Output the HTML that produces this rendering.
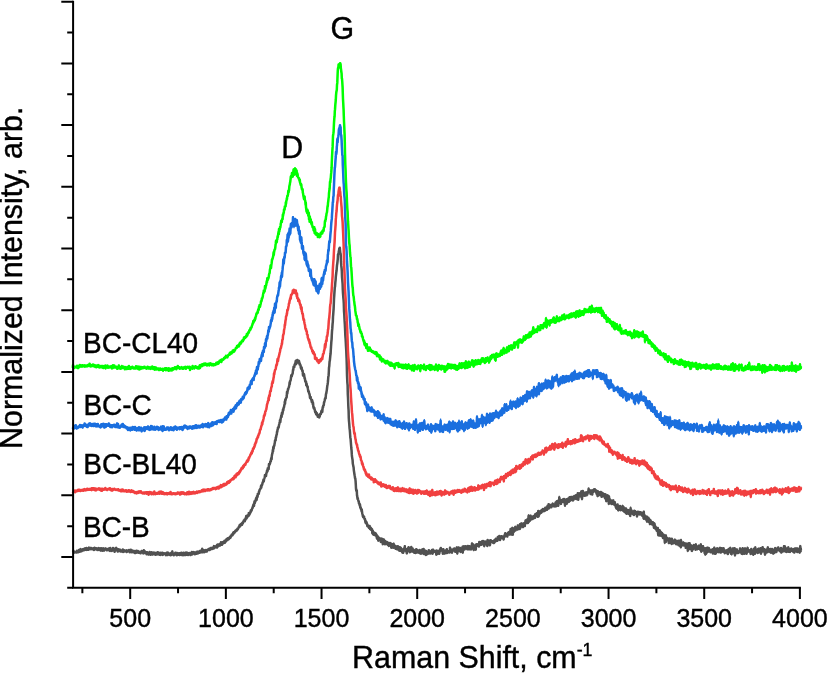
<!DOCTYPE html>
<html lang="en"><head><meta charset="utf-8"><title>Raman spectra</title>
<style>
html,body{margin:0;padding:0;background:#fff;}
body{width:827px;height:673px;overflow:hidden;position:relative;font-family:"Liberation Sans",Arial,sans-serif;}
svg{position:absolute;left:0;top:0;display:block;}
text{font-family:"Liberation Sans",Arial,sans-serif;fill:#000;stroke:#000;stroke-width:0.4px;}
.tk{font-size:25px;text-anchor:middle;}
.lb{font-size:28px;}
.pk{font-size:30.4px;}
.ti{font-size:30.4px;}
.cv{fill:none;stroke-width:2.5;stroke-linejoin:round;stroke-linecap:butt;}
.fz{fill:none;stroke-width:1.1;stroke-linejoin:bevel;stroke-linecap:butt;}
</style></head><body>
<svg width="827" height="673" viewBox="0 0 827 673">
<rect width="827" height="673" fill="#fff"/>
<g stroke="#515151"><path class="cv" d="M72.8,550.3l.2 .3l.3 .1l.3 .8l.2-.2l.2 .4l.3 .7l.3 .2l.2-.1l.2-.5l.3-.1l.3 0l.2 .3l.2 .2l.3-.7l.3-.3l.2 1l.2-1.6l.3 1.1l.3 .3l.2-1l.2-.2l.3 .2l.3 .9l.2-.6l.2-1.4l.3 .8l.3 .9l.2-.2l.2-.5l.3-.7l.3-1.3l.2 1.3l.2-.3l.3 .1l.3 1l.2-1l.2 0l.3 .2l.3-.6l.2-.6l.2 .2l.3 1l.3-.3l.2-.8l.2 1l.3-.7l.3-1.2l.2 1.3l.2-.5l.3-.8l.3 1.3l.2-.6l.2 0l.3 .8l.3-1.9l.2 .6l.2 .6l.3 .5l.3-.7l.2-.3l.2 0l.3 .6l.3 .5l.2-1.6l.2-.6l.3 1.1l.3-.2l.2-.5l.2 1l.3 .1l.3-1l.2 .2l.2 .8l.3-.5l.3-.6l.2 1l.2-.5l.3 .8l.3-.7l.2 .2l.2 .4l.3-.5l.3-.4l.2-.2l.2 1.9l.3-.4l.3-1.8l.2 .3l.2 1.1l.3-.9l.3 .4l.2 .5l.2-.6l.3-.2l.3-.2l.2 .3l.2 .4l.3 1.1l.3-.4l.2-.8l.2 .9l.3-.5l.3-1.1l.2 1l.2 .8l.3-1.1l.3 1l.2-.9l.2 .2l.3-.8l.3 2.3l.2-1l.2 .3l.3-1l.3-.6l.2 1.9l.2-1.3l.3 1.7l.3-1.2l.2 1.3l.2-1.6l.3-.7l.3 1.8l.2-.5l.2 .1l.3 .7l.3-1.3l.2-.3l.2 .1l.3-.4l.3-.1l.2 .4l.2 .2l.3 .4l.3-.5l.2 .7l.2 .6l.3-.7l.3 .4l.2-1l.2 .8l.3 .1l.3-.8l.2-.6l.2 .9l.3 .2l.3 1l.2-1.2l.2 1.5l.3-2.8l.3 1.5l.2-.1l.2 .1l.3-.1l.3 .3l.2 1.1l.2-1.3l.3 .9l.3-.9l.2 .1l.2-1.6l.3 1.8l.3 .4l.2-1l.2 .5l.3-.1l.3 2.1l.2-2.1l.2 .2l.3-1.5l.3 .7l.2 1.1l.2-1.2l.3-1.1l.3 1.5l.2 .2l.2 .1l.3 .1l.3-.6l.2 2.4l.2-2.1l.3 .9l.3-1l.2 .7l.2-.4l.3 1.3l.3-.3l.2-.3l.2-.8l.3 1.8l.3 0l.2 0l.2-.8l.3 .5l.3 0l.2-.3l.2 .6l.3-1.1l.3 .3l.2-1.1l.2 2.5l.3-1.9l.3 .8l.2 .3l.2-.9l.3 .6l.3 .6l.2-.5l.2-.2l.3 .1l.3-.3l.2 .4l.2 .4l.3 .1l.3 .4l.2-.8l.2-.7l.3 1.1l.3-.5l.2 .4l.2-.6l.3 .2l.3-.1l.2 .2l.2-1.1l.3 .7l.3 .3l.2 1.2l.2-1.2l.3 .4l.3-.4l.2-1.3l.2 2.4l.3-.4l.3 .5l.2-1.8l.2 1.3l.3 0l.3-1.1l.2 1.5l.2-.6l.3 .8l.3-1.4l.2 .5l.2 .1l.3-.5l.3 1l.2 .9l.2-1l.3 .5l.3 .6l.2-.6l.2-.7l.3-1l.3 1.6l.2-.5l.2-.1l.3 .8l.3-.2l.2-1.4l.2 1.2l.3-.3l.3 .8l.2-.5l.2 .7l.3-1l.3 .3l.2-.1l.2 .3l.3 0l.3 1l.2-1.5l.2 .7l.3-1l.3-.3l.2 .5l.2-.6l.3 1.1l.3-.6l.2 .2l.2 .8l.3 .8l.3-1.4l.2-1.7l.2 1.8l.3 .2l.3 .7l.2-.9l.2-.6l.3 1.3l.3 .2l.2-.8l.2 .4l.3 .1l.3 1.6l.2-2.1l.2 .1l.3 .3l.3 .6l.2-.6l.2 .7l.3 .3l.3 .9l.2-1.4l.2 0l.3 0l.3-1.1l.2 .4l.2 .8l.3 0l.3 1.5l.2-1l.2-.4l.3 .5l.3-1.5l.2 .1l.2 0l.3 .4l.3 1.7l.2-1.6l.2-.2l.3 .5l.3 .6l.2-.2l.2 .3l.3-1.3l.3 .3l.2 .5l.2 .3l.3 1l.3-1.8l.2 1.3l.2-.6l.3 .6l.3-1l.2-.5l.2 1.8l.3-.7l.3-1.5l.2 1.8l.2-1.2l.3 .7l.3 0l.2-.9l.2 1.8l.3-1.2l.3 1.5l.2-.8l.2 0l.3-.2l.3 1.1l.2-2.1l.2 .1l.3 .1l.3 1.3l.2 0l.2-.6l.3 .2l.3-1.2l.2 2.2l.2-1.2l.3 .2l.3-.4l.2 .6l.2-.6l.3 .2l.3 .1l.2-.4l.2 .1l.3 .8l.3 .1l.2 .3l.2 .5l.3-1.8l.3-.5l.2 1l.2 1.1l.3-1l.3-1.4l.2 2.3l.2-.7l.3-1.4l.3 .4l.2 .7l.2-.5l.3 .4l.3 .5l.2-.3l.2 1.1l.3-1.1l.3 1.2l.2-1.4l.2-.4l.3-.7l.3 .8l.2 .6l.2 .5l.3-3.1l.3 2.3l.2-.6l.2 1.2l.3-.8l.3 .7l.2 1l.2-1.1l.3-.3l.3 .8l.2-.5l.2-.4l.3-1l.3 .8l.2-.9l.2 1.3l.3 .3l.3-.3l.2 1.3l.2-2.1l.3 1.1l.3-.3l.2-.9l.2 1.2l.3 .1l.3 .2l.2-1l.2 .6l.3-1l.3 1.5l.2 .3l.2-1.2l.3 .1l.3-.9l.2 .7l.2-.2l.3 .4l.3-1.1l.2 2.3l.2-1l.3 .7l.3-.4l.2-.6l.2 1.5l.3-.7l.3-1.9l.2 .9l.2-.2l.3-.4l.3 2.1l.2-2.2l.2 2l.3-2.2l.3 2.3l.2-1.3l.2-1.1l.3 1.7l.3 .2l.2-1.1l.2 1.4l.3-2l.3 1.9l.2-.5l.2 .8l.3-1.6l.3 .9l.2-1l.2 1l.3-.4l.3 .5l.2-1.4l.2 1.2l.3 0l.3 .8l.2-1.3l.2 .1l.3 .6l.3-.1l.2-2.2l.2 1.5l.3 .8l.3-1l.2-1.2l.2 .9l.3 .1l.3-.8l.2 .6l.2-.9l.3 .6l.3 .2l.2 1.3l.2-.9l.3 .7l.3-.7l.2-.9l.2 0l.3 1.3l.3-1.8l.2-.1l.2 1.6l.3-1.3l.3-.4l.2 1.8l.2-1.8l.3 1l.3-.6l.2 .1l.2-.2l.3 .6l.3 .2l.2-1.9l.2 1.6l.3-1.3l.3-.1l.2 .6l.2-.9l.3-.3l.3 1.7l.2-1.5l.2-1.1l.3-.8l.3 2.5l.2-.4l.2 1.3l.3-2l.3 0l.2 .9l.2 .9l.3 .1l.3-1.1l.2-.6l.2 .5l.3 .8l.3-1.2l.2-.4l.2 .5l.3-.2l.3-.2l.2 1.4l.2-1.1l.3-.4l.3-.4l.2-.1l.2 .5l.3 0l.3-1l.2 0l.2 .1l.3-.5l.3 1.3l.2-1.5l.2 .6l.3 .4l.3-1.5l.2 0l.2 .4l.3 .3l.3-.3l.2-.1l.2 .8l.3-1.3l.3-.1l.2 .8l.2-.4l.3 .5l.3-.1l.2-1.6l.2-.8l.3 1.8l.3-.6l.2 .1l.2-1l.3 1l.3-.9l.2 .4l.2 .1l.3-.8l.3-.3l.2-.5l.2 2.2l.3-2.9l.3 1.3l.2-1.6l.2 .4l.3 1.5l.3-1.6l.2 1.2l.2-1.1l.3 .8l.3-1.7l.2 0l.2 1.7l.3-.9l.3-1l.2 .3l.2-1.7l.3 1.6l.3-.8l.2 .1l.2 1.6l.3-1.6l.3-.3l.2-.5l.2 1.1l.3-.2l.3-1.1l.2-.7l.2 .9l.3 .1l.3-1.7l.2 2l.2-1.7l.3 .5l.3-.9l.2-.3l.2 1l.3-.9l.3-1.4l.2 1.1l.2 .1l.3-1l.3 .7l.2-1.7l.2 1.1l.3-.7l.3-.2l.2 .7l.2-.6l.3-.9l.3 .4l.2-1.1l.2 .5l.3 .3l.3-.4l.2-1.7l.2 0l.3 .3l.3-.4l.2-1.2l.2 .3l.3-.1l.3 .5l.2-1.2l.2-.4l.3-.9l.3-.4l.2 1.4l.2-.9l.3-.7l.3 .7l.2-.7l.2-.8l.3 .3l.3-1l.2 .6l.2-.4l.3-.6l.3-.1l.2-.5l.2 1l.3-1l.3-1l.2 .9l.2-.6l.3-.7l.3-.3l.2-.8l.2-.5l.3 .7l.3-1.7l.2-.6l.2-.1l.3 1.3l.3-1.6l.2 .3l.2-.6l.3-.5l.3 .3l.2-.3l.2 1l.3-2l.3 0l.2 .8l.2-.8l.3-1l.3-.1l.2-1l.2 .5l.3-.6l.3-1l.2 1.7l.2-1.4l.3 .2l.3-1l.2-.9l.2-.7l.3-1.5l.3 2.5l.2-2.1l.2 .6l.3 .1l.3-1.4l.2 .4l.2 .3l.3-.8l.3 .3l.2-2.8l.2 2l.3-.2l.3-2l.2 1.1l.2-1.3l.3-.4l.3 .1l.2-1.9l.2 1.2l.3-1.6l.3 .6l.2-1.1l.2-.2l.3-1.3l.3 0l.2-1.4l.2-.3l.3-1.2l.3 .3l.2-1.3l.2 1.8l.3-3l.3-1.6l.2 1.8l.2-1.7l.3 .1l.3-.9l.2-1.3l.2-.4l.3-.9l.3 1.9l.2-1.6l.2-2.1l.3 1.2l.3-1l.2-2.4l.2-.2l.3 .2l.3-.9l.2 .6l.2-2.3l.3 .2l.3-1.7l.2-.2l.2-.4l.3-.5l.3-.2l.2-.6l.2-2l.3 1.5l.3-2.5l.2 .8l.2-.9l.3-.7l.3-1.8l.2 .1l.2-.3l.3-1.5l.3-1.3l.2 2.1l.2-2.1l.3-.8l.3-1l.2-.8l.2-1.8l.3 .7l.3-.7l.2-.5l.2 1.5l.3-2.4l.3-1l.2-.4l.2-1.6l.3 .9l.3-.8l.2-2.5l.2 .8l.3-.9l.3 .9l.2-1.9l.2-3l.3 .2l.3 .3l.2-.9l.2-.1l.3-2l.3-.5l.2 .2l.2-1.7l.3-1.5l.3 1.1l.2-3.2l.2-.9l.3-2l.3-.1l.2-3l.2 1.7l.3-4.5l.3 1.5l.2-2.7l.2-.1l.3 0l.3-2.4l.2-.7l.2-2l.3-.8l.3 .3l.2-2.9l.2 .4l.3-1.8l.3-1.6l.2 .2l.2-2.8l.3 .1l.3-2.5l.2 0l.2-1.9l.3 .4l.3-.3l.2-.9l.2-1.5l.3-1.1l.3-1.6l.2-.8l.2-1.5l.3 1.8l.3-2.9l.2-1l.2-.7l.3-1.9l.3 1.4l.2-2.9l.2-1.4l.3 1.7l.3-1.5l.2-1.4l.2-2l.3 .9l.3-2.3l.2-.7l.2 0l.3-1.9l.3-1.5l.2-2.4l.2 2.3l.3-4.1l.3 .5l.2-1.6l.2-.1l.3-.9l.3-.3l.2-1.8l.2-3.6l.3 1.6l.3-2.3l.2-.4l.2-1.9l.3 .1l.3-1.2l.2 0l.2-1.4l.3-.6l.3-3.4l.2 1.7l.2-3l.3-.1l.3-.8l.2-.9l.2-1.9l.3-2.1l.3 1.2l.2-.4l.2-1l.3-.9l.3-.5l.2-1.6l.2-2.3l.3 .2l.3-3.3l.2 .7l.2-.6l.3 .3l.3-2.1l.2-.5l.2-.8l.3 .6l.3-2.6l.2-.9l.2 3.5l.3-.8l.3-.8l.2-.6l.2-1.1l.3-1l.3 1.9l.2-1.5l.2 2.2l.3-.5l.3-1.3l.2 1.9l.2-1.7l.3 1.4l.3 2.1l.2-1.1l.2 1l.3 .4l.3 .8l.2 2.2l.2 .1l.3 .8l.3-1.3l.2 1.9l.2 .2l.3 1.6l.3-.5l.2 2.6l.2 2.3l.3-1.8l.3 0l.2 2.1l.2-1.5l.3 1.9l.3 2.3l.2-.4l.2 1.2l.3 2.2l.3-.4l.2 1.1l.2-.7l.3 3.8l.3-1.6l.2 1.7l.2 .5l.3 .8l.3-.3l.2 1.8l.2 1.2l.3 2.1l.3-.4l.2 .3l.2 1.5l.3 .9l.3 .7l.2 1.2l.2 2.2l.3-.6l.3-.4l.2 1.4l.2 .9l.3 .2l.3 1.4l.2 1.3l.2-2.2l.3 .9l.3 1.7l.2 1.8l.2-1.5l.3 3.5l.3 1.4l.2 .7l.2 .1l.3-.6l.3 1.5l.2 .5l.2 1.3l.3 1.2l.3 .1l.2-.9l.2 2.1l.3 .7l.3-1.5l.2 .4l.2 .9l.3 1.1l.3-.8l.2 2.3l.2-.7l.3 .7l.3-1.2l.2-.3l.2 .9l.3 1.2l.3-1.4l.2 .2l.2-1.9l.3-.5l.3 .2l.2 .2l.2-.9l.3-1.6l.3-1l.2 .8l.2-1.2l.3 1.6l.3-3.8l.2-1.2l.2 .6l.3-1.8l.3-.5l.2-.1l.2-2.6l.3-.5l.3-1.2l.2-1l.2-1l.3-.7l.3 .3l.2-2.5l.2-2l.3-.7l.3-2l.2-.9l.2-1.9l.3-2.5l.3-1.6l.2-1.4l.2-1.9l.3-4l.3-1.6l.2-3l.2-4.6l.3-1.8l.3-4.6l.2-.6l.2-1.8l.3-3.2l.3-2.3l.2-3.6l.2-3l.3-4.5l.3-3.3l.2-4.2l.2-3.5l.3-3l.3-4.9l.2-1.4l.2-5.2l.3-3.6l.3-4.5l.2-4.4l.2-5.4l.3-4.1l.3-4.8l.2-2.9l.2-.4l.3-3.8l.3-3l.2-3.2l.2-1.8l.3-2.5l.3-2l.2-3l.2-2.2l.3-1.7l.3-3l.2-1.8l.2-4.2l.3-.6l.3-.5l.2-2.4l.2-.3l.3-2.3l.3 1l.2-1.8l.2 2.4l.3 2.7l.3 1.1l.2 1.7l.2 5.6l.3 4.5l.3 2.7l.2 2.8l.2 5.8l.3 3.1l.3 3.9l.2 5.7l.2 3.8l.3 3.7l.3 3.1l.2 3.3l.2 7.2l.3 4.2l.3 5.9l.2 2.7l.2 4l.3 7l.3 4.3l.2 3.5l.2 4.1l.3 5l.3 7.5l.2 6.6l.2 9.5l.3 6.5l.3 3.8l.2 8.9l.2 3.1l.3 8.2l.3 5.4l.2 7.2l.2 2.9l.3 3.3l.3 4.5l.2 1.2l.2 2.6l.3 4.5l.3 1.8l.2 2.7l.2 2.6l.3 3.7l.3 2.9l.2 3.5l.2 2.2l.3 1.8l.3 1.9l.2 3.2l.2 1.1l.3 1.5l.3 1.4l.2 2.3l.2 1.5l.3 2l.3 2l.2 .9l.2 1.8l.3 .4l.3 3.1l.2 3.1l.2 3.9l.3 2.3l.3 0l.2-.4l.2 4.8l.3 1.6l.3 2.2l.2-.9l.2 1.4l.3 1l.3 1.1l.2-.3l.2 2.3l.3-.2l.3 1.6l.2 .7l.2-1.1l.3 3.2l.3-.5l.2 1l.2 .9l.3 .3l.3 1.7l.2-1.6l.2 2.5l.3 1.5l.3 .9l.2 1.4l.2 .7l.3 .7l.3-.5l.2 0l.2-.3l.3 1.5l.3 1.1l.2 0l.2 0l.3 2.2l.3 1.4l.2-1.5l.2 2.1l.3-.1l.3-.9l.2 1.6l.2-.2l.3 2.2l.3 .4l.2-.3l.2-.5l.3 1l.3 .1l.2 1l.2 .2l.3-.2l.3-1.7l.2 2.2l.2 .7l.3-1l.3-.2l.2 2.1l.2-1.5l.3 1.1l.3 .7l.2-.2l.2-.6l.3 4l.3-1.7l.2-.8l.2 3.5l.3-1.4l.3 1.5l.2 .4l.2-2.3l.3 1.9l.3 .2l.2-1.4l.2 0l.3 2.3l.3-.8l.2-1l.2 .5l.3 1.1l.3-.4l.2 3l.2 .7l.3-.9l.3-1l.2-.2l.2 .9l.3 3.3l.3-.8l.2-2.2l.2 .5l.3 1.5l.3-1.4l.2 0l.2 1.1l.3 .6l.3-.4l.2 2.5l.2-1.9l.3-.1l.3-1.4l.2 1l.2 1.1l.3 0l.3-1.8l.2 5.2l.2-2.3l.3-.1l.3-.4l.2 .2l.2-1.8l.3 2.4l.3-1l.2-.2l.2 3.4l.3-1.6l.3 .5l.2-.4l.2-.3l.3-.7l.3 2.2l.2-1.8l.2-.1l.3 .2l.3 1.9l.2 .3l.2 .4l.3-.8l.3 .1l.2 1.7l.2-2.9l.3 2.4l.3-.5l.2-.7l.2-.4l.3-.7l.3 .2l.2 .5l.2 1.1l.3 2.8l.3-2.9l.2 .6l.2-.2l.3-1l.3 .6l.2 2.8l.2-1.7l.3-1.6l.3-.6l.2 4l.2-1.8l.3-1l.3 2.6l.2-1l.2-.3l.3 .8l.3 1.8l.2-2.6l.2 2.1l.3-.7l.3-.8l.2 2.4l.2-2.1l.3 .6l.3-.6l.2-.9l.2 2l.3-1.5l.3 3.5l.2-.1l.2-2.4l.3 .1l.3-.2l.2 3.1l.2-3.3l.3 .1l.3 .3l.2 .2l.2 2.9l.3-2l.3 .8l.2-.2l.2 .2l.3 2.7l.3-.2l.2-1.5l.2-1.5l.3 3.5l.3-2.8l.2-1.3l.2 .1l.3 1l.3 .8l.2-4.2l.2 3.9l.3-.4l.3 .8l.2-1.6l.2 2.3l.3-1.7l.3 2.1l.2 1.6l.2-2.5l.3 .2l.3 0l.2-2.5l.2 2.6l.3-2.5l.3-1.4l.2 3.1l.2 .8l.3-1.8l.3-1l.2 3.9l.2-3.6l.3 3.4l.3-1.8l.2-1.1l.2 1.6l.3-3.6l.3 2l.2 .8l.2-.1l.3 1.7l.3-3l.2 2.1l.2-.8l.3 1.4l.3-.3l.2 1.2l.2-1.4l.3 2.1l.3-1.6l.2-1l.2 1l.3 .1l.3 1.7l.2-3.6l.2 1.5l.3-1.6l.3 3l.2 .1l.2-.1l.3-2.4l.3 .5l.2 1.4l.2 .5l.3 .3l.3-1.7l.2 .7l.2-.8l.3-.2l.3 .3l.2-.9l.2 2.7l.3 .7l.3-.9l.2-1.4l.2 2.6l.3-3.3l.3 2.8l.2-.3l.2 .4l.3-3.8l.3 2.9l.2-1l.2 1.7l.3-.8l.3-3.2l.2 3.5l.2 1.4l.3-1.9l.3 .3l.2-.8l.2 .5l.3-1.3l.3 3l.2 1.1l.2-3.9l.3 1.7l.3-1.1l.2 2.8l.2-1.8l.3 .8l.3-1.5l.2 1.8l.2-.4l.3-.6l.3 .3l.2-2.8l.2 3.2l.3-2.6l.3 .6l.2 .8l.2 1l.3 .2l.3-.8l.2 0l.2 .7l.3-2.1l.3 1.2l.2-.9l.2-1.5l.3 .7l.3 3l.2-2.4l.2-1.6l.3 2.2l.3-1l.2 .1l.2-.2l.3 1l.3-.3l.2-.5l.2 .5l.3-.4l.3 .8l.2 .6l.2-.9l.3 3l.3-4.1l.2 .8l.2 .5l.3 2.2l.3-.4l.2-.9l.2-1.7l.3 1.7l.3-.8l.2-.5l.2 2l.3 .2l.3-1.9l.2-1.6l.2 1.1l.3-1.9l.3-.8l.2-.5l.2 2.3l.3 0l.3-.6l.2 .1l.2 .8l.3-1l.3 2.2l.2 1.9l.2-2.5l.3-2l.3 2.4l.2 .5l.2 .6l.3 .7l.3-.3l.2 .4l.2-1.6l.3 .6l.3-2l.2 .8l.2 1.8l.3-1.5l.3-1.7l.2-.6l.2 3.8l.3-1.5l.3-.2l.2-.4l.2 1.6l.3-.8l.3-.5l.2-.2l.2-.1l.3 1.3l.3-1.3l.2 1.5l.2-4.7l.3 1.6l.3 2.2l.2-2.3l.2 .7l.3-.3l.3 .5l.2 .2l.2 2.2l.3-1.4l.3-1.3l.2 .5l.2 0l.3-.8l.3-.9l.2 1.4l.2 .3l.3-2l.3 .7l.2 .7l.2 0l.3 2l.3-2.6l.2-.5l.2 1.8l.3-2l.3 1.2l.2-2.3l.2 3.3l.3 2.7l.3-3.9l.2 0l.2 1.3l.3 .5l.3-3.7l.2 1.9l.2 .4l.3-.2l.3 .3l.2-.7l.2-.2l.3-1.2l.3 4l.2-2.3l.2 1.6l.3-1.7l.3 .2l.2-.5l.2 .9l.3-1l.3-2.4l.2 5.8l.2-3.6l.3-1.3l.3-1.2l.2 1l.2 .8l.3-1l.3 2.2l.2-3l.2 2.2l.3 0l.3-2l.2-.3l.2 .2l.3 1.2l.3-.7l.2-.1l.2 1l.3 1.3l.3-2.4l.2-.8l.2 1.4l.3 0l.3 1.8l.2-.6l.2-1l.3-1.3l.3 2.9l.2-2.6l.2 1.5l.3 .1l.3 .4l.2-2.3l.2 3l.3-1l.3-2l.2-.1l.2-2.6l.3 2.9l.3 .3l.2-2l.2 1.3l.3-1.5l.3 5.2l.2-4.2l.2 1.1l.3 .8l.3-1.1l.2 1.1l.2 .6l.3 1.4l.3-1.4l.2 1.4l.2-5l.3 .3l.3-.6l.2 1.4l.2-.8l.3 .1l.3 .7l.2 .2l.2-1.6l.3 1.3l.3-.4l.2-.4l.2 1.8l.3-4.4l.3 1.6l.2-.2l.2 0l.3-.1l.3-.5l.2 .3l.2 1.6l.3 0l.3-2.4l.2-.8l.2 1.7l.3-1.6l.3 2.5l.2-.1l.2-3.2l.3 3.2l.3-1.1l.2-1.5l.2 2.9l.3 1.6l.3-3.3l.2 .6l.2-1.7l.3 2.1l.3-1l.2 1.6l.2-1.1l.3 .8l.3-1.2l.2-1.3l.2 2.5l.3 1.9l.3-5.9l.2 3.8l.2-1.7l.3-.5l.3 2.3l.2-.4l.2 .4l.3 .2l.3-3.4l.2 4.5l.2-.4l.3-3.1l.3 .5l.2-1.9l.2 1.8l.3-.4l.3 .1l.2-.7l.2 1l.3-.5l.3-.4l.2 .7l.2 .4l.3 .6l.3-.9l.2 1.1l.2-2.6l.3 2.1l.3-2.6l.2-.1l.2-.1l.3 1.7l.3-1.9l.2-.8l.2 2l.3-1.8l.3 .7l.2 0l.2 0l.3 1.1l.3-1.9l.2-1.8l.2 2.7l.3-2.3l.3-.7l.2 .9l.2 1.5l.3-3.1l.3 .7l.2 2.4l.2 .9l.3-2.5l.3 1.1l.2-.8l.2-.4l.3-1.3l.3 1.6l.2-.9l.2 .5l.3 .5l.3 .3l.2-1.8l.2 .4l.3 1.5l.3 1.1l.2-2.5l.2 .6l.3-.3l.3-2.1l.2 1.4l.2-2.2l.3-1.1l.3 1l.2 1.3l.2-1.6l.3 2.2l.3-2.1l.2 1.7l.2-1.1l.3 2l.3-2.5l.2 .2l.2-.2l.3-1.5l.3 1.8l.2-2.1l.2-.2l.3 .5l.3-.3l.2 2.3l.2-2.8l.3 2.3l.3-5.1l.2 3.9l.2-1.2l.3 2.7l.3-4.1l.2 1.3l.2 0l.3-3.6l.3 2.9l.2 3.7l.2-4.1l.3 .8l.3-1.6l.2 2.1l.2-3.2l.3-.4l.3 2.5l.2-2.8l.2 1.8l.3-2.8l.3 3.5l.2-1.6l.2 .6l.3-.2l.3 0l.2-1.2l.2-.4l.3 1.7l.3 .2l.2-4l.2 .9l.3 .3l.3-.4l.2 2.1l.2-1.4l.3-.4l.3 1l.2 1.4l.2-4.7l.3 3.5l.3-1.1l.2-.4l.2 .2l.3-2.9l.3 2.5l.2 .3l.2-1.3l.3-1.4l.3 .5l.2 2.4l.2 .5l.3-2.4l.3 .8l.2 .6l.2-1.4l.3-1.8l.3 1.5l.2 1.7l.2-3.4l.3-.1l.3-2.2l.2 2.4l.2-1.9l.3 2.1l.3-.3l.2-2.4l.2 .1l.3 .3l.3-1.6l.2 .6l.2 3.2l.3-2.5l.3-4.6l.2 6l.2-2l.3-.4l.3 1.7l.2-.5l.2-.5l.3 0l.3-4.4l.2 3.5l.2-2.2l.3 .7l.3 1.5l.2-.1l.2-1l.3-1.3l.3 2.3l.2-2l.2 .7l.3 .1l.3 .1l.2-2.1l.2 2.2l.3-.5l.3-1.7l.2 1.1l.2 .9l.3-3.7l.3 1.1l.2-1.2l.2 .2l.3 1.6l.3-1.8l.2-.7l.2 2.3l.3-1l.3 .2l.2 1.9l.2-3.7l.3-2.1l.3 5.3l.2-2.9l.2 .2l.3 .8l.3-.4l.2-2.6l.2 .2l.3-.3l.3 .2l.2 .8l.2 .5l.3-.2l.3-2.5l.2 1l.2-1.2l.3 .2l.3 1.5l.2-1l.2-1.5l.3 1.9l.3-.1l.2-.1l.2-.7l.3-.1l.3 1l.2-2.1l.2 .6l.3-1.8l.3 1.7l.2 .7l.2-2.3l.3 .3l.3-.1l.2-.6l.2 2.3l.3-2l.3-2l.2 3l.2-2.2l.3 2l.3-4.3l.2 4.3l.2-3l.3 .8l.3 .7l.2 .3l.2-2.4l.3 2.2l.3 0l.2-1.2l.2 0l.3 1.4l.3-2.5l.2 1.4l.2-.6l.3-.4l.3-.9l.2-.7l.2 2.3l.3 .2l.3 .2l.2-1.4l.2 .5l.3-.2l.3 .3l.2-.9l.2 1.8l.3-2.5l.3-1.4l.2 1.4l.2-.7l.3 2.9l.3-3.9l.2-.9l.2 2.8l.3 .6l.3 .2l.2-3.9l.2-.3l.3 5l.3-4l.2-1.4l.2 2.7l.3-5.6l.3 2l.2 2.2l.2 1.1l.3-.9l.3 .4l.2 1l.2 .7l.3-3.6l.3 0l.2 1.4l.2-1.2l.3-.5l.3 .7l.2-1.3l.2 1.6l.3 .9l.3-1.3l.2-.5l.2-1l.3 .7l.3 0l.2 3.5l.2 2.1l.3-4.8l.3 .8l.2 2.5l.2-4.3l.3 4.1l.3-3.8l.2-.6l.2 4.1l.3-3.9l.3 1.1l.2 .7l.2-1.3l.3-1.5l.3 .7l.2 1.6l.2 .9l.3-1.3l.3-3.2l.2 2.7l.2-1.7l.3 2.4l.3-.8l.2-2.1l.2-.8l.3 .5l.3 1.1l.2 .6l.2-2l.3 1.1l.3 2.1l.2-.2l.2-3l.3 3.1l.3-.9l.2-1.3l.2 .5l.3-2.5l.3 1.4l.2 .2l.2 .3l.3-2.2l.3 2.8l.2-1.6l.2-1.6l.3 3.8l.3-.4l.2-2l.2-.9l.3 1.2l.3-2.3l.2-1.4l.2 5.3l.3 1l.3-3.2l.2-.6l.2-1.7l.3-.8l.3 .2l.2 2.5l.2-1l.3 0l.3 1.3l.2-1.5l.2 1.9l.3-5.1l.3 3.6l.2 1.5l.2 2.3l.3-3.1l.3 .3l.2-5.1l.2 4l.3-.8l.3-1.7l.2 1.4l.2-.1l.3-.6l.3 1.3l.2 1.2l.2-.9l.3-.1l.3-2.2l.2 1.8l.2-.4l.3 .3l.3 1l.2-1.4l.2-1.6l.3 2.2l.3-2.1l.2 .4l.2-.4l.3 .2l.3-3.8l.2 1.9l.2 .9l.3-.1l.3-.3l.2 .5l.2 .4l.3-1.7l.3 3.7l.2-2.1l.2 .6l.3-.4l.3-1.5l.2-.1l.2 1.5l.3 2.4l.3-3.8l.2 1.7l.2-2.1l.3 1.6l.3-1.7l.2-.5l.2-.2l.3 .3l.3 .8l.2-.6l.2-.6l.3 1.9l.3 .1l.2-.5l.2 1.6l.3-.7l.3-1.2l.2 3.6l.2-1.7l.3 0l.3 3.6l.2-4.8l.2 1l.3 .2l.3 2.8l.2-.4l.2 0l.3-2l.3 .2l.2-.7l.2 2.7l.3-2.4l.3 .5l.2-1.2l.2 3l.3-.9l.3 2.7l.2-1.2l.2-1.8l.3-.9l.3 .6l.2 2.2l.2-.5l.3 .1l.3 1l.2-2.3l.2 .1l.3 1.3l.3 .2l.2-1.3l.2 4l.3-2.3l.3-1.6l.2 2.9l.2 1.2l.3 2.6l.3-3.9l.2 1.2l.2-1.4l.3 .3l.3-1.9l.2 2.8l.2 1l.3-2.6l.3 3.7l.2 3.3l.2-7.1l.3 3.3l.3-.8l.2 .9l.2 .1l.3 3.1l.3-1.7l.2 .2l.2 1.8l.3-2.3l.3 2.9l.2-3.5l.2 .3l.3 1.7l.3-.4l.2 .4l.2-.1l.3-1.9l.3 3.8l.2-1l.2 1.1l.3-.6l.3 1.1l.2-2.6l.2 1.6l.3 .5l.3 .8l.2 1.9l.2-.5l.3 1.6l.3 .2l.2-2.1l.2 2.2l.3-.6l.3-3.3l.2 2.5l.2 2.5l.3 .7l.3-2.9l.2-.5l.2 1.8l.3-.6l.3-.3l.2 1l.2-2.7l.3 3.4l.3 .7l.2-1.7l.2-.9l.3 1.6l.3 .4l.2-1.3l.2 1l.3-2l.3-1.3l.2 4.4l.2-.5l.3 .6l.3-3.3l.2 2.4l.2 2l.3-2.9l.3 1.4l.2-1.2l.2 3.1l.3-.6l.3 1.4l.2-4.4l.2 2.4l.3-.8l.3 3.8l.2-2.4l.2-.3l.3-.4l.3-.8l.2 0l.2 .8l.3 1.3l.3-1.7l.2 3.6l.2-1.4l.3-.1l.3 1.3l.2-1l.2-1.6l.3 4.8l.3-7.7l.2 4.2l.2 .8l.3-.6l.3-2.1l.2 1l.2 0l.3 .8l.3 0l.2 1.9l.2-1.4l.3-.9l.3 2.1l.2 0l.2 1l.3-4.3l.3 1.1l.2-.9l.2 1.4l.3-1l.3 2.4l.2-1l.2-.6l.3 1.7l.3-.7l.2 .9l.2 2.3l.3-4.2l.3 .2l.2-.6l.2 2.7l.3-.4l.3-.5l.2 .5l.2-2l.3 2.4l.3-1.7l.2 1.4l.2-1.8l.3 1.2l.3-1.2l.2 2.3l.2-.3l.3-.6l.3 .6l.2-1l.2-.5l.3 3l.3-.5l.2 0l.2-.8l.3 1.1l.3 2.8l.2-6.6l.2 4.4l.3 .9l.3-1.9l.2 1l.2 .5l.3 2.4l.3-2.6l.2 .7l.2 2.4l.3-1.3l.3-1.5l.2-.3l.2 4.9l.3-2.2l.3 .9l.2-.9l.2 .6l.3-2.1l.3 4.3l.2-3.4l.2 .4l.3 .8l.3 2.6l.2-1.3l.2 3l.3-4l.3 3.7l.2-1.9l.2-.7l.3 1.3l.3 1.1l.2-1.4l.2 2.3l.3-.8l.3 .3l.2-1.8l.2 1.3l.3-.7l.3 1.8l.2 2l.2 1.2l.3-4.4l.3 .8l.2 3.5l.2-.5l.3-.9l.3 2.9l.2-2l.2 .1l.3 .7l.3 .2l.2 2.6l.2-1.7l.3 1l.3-1.5l.2-.6l.2 4.8l.3 2.2l.3-4.2l.2-.7l.2 .1l.3 1.5l.3-1.4l.2 5.2l.2-4.6l.3 3.6l.3-.9l.2-1.5l.2 1.8l.3 2l.3-2.3l.2 1.8l.2-2.5l.3 1.5l.3 .1l.2 .2l.2 3.2l.3-3.3l.3 .2l.2 .8l.2-.4l.3 2l.3 2l.2 3.2l.2-3.3l.3-2.2l.3 3.6l.2-5.1l.2 6.3l.3-4.5l.3 .8l.2-.1l.2 2.2l.3-2l.3 1.7l.2 .2l.2-1l.3 .9l.3-.9l.2 4l.2-1.6l.3-.7l.3-2.2l.2 2.8l.2-2.1l.3 .5l.3 3.2l.2-2.1l.2-1.8l.3 3.2l.3 1.7l.2-5.2l.2 1.5l.3 .7l.3 1.4l.2-1.3l.2-.1l.3-.1l.3 2.5l.2-2.2l.2 1.8l.3-2.4l.3 1.4l.2-2.2l.2 .8l.3 1.4l.3 0l.2-.7l.2 2.7l.3 .2l.3-2.1l.2-1.3l.2 .5l.3 .4l.3 1.2l.2 .6l.2 1.1l.3-.6l.3 1.3l.2-2.3l.2-2.1l.3 1.8l.3 1.8l.2 1.4l.2-2l.3 1.5l.3-.8l.2 2.7l.2-6.9l.3 2.8l.3 1l.2 1.5l.2-1.1l.3-.8l.3 .9l.2 .7l.2-1l.3-1.8l.3 1.3l.2-.6l.2 2.4l.3-2.4l.3 1.3l.2 0l.2-1.1l.3 1.2l.3 .3l.2 2.9l.2-4.4l.3 1.5l.3 1.4l.2-1.6l.2 .1l.3 .7l.3 2.1l.2 3l.2-5.5l.3-1.7l.3 3.7l.2-2.3l.2-.7l.3 .5l.3-1.4l.2 5.8l.2-.1l.3-.4l.3-.3l.2-.9l.2-1.1l.3-.7l.3 2.5l.2 2.8l.2-.2l.3-3.1l.3 1.9l.2-1.9l.2 1.8l.3-2.1l.3-1.4l.2-.7l.2 2.6l.3 .3l.3-1l.2-1.7l.2 .1l.3 .6l.3 3.8l.2-5.4l.2 2.8l.3-.1l.3 .6l.2-1.4l.2 3l.3-1l.3-.8l.2 .5l.2 .1l.3 .5l.3-1.3l.2-1.5l.2 1.3l.3 1.8l.3-1.8l.2-.9l.2 3.2l.3-3.6l.3 3.4l.2-4.7l.2 4.2l.3 2.8l.3-1.4l.2-2.3l.2 1.2l.3 1l.3 .5l.2-.8l.2-3.5l.3 4.1l.3-.6l.2-1.1l.2 .8l.3-.9l.3 4.5l.2-4.6l.2 3.8l.3 2.1l.3-4.3l.2 1.8l.2-3.5l.3 5.2l.3-3.5l.2 .8l.2 .1l.3-3.2l.3 1.8l.2 2.4l.2-1.5l.3 .7l.3-3.2l.2 .2l.2 2.7l.3-.4l.3-.4l.2 .4l.2-.6l.3 2.4l.3-1.9l.2 1l.2-.1l.3-.5l.3 1.2l.2-2.2l.2 1l.3 1.7l.3-1.9l.2 2.9l.2-4.1l.3 1l.3-.2l.2-.2l.2 2.1l.3-4.2l.3 1.9l.2 3.9l.2-2.4l.3 2.6l.3-4.1l.2 3.8l.2-2.8l.3 .1l.3 1.5l.2-2l.2-1.8l.3 2.8l.3-2.8l.2 2.2l.2 1l.3 .1l.3-1.4l.2 1.8l.2-.9l.3 .2l.3-1.9l.2 .2l.2-1.9l.3 2l.3-.3l.2 2.9l.2-1.1l.3-1.3l.3-1.8l.2 3.7l.2-3.4l.3 2l.3 .9l.2-.5l.2-2.4l.3 .3l.3-.5l.2 2.2l.2 1.5l.3-1l.3 .7l.2 1.4l.2-2l.3-.4l.3 0l.2-.3l.2 .2l.3-.2l.3 1.9l.2-2l.2 1.3l.3 1.7l.3-.8l.2 1.5l.2-4.2l.3 1.3l.3-2.1l.2 .8l.2 2.1l.3-2.6l.3 .7l.2 1.6l.2-.3l.3-3.5l.3 2.1l.2 2.9l.2 .7l.3-1.9l.3 2.5l.2-2l.2-.8l.3-1.1l.3 .5l.2 0l.2-2.4l.3 1.9l.3 .4l.2 0l.2-.9l.3 3.7l.3-5.3l.2 .9l.2 6.1l.3-4.9l.3 1.5l.2-1.1l.2-.6l.3 .6l.3 .2l.2-1.5l.2 3.5l.3-.3l.3-1.4l.2 .9l.2 1l.3-1l.3-.3l.2 .3l.2 0l.3-1.3l.3 1.5l.2-.2l.2-3.5l.3 1.3l.3 2.3l.2-.7l.2-.4l.3-1.3l.3 3.9l.2-2.8l.2 .2l.3 .9l.3-3.7l.2 5.7l.2-2.4l.3 .2l.3-.8l.2 1.7l.2-3.3l.3 1.1l.3 3.2l.2-2.5l.2-2.7l.3 2.8l.3-1.5l.2-.5l.2 3l.3-1.8l.3 3.2l.2-3.8l.2 2l.3-2.9l.3-1.1l.2 3.9l.2-2.2l.3 1.6l.3-.4l.2 .8l.2-1.2l.3-.2l.3 .6l.2 .7l.2 .1l.3-1l.3 3.4l.2-3.3l.2 .6l.3-2.2l.3 2.2l.2 .9l.2 1.1l.3-1l.3 1.3l.2-.8l.2-2.2l.3 4l.3-1.6l.2 0l.2-4.3l.3 3.3l.3-3.1l.2 2.5l.2 2.3l.3-6.2l.3 3.8l.2 1.2l.2-2.5l.3 0l.3-.4l.2 1.8l.2 .2l.3 .8l.3-2.3l.2 2.9l.2-3.8l.3-.3l.3 .7l.2-.8l.2 .9l.3 1l.3 1.3l.2 .3l.2-.9l.3 .3l.3-3.4l.2 2.6l.2 2.7l.3-3.7l.3 .9l.2-.2l.2 .9l.3-.5l.3-3.8l.2 2.4l.2-.4l.3 1.5l.3-1.8l.2 .1l.2 1.6l.3 .4l.3 1.7l.2-3.1l.2 4.8l.3-3.4l.3 2.3l.2-2.2l.2-.8l.3 1.5l.3-1.3l.2 1.4l.2-2.3l.3-.6l.3 3.2l.2-4.8l.2 3.6l.3-2.1l.3 2l.2-1.3l.2-.3l.3 .3l.3-.4l.2 2.6l.2-.9l.3-1.9l.3 .1l.2 3.5l.2-2.5l.3 1.5l.3-1.4l.2 .1l.2-1.3l.3 3.5l.3 .4l.2-3.4l.2 2.6l.3 1.4l.3-1.9l.2-.9l.2-.9l.3 2.9l.3-1.8l.2 .5l.2-1.9l.3-1.4l.3 .8l.2 .9l.2 1.1l.3 1.2l.3-1.3l.2-.9l.2 .6l.3-1.7l.3 .9l.2-1.9l.2 2.1l.3-2.3l.3 1.1l.2 .9l.2 .7l.3-.2l.3 .2l.2 .6l.2-.3l.3 .8l.3-.3l.2-.1l.2-2.9l.3 4.4l.3-2.3l.2-1l.2 2.6l.3-1.4l.3-1.7l.2 .6l.2 1.1l.3-.9l.3 1.8l.2-1.6l.2-3.5l.3 5l.3-3.6l.2-1.1l.2 2.1l.3 2l.3-2.8l.2 1.2l.2 2.4l.3 .6l.3-.8l.2-2l.2 1l.3 1.4l.3-1.5l.2 1.3l.2-.8l.3-3.2l.3 2l.2 2.4l.2-1.8l.3-.8l.3 2.3l.2-2l.2 2.5l.3-3.1l.3 1.6l.2-1.7l.2 2.1l.3-2.4l.3 1.1l.2-.7l.2 1.4l.3-.5l.3 1.1l.2-.9l.2-.3l.3 2.2l.3-1l.2 1.3l.2-3.2l.3 3.5l.3-2.1l.2-.4l.2-1.2l.3-.3l.3 2l.2 .7l.2-1l.3 .8l.3-2.5l.2 1.7l.2-.4l.3 2.3l.3-3.4l.2 .1l.2 1.8l.3 .1l.3-.6l.2 .6l.2 .4l.3-1.6l.3 3.1l.2-4.3l.2 2.8l.3-4.9l.3 5.1l.2-2.7l.1 1.8"/><path class="fz" d="M72.8,550.0l.2 .5l.3 0l.3 1.1l.2-.4l.2 .5l.3 .9l.3 .2l.2-.2l.2-.8l.3-.1l.3 0l.2 .4l.2 .3l.3-1l.3-.2l.2 1.2l.2-2.1l.3 1.5l.3 .5l.2-1.4l.2-.1l.3 .2l.3 1.3l.2-.9l.2-1.8l.3 1.2l.3 1.2l.2-.2l.2-.5l.3-1l.3-1.6l.2 1.8l.2-.4l.3 .1l.3 1.4l.2-1.4l.2 .1l.3 .3l.3-.9l.2-.7l.2 .2l.3 1.4l.3-.4l.2-1l.2 1.4l.3-1l.3-1.5l.2 1.8l.2-.8l.3-1.1l.3 1.8l.2-.8l.2 .1l.3 .9l.3-2.6l.2 .9l.2 .8l.3 .6l.3-.9l.2-.3l.2-.1l.3 .9l.3 .7l.2-2.1l.2-.8l.3 1.5l.3-.2l.2-.6l.2 1.3l.3 .2l.3-1.3l.2 .1l.2 1.2l.3-.8l.3-.8l.2 1.3l.2-.7l.3 1.1l.3-.9l.2 .2l.2 .6l.3-.6l.3-.5l.2-.4l.2 2.6l.3-.5l.3-2.5l.2 .4l.2 1.6l.3-1.2l.3 .5l.2 .7l.2-.7l.3-.3l.3-.3l.2 .4l.2 .5l.3 1.4l.3-.5l.2-1.1l.2 1.1l.3-.7l.3-1.4l.2 1.3l.2 1.1l.3-1.5l.3 1.4l.2-1.3l.2 .3l.3-1.1l.3 3.1l.2-1.3l.2 .4l.3-1.4l.3-.9l.2 2.6l.2-1.8l.3 2.3l.3-1.7l.2 1.8l.2-2.2l.3-.9l.3 2.4l.2-.7l.2 .1l.3 1l.3-1.8l.2-.4l.2 .1l.3-.5l.3-.1l.2 .5l.2 .3l.3 .5l.3-.7l.2 1l.2 .8l.3-1l.3 .5l.2-1.3l.2 1.1l.3 .2l.3-1.1l.2-.8l.2 1.3l.3 .2l.3 1.3l.2-1.6l.2 1.9l.3-3.7l.3 2l.2-.1l.2 .1l.3-.2l.3 .4l.2 1.6l.2-1.8l.3 1.2l.3-1.2l.2 .2l.2-2.3l.3 2.4l.3 .6l.2-1.5l.2 .7l.3-.1l.3 2.8l.2-2.9l.2 .2l.3-1.9l.3 1l.2 1.5l.2-1.5l.3-1.6l.3 2.2l.2 .3l.2 .1l.3 .1l.3-.8l.2 3.3l.2-3l.3 1.1l.3-1.3l.2 .8l.2-.6l.3 1.7l.3-.4l.2-.5l.2-1l.3 2.3l.3 .2l.2-.1l.2-1l.3 .7l.3 .1l.2-.4l.2 .8l.3-1.4l.3 .3l.2-1.6l.2 3.5l.3-2.6l.3 1.1l.2 .3l.2-1.2l.3 .8l.3 .7l.2-.7l.2-.2l.3 .1l.3-.4l.2 .5l.2 .5l.3 .1l.3 .6l.2-1l.2-.9l.3 1.5l.3-.6l.2 .5l.2-.8l.3 .3l.3-.2l.2 .4l.2-1.5l.3 .9l.3 .4l.2 1.5l.2-1.6l.3 .5l.3-.6l.2-1.7l.2 3.1l.3-.4l.3 .5l.2-2.3l.2 1.6l.3 0l.3-1.5l.2 2l.2-.9l.3 1.1l.3-2l.2 .8l.2 .1l.3-.7l.3 1.4l.2 1.2l.2-1.3l.3 .6l.3 .8l.2-.8l.2-.9l.3-1.4l.3 2.2l.2-.7l.2-.1l.3 1l.3-.2l.2-1.9l.2 1.7l.3-.5l.3 1.1l.2-.7l.2 1l.3-1.5l.3 .4l.2-.1l.2 .3l.3 0l.3 1.4l.2-2.1l.2 1l.3-1.3l.3-.3l.2 .7l.2-.9l.3 1.6l.3-.9l.2 .3l.2 .9l.3 1.2l.3-2l.2-2.2l.2 2.3l.3 .3l.3 1l.2-1.1l.2-.8l.3 1.8l.3 .2l.2-1.1l.2 .5l.3 .1l.3 2.1l.2-2.9l.2 .2l.3 .4l.3 .8l.2-.9l.2 .9l.3 .5l.3 1.1l.2-1.9l.2-.1l.3 0l.3-1.5l.2 .6l.2 1.2l.3-.1l.3 2.2l.2-1.4l.2-.5l.3 .6l.3-2l.2 .2l.2-.1l.3 .6l.3 2.3l.2-2.3l.2-.3l.3 .7l.3 .8l.2-.3l.2 .4l.3-1.8l.3 .4l.2 .7l.2 .4l.3 1.2l.3-2.4l.2 1.8l.2-.8l.3 .7l.3-1.2l.2-.7l.2 2.3l.3-.8l.3-2.1l.2 2.5l.2-1.6l.3 .8l.3 .1l.2-1.2l.2 2.3l.3-1.5l.3 2l.2-1.1l.2 0l.3-.3l.3 1.6l.2-2.9l.2 .2l.3 .2l.3 1.7l.2 0l.2-.8l.3 .2l.3-1.7l.2 2.9l.2-1.6l.3 .3l.3-.4l.2 .8l.2-.9l.3 .3l.3 .1l.2-.5l.2 0l.3 1.1l.3 .1l.2 .4l.2 .7l.3-2.5l.3-.6l.2 1.3l.2 1.5l.3-1.3l.3-1.8l.2 3.1l.2-1l.3-1.9l.3 .6l.2 .9l.2-.6l.3 .4l.3 .7l.2-.4l.2 1.4l.3-1.4l.3 1.6l.2-1.9l.2-.6l.3-.9l.3 1.1l.2 .8l.2 .7l.3-4.2l.3 3.2l.2-.9l.2 1.7l.3-1.1l.3 .8l.2 1.5l.2-1.6l.3-.3l.3 1l.2-.7l.2-.5l.3-1.3l.3 1.1l.2-1.2l.2 1.8l.3 .4l.3-.5l.2 1.7l.2-2.8l.3 1.5l.3-.4l.2-1.2l.2 1.6l.3 .2l.3 .3l.2-1.3l.2 .7l.3-1.2l.3 2l.2 .3l.2-1.5l.3 0l.3-1.2l.2 1l.2-.3l.3 .6l.3-1.5l.2 3.1l.2-1.5l.3 .9l.3-.5l.2-.8l.2 2l.3-.8l.3-2.6l.2 1.3l.2-.3l.3-.5l.3 2.8l.2-3l.2 2.7l.3-3l.3 3l.2-1.7l.2-1.6l.3 2.4l.3 .2l.2-1.4l.2 1.8l.3-2.6l.3 2.5l.2-.5l.2 1l.3-2.1l.3 1.2l.2-1.4l.2 1.4l.3-.5l.3 .6l.2-2l.2 1.7l.3 0l.3 1l.2-1.7l.2 .1l.3 .8l.3-.1l.2-2.9l.2 2.1l.3 1l.3-1.3l.2-1.5l.2 1.2l.3 .2l.3-1.1l.2 .9l.2-1.1l.3 .8l.3 .3l.2 1.6l.2-1.3l.3 1l.3-1l.2-1.2l.2 0l.3 1.8l.3-2.3l.2-.2l.2 2.3l.3-1.8l.3-.5l.2 2.5l.2-2.4l.3 1.3l.3-.7l.2 .1l.2-.1l.3 .7l.3 .3l.2-2.4l.2 2.2l.3-1.8l.3 0l.2 .7l.2-1.1l.3-.4l.3 2.3l.2-2l.2-1.5l.3-1.1l.3 3.3l.2-.4l.2 1.7l.3-2.7l.3 0l.2 1.2l.2 1.3l.3 0l.3-1.4l.2-.7l.2 .6l.3 1.2l.3-1.7l.2-.4l.2 .7l.3-.3l.3-.1l.2 1.8l.2-1.4l.3-.6l.3-.5l.2 0l.2 .6l.3 .1l.3-1.3l.2 0l.2 .2l.3-.7l.3 1.8l.2-2l.2 .8l.3 .7l.3-2l.2 0l.2 .5l.3 .5l.3-.3l.2-.2l.2 1.1l.3-1.8l.3-.1l.2 1.2l.2-.6l.3 .7l.3 0l.2-2.1l.2-1.1l.3 2.4l.3-.7l.2 .2l.2-1.3l.3 1.4l.3-1.1l.2 .5l.2 .2l.3-.9l.3-.4l.2-.7l.2 3l.3-3.9l.3 1.9l.2-2.2l.2 .6l.3 2.1l.3-2.1l.2 1.6l.2-1.5l.3 1.1l.3-2.3l.2 .2l.2 2.3l.3-1.2l.3-1.4l.2 .5l.2-2.3l.3 2.3l.3-1.1l.2 .2l.2 2.1l.3-2.1l.3-.2l.2-.7l.2 1.6l.3-.3l.3-1.4l.2-.9l.2 1.3l.3 .1l.3-2.2l.2 2.8l.2-2.2l.3 .7l.3-1.1l.2-.3l.2 1.4l.3-1.1l.3-1.7l.2 1.5l.2 .2l.3-1.2l.3 .9l.2-2.1l.2 1.5l.3-.8l.3-.2l.2 1l.2-.8l.3-1.2l.3 .6l.2-1.4l.2 .9l.3 .4l.3-.4l.2-2.2l.2 .1l.3 .6l.3-.4l.2-1.6l.2 .6l.3-.1l.3 .8l.2-1.5l.2-.5l.3-1.2l.3-.5l.2 2l.2-1.1l.3-.8l.3 1l.2-.8l.2-.9l.3 .5l.3-1.3l.2 .9l.2-.5l.3-.9l.3-.1l.2-.5l.2 1.4l.3-1.3l.3-1.1l.2 1.3l.2-.7l.3-.8l.3-.2l.2-1l.2-.5l.3 1l.3-2.2l.2-.7l.2-.1l.3 1.9l.3-2.1l.2 .5l.2-.7l.3-.5l.3 .4l.2-.3l.2 1.6l.3-2.6l.3 .1l.2 1.3l.2-1l.3-1.1l.3-.1l.2-1.2l.2 .7l.3-.8l.3-1.2l.2 2.4l.2-1.9l.3 .3l.3-1.3l.2-1l.2-.8l.3-1.9l.3 3.5l.2-2.7l.2 .9l.3 .2l.3-1.8l.2 .6l.2 .6l.3-1l.3 .5l.2-3.6l.2 2.9l.3-.2l.3-2.6l.2 1.7l.2-1.6l.3-.4l.3 .4l.2-2.5l.2 1.8l.3-2l.3 1l.2-1.3l.2-.1l.3-1.6l.3 .2l.2-1.8l.2-.1l.3-1.4l.3 .7l.2-1.6l.2 2.7l.3-3.9l.3-1.9l.2 2.7l.2-2.1l.3 .3l.3-1l.2-1.5l.2-.3l.3-1.1l.3 2.8l.2-2.1l.2-2.6l.3 1.8l.3-1.1l.2-3l.2 .1l.3 .5l.3-.9l.2 1.1l.2-2.9l.3 .4l.3-2l.2-.1l.2-.4l.3-.5l.3-.2l.2-.6l.2-2.4l.3 2.1l.3-3l.2 1.3l.2-.9l.3-.8l.3-2l.2 .3l.2-.2l.3-1.9l.3-1.5l.2 3l.2-2.7l.3-.8l.3-1.2l.2-.8l.2-2.3l.3 1.1l.3-.6l.2-.5l.2 2.4l.3-3l.3-1.1l.2-.3l.2-1.8l.3 1.5l.3-.9l.2-3l.2 1.2l.3-.9l.3 1.4l.2-2.3l.2-3.7l.3 .5l.3 .7l.2-1l.2 0l.3-2.3l.3-.4l.2 .5l.2-1.9l.3-1.7l.3 1.8l.2-3.9l.2-.8l.3-2.3l.3 .1l.2-3.5l.2 2.7l.3-5.7l.3 2.5l.2-3.2l.2 .3l.3 .2l.3-2.8l.2-.5l.2-2.4l.3-.7l.3 .8l.2-3.5l.2 .8l.3-1.9l.3-1.8l.2 .6l.2-3.4l.3 .5l.3-3l.2 .3l.2-2.2l.3 .8l.3 0l.2-.9l.2-1.6l.3-1.2l.3-1.8l.2-.9l.2-1.6l.3 2.8l.3-3.7l.2-1l.2-.6l.3-2.1l.3 2.1l.2-3.5l.2-1.6l.3 2.6l.3-1.7l.2-1.6l.2-2.4l.3 1.6l.3-2.8l.2-.6l.2 .2l.3-2.1l.3-1.7l.2-3.1l.2 3.4l.3-5.2l.3 1l.2-1.8l.2 .2l.3-.9l.3 .1l.2-2.2l.2-4.4l.3 2.5l.3-2.7l.2-.1l.2-2.2l.3 .5l.3-1.3l.2 .4l.2-1.5l.3-.4l.3-4.3l.2 2.7l.2-3.6l.3 .2l.3-.8l.2-.8l.2-2.2l.3-2.6l.3 2.1l.2-.3l.2-1l.3-1l.3-.3l.2-1.8l.2-2.8l.3 .6l.3-4.1l.2 1.3l.2-.6l.3 .6l.3-2.5l.2-.5l.2-.9l.3 1l.3-3.4l.2-1.1l.2 4.9l.3-1l.3-1l.2-.7l.2-1.4l.3-1.4l.3 2.6l.2-2l.2 2.9l.3-.7l.3-2l.2 2.6l.2-2.4l.3 1.8l.3 2.6l.2-1.7l.2 1.2l.3 .3l.3 .8l.2 2.7l.2 0l.3 .7l.3-2l.2 2.4l.2 .1l.3 1.8l.3-.8l.2 3.2l.2 3l.3-2.7l.3-.3l.2 2.6l.2-2.4l.3 2.3l.3 2.8l.2-.8l.2 1.3l.3 2.7l.3-.8l.2 1.3l.2-1.3l.3 4.8l.3-2.4l.2 2l.2 .4l.3 .7l.3-.7l.2 2.2l.2 1.3l.3 2.5l.3-.8l.2 .1l.2 1.7l.3 .9l.3 .6l.2 1.3l.2 2.7l.3-1.2l.3-.8l.2 1.7l.2 1l.3 0l.3 1.7l.2 1.6l.2-3.2l.3 1l.3 2.1l.2 2.1l.2-2.3l.3 4.4l.3 1.7l.2 .5l.2-.2l.3-1.1l.3 1.7l.2 .5l.2 1.6l.3 1.4l.3 0l.2-1.3l.2 2.7l.3 .7l.3-2.2l.2 .4l.2 1.1l.3 1.4l.3-1.3l.2 3l.2-1l.3 .9l.3-1.6l.2-.5l.2 1.4l.3 1.7l.3-1.8l.2 .4l.2-2.5l.3-.5l.3 .4l.2 .4l.2-1.1l.3-2.1l.3-1.1l.2 1.4l.2-1.3l.3 2.5l.3-4.8l.2-1.3l.2 1l.3-2l.3-.5l.2 .2l.2-3.2l.3-.4l.3-1.1l.2-1.1l.2-1l.3-.6l.3 .8l.2-3l.2-2.2l.3-.5l.3-2.1l.2-.7l.2-1.9l.3-2.7l.3-1.5l.2-1.2l.2-1.7l.3-4.3l.3-1.2l.2-3.1l.2-5.3l.3-1.5l.3-5.4l.2 0l.2-1.5l.3-3.5l.3-2l.2-3.7l.2-2.8l.3-4.8l.3-3l.2-4.2l.2-3.6l.3-2.7l.3-5.4l.2-.7l.2-5.7l.3-3.5l.3-4.6l.2-4.5l.2-5.7l.3-3.8l.3-5.1l.2-2.9l.2 .5l.3-4.3l.3-3l.2-3.5l.2-1.5l.3-2.5l.3-1.8l.2-3.3l.2-2.1l.3-1.3l.3-3.2l.2-1.7l.2-4.9l.3-.2l.3-.1l.2-2.7l.2 0l.3-2.8l.3 1.4l.2-2.6l.2 2.7l.3 3l.3 .6l.2 1.5l.2 6.4l.3 4.8l.3 2.3l.2 2.3l.2 6.2l.3 2.5l.3 3.9l.2 6.5l.2 3.7l.3 3.6l.3 2.7l.2 3l.2 8.1l.3 4l.3 6.2l.2 1.9l.2 3.8l.3 7.9l.3 4.6l.2 3.3l.2 3.9l.3 4.9l.3 7.7l.2 6.2l.2 10.3l.3 6.3l.3 2.8l.2 9.9l.2 1.9l.3 9l.3 5.3l.2 7.7l.2 2.5l.3 3.2l.3 5l.2 .5l.2 2.6l.3 5.2l.3 1.6l.2 2.5l.2 2.3l.3 3.9l.3 2.9l.2 3.6l.2 2.2l.3 1.7l.3 2l.2 3.6l.2 .8l.3 1.5l.3 1.3l.2 2.3l.2 1.5l.3 2.1l.3 2l.2 .6l.2 1.8l.3-.2l.3 3.5l.2 3.5l.2 4.5l.3 2.3l.3-.7l.2-1.3l.2 5.8l.3 1.7l.3 2.6l.2-1.7l.2 1.6l.3 .9l.3 1.3l.2-.7l.2 2.8l.3-.5l.3 1.8l.2 .6l.2-1.8l.3 4l.3-.9l.2 1l.2 .9l.3 .2l.3 2.1l.2-2.4l.2 3.1l.3 1.7l.3 1.1l.2 1.6l.2 .8l.3 .6l.3-.9l.2-.2l.2-.6l.3 1.9l.3 1.3l.2-.1l.2-.3l.3 2.9l.3 1.7l.2-2.2l.2 2.7l.3-.4l.3-1.5l.2 2l.2-.5l.3 2.9l.3 .4l.2-.6l.2-.7l.3 1.3l.3 0l.2 1.4l.2 .1l.3-.3l.3-2.4l.2 2.8l.2 .9l.3-1.6l.3-.3l.2 2.6l.2-2.1l.3 1.3l.3 .8l.2-.5l.2-.9l.3 5.3l.3-2.5l.2-1.1l.2 4.6l.3-1.9l.3 1.9l.2 .4l.2-3.1l.3 2.4l.3 .3l.2-2.1l.2 .1l.3 3l.3-1.1l.2-1.5l.2 .6l.3 1.4l.3-.7l.2 4l.2 .8l.3-1.4l.3-1.4l.2-.5l.2 1.1l.3 4.4l.3-1.2l.2-3l.2 .7l.3 2l.3-1.9l.2 0l.2 1.5l.3 .7l.3-.7l.2 3.3l.2-2.7l.3-.3l.3-1.9l.2 1.2l.2 1.5l.3 0l.3-2.5l.2 7l.2-3.1l.3-.2l.3-.6l.2 .2l.2-2.6l.3 3.2l.3-1.4l.2-.3l.2 4.6l.3-2.2l.3 .6l.2-.6l.2-.4l.3-1l.3 2.9l.2-2.5l.2-.1l.3 .2l.3 2.5l.2 .3l.2 .5l.3-1.1l.3 .1l.2 2.3l.2-4.1l.3 3.2l.3-.7l.2-.9l.2-.5l.3-1l.3 .3l.2 .6l.2 1.4l.3 3.7l.3-4l.2 .9l.2-.4l.3-1.4l.3 .8l.2 3.8l.2-2.2l.3-2.3l.3-.8l.2 5.3l.2-2.4l.3-1.4l.3 3.4l.2-1.4l.2-.4l.3 1l.3 2.4l.2-3.5l.2 2.7l.3-1l.3-1l.2 3.3l.2-3l.3 .9l.3-.9l.2-1.2l.2 2.7l.3-2.1l.3 4.6l.2-.2l.2-3.2l.3 .1l.3-.3l.2 4.1l.2-4.5l.3 .2l.3 .3l.2 .2l.2 4l.3-2.8l.3 1l.2-.4l.2 .2l.3 3.6l.3-.2l.2-2.1l.2-1.9l.3 4.7l.3-3.7l.2-1.8l.2 .1l.3 1.4l.3 1.1l.2-5.7l.2 5.3l.3-.7l.3 1.1l.2-2.2l.2 3.2l.3-2.4l.3 2.8l.2 2.1l.2-3.4l.3 .3l.3-.1l.2-3.4l.2 3.6l.3-3.4l.3-1.8l.2 4.1l.2 1.2l.3-2.5l.3-1.3l.2 5.2l.2-4.9l.3 4.5l.3-2.3l.2-1.5l.2 2.3l.3-4.9l.3 2.8l.2 1.1l.2-.2l.3 2.4l.3-4.1l.2 2.8l.2-1.1l.3 1.8l.3-.4l.2 1.5l.2-2l.3 2.8l.3-2.3l.2-1.2l.2 1.3l.3 .1l.3 2.3l.2-4.7l.2 2l.3-2.2l.3 4l.2 .1l.2-.2l.3-3.4l.3 .7l.2 1.8l.2 .8l.3 .5l.3-2.3l.2 .9l.2-1l.3-.2l.3 .3l.2-1.2l.2 3.7l.3 .9l.3-1.4l.2-1.8l.2 3.4l.3-4.3l.3 3.7l.2-.3l.2 .5l.3-5.2l.3 3.9l.2-1.4l.2 2.3l.3-1.1l.3-4.3l.2 4.8l.2 2l.3-2.6l.3 .5l.2-1.1l.2 .6l.3-1.8l.3 4.2l.2 1.3l.2-5.4l.3 2.4l.3-1.5l.2 3.7l.2-2.5l.3 1.1l.3-1.9l.2 2.4l.2-.6l.3-.7l.3 .4l.2-3.8l.2 4.3l.3-3.5l.3 .8l.2 1.1l.2 1.3l.3 .3l.3-1.1l.2 0l.2 .9l.3-2.8l.3 1.6l.2-1.3l.2-2l.3 1l.3 4.1l.2-3.3l.2-2.1l.3 3l.3-1.3l.2 .1l.2-.1l.3 1.3l.3-.2l.2-.8l.2 .7l.3-.5l.3 1l.2 .8l.2-1.3l.3 4l.3-5.6l.2 1.1l.2 .6l.3 3l.3-.6l.2-1.2l.2-2.2l.3 2.3l.3-1l.2-.7l.2 2.8l.3 .4l.3-2.5l.2-2.1l.2 1.5l.3-2.5l.3-1.1l.2-.7l.2 3.1l.3-.1l.3-.8l.2 .1l.2 1l.3-1.3l.3 2.9l.2 2.5l.2-3.4l.3-2.8l.3 3.2l.2 .6l.2 .9l.3 .9l.3-.4l.2 .5l.2-2.1l.3 .8l.3-2.7l.2 1.1l.2 2.4l.3-2l.3-2.3l.2-.9l.2 5.2l.3-2.1l.3-.3l.2-.5l.2 2.2l.3-1.1l.3-.5l.2-.3l.2 0l.3 1.8l.3-1.6l.2 2l.2-6.3l.3 2.2l.3 3l.2-3.1l.2 1l.3-.4l.3 .8l.2 .2l.2 3.1l.3-2l.3-1.6l.2 .7l.2-.1l.3-1l.3-1.2l.2 1.9l.2 .4l.3-2.7l.3 1l.2 1l.2 0l.3 2.6l.3-3.6l.2-.7l.2 2.4l.3-2.7l.3 1.6l.2-3.1l.2 4.5l.3 3.5l.3-5.2l.2 .1l.2 1.7l.3 .7l.3-5l.2 2.6l.2 .5l.3-.2l.3 .4l.2-.9l.2-.2l.3-1.7l.3 5.4l.2-3.1l.2 2.1l.3-2.3l.3 .3l.2-.6l.2 1.3l.3-1.3l.3-3.2l.2 7.9l.2-4.8l.3-1.8l.3-1.5l.2 1.3l.2 1.1l.3-1.3l.3 2.9l.2-4.1l.2 3l.3 .1l.3-2.6l.2-.3l.2 .3l.3 1.7l.3-1l.2-.1l.2 1.3l.3 1.7l.3-3.3l.2-1l.2 2l.3-.1l.3 2.5l.2-.7l.2-1.4l.3-1.7l.3 3.9l.2-3.5l.2 2l.3 .1l.3 .7l.2-3.1l.2 4.1l.3-1.3l.3-2.6l.2-.1l.2-3.4l.3 4l.3 .4l.2-2.7l.2 1.7l.3-2l.3 7l.2-5.8l.2 1.4l.3 1l.3-1.6l.2 1.5l.2 .9l.3 2l.3-1.9l.2 1.9l.2-6.6l.3 .5l.3-.8l.2 1.9l.2-.9l.3 0l.3 .9l.2 .4l.2-2.2l.3 1.8l.3-.5l.2-.4l.2 2.5l.3-5.9l.3 2.2l.2-.3l.2 .1l.3-.1l.3-.6l.2 .3l.2 2.2l.3 0l.3-3.3l.2-1.1l.2 2.3l.3-2.2l.3 3.5l.2 0l.2-4.3l.3 4.3l.3-1.4l.2-2l.2 4l.3 2.2l.3-4.4l.2 .7l.2-2.3l.3 2.9l.3-1.5l.2 2.1l.2-1.4l.3 1l.3-1.6l.2-1.7l.2 3.4l.3 2.5l.3-7.9l.2 5.1l.2-2.4l.3-.7l.3 3.2l.2-.6l.2 .5l.3 .3l.3-4.5l.2 6.2l.2-.5l.3-4.1l.3 .8l.2-2.5l.2 2.6l.3-.5l.3 .1l.2-.9l.2 1.4l.3-.7l.3-.6l.2 .9l.2 .7l.3 .8l.3-1.3l.2 1.6l.2-3.4l.3 2.9l.3-3.5l.2-.1l.2-.1l.3 2.4l.3-2.6l.2-1.1l.2 2.8l.3-2.4l.3 .9l.2 .1l.2 0l.3 1.6l.3-2.5l.2-2.4l.2 3.8l.3-3.1l.3-.8l.2 1.2l.2 2l.3-4.1l.3 1l.2 3.2l.2 1.4l.3-3.3l.3 1.5l.2-1.2l.2-.5l.3-1.8l.3 2.2l.2-1.2l.2 .6l.3 .6l.3 .4l.2-2.3l.2 .5l.3 2.1l.3 1.6l.2-3.3l.2 1l.3-.4l.3-2.6l.2 2l.2-3l.3-1.3l.3 1.4l.2 1.8l.2-2.3l.3 3.1l.3-3l.2 2.4l.2-1.5l.3 2.8l.3-3.3l.2 .2l.2-.2l.3-1.9l.3 2.5l.2-2.7l.2-.2l.3 .7l.3-.2l.2 3.1l.2-3.7l.3 3.2l.3-6.9l.2 5.4l.2-1.7l.3 3.7l.3-5.6l.2 1.9l.2 .1l.3-4.9l.3 4l.2 5.1l.2-5.4l.3 1.1l.3-2l.2 2.8l.2-4.2l.3-.5l.3 3.4l.2-3.8l.2 2.4l.3-3.8l.3 4.8l.2-2.2l.2 .9l.3-.2l.3 .1l.2-1.5l.2-.5l.3 2.3l.3 .4l.2-5.3l.2 1.3l.3 .4l.3-.5l.2 3l.2-2l.3-.5l.3 1.3l.2 1.9l.2-6.3l.3 4.7l.3-1.4l.2-.5l.2 .3l.3-3.8l.3 3.4l.2 .5l.2-1.6l.3-1.9l.3 .8l.2 3.3l.2 .8l.3-3.2l.3 1.1l.2 .9l.2-1.8l.3-2.5l.3 2.1l.2 2.5l.2-4.7l.3 .1l.3-2.9l.2 3.3l.2-2.4l.3 3l.3-.3l.2-3l.2 .1l.3 .5l.3-2.2l.2 .9l.2 4.4l.3-3.5l.3-6.1l.2 8.3l.2-2.8l.3-.3l.3 2.4l.2-.5l.2-.7l.3 .1l.3-5.9l.2 4.8l.2-3l.3 1l.3 2.1l.2-.2l.2-1.2l.3-1.8l.3 3.2l.2-2.8l.2 1l.3 0l.3 .3l.2-2.8l.2 3l.3-.6l.3-2.1l.2 1.5l.2 1.3l.3-5l.3 1.7l.2-1.5l.2 .4l.3 2.2l.3-2.4l.2-.9l.2 3.2l.3-1.3l.3 .4l.2 2.6l.2-4.9l.3-2.9l.3 7.2l.2-3.9l.2 .3l.3 1.1l.3-.5l.2-3.5l.2 .3l.3-.3l.3 .3l.2 1.2l.2 .7l.3-.1l.3-3.3l.2 1.4l.2-1.4l.3 .3l.3 2l.2-1.2l.2-2.1l.3 2.6l.3-.1l.2-.1l.2-1l.3 0l.3 1.5l.2-2.7l.2 .9l.3-2.3l.3 2.4l.2 1l.2-3.1l.3 .5l.3-.1l.2-.8l.2 3.2l.3-2.7l.3-2.7l.2 4.1l.2-3l.3 2.7l.3-5.7l.2 5.9l.2-4l.3 1l.3 1l.2 .4l.2-3.2l.3 3l.3 .2l.2-1.6l.2 0l.3 2l.3-3.4l.2 2l.2-.8l.3-.6l.3-1.2l.2-.8l.2 3l.3 .3l.3 .3l.2-1.8l.2 .6l.3-.3l.3 .5l.2-1.2l.2 2.6l.3-3.4l.3-1.8l.2 2l.2-.8l.3 4l.3-5.2l.2-1.1l.2 3.8l.3 1l.3 .4l.2-5.4l.2-.3l.3 6.7l.3-5.4l.2-1.8l.2 3.5l.3-7.5l.3 2.6l.2 3l.2 1.6l.3-1.3l.3 .7l.2 1.3l.2 1l.3-4.8l.3 .1l.2 1.8l.2-1.5l.3-.7l.3 1l.2-1.7l.2 2.2l.3 1.1l.3-1.7l.2-.7l.2-1.3l.3 .9l.3 0l.2 4.7l.2 2.8l.3-6.5l.3 1.2l.2 3.4l.2-5.9l.3 5.7l.3-5.1l.2-.8l.2 5.6l.3-5.2l.3 1.5l.2 .9l.2-1.7l.3-2l.3 1l.2 2.3l.2 1.2l.3-1.7l.3-4.4l.2 3.8l.2-2.3l.3 3.4l.3-1l.2-2.9l.2-1l.3 .7l.3 1.5l.2 .9l.2-2.8l.3 1.5l.3 2.8l.2-.1l.2-4.1l.3 4.3l.3-1.2l.2-1.7l.2 .8l.3-3.4l.3 1.9l.2 .4l.2 .3l.3-2.9l.3 3.8l.2-2.2l.2-2.1l.3 5.1l.3-.5l.2-2.6l.2-1.3l.3 1.7l.3-3l.2-1.8l.2 7.1l.3 1.5l.3-4.2l.2-.9l.2-2.1l.3-1l.3 .3l.2 3.3l.2-1.4l.3 0l.3 1.7l.2-2l.2 2.5l.3-6.8l.3 4.7l.2 2.1l.2 3.1l.3-4l.3 .4l.2-6.8l.2 5.5l.3-1l.3-2.4l.2 2l.2-.1l.3-.8l.3 1.8l.2 1.6l.2-1.3l.3-.1l.3-3l.2 2.5l.2-.5l.3 .3l.3 1.4l.2-1.8l.2-2.2l.3 3l.3-2.7l.2 .6l.2-.4l.3 .3l.3-5l.2 2.7l.2 1.3l.3-.1l.3-.4l.2 .6l.2 .5l.3-2.3l.3 4.9l.2-3l.2 .8l.3-.5l.3-2.1l.2 0l.2 2l.3 3.2l.3-5.1l.2 2.4l.2-2.7l.3 2.1l.3-2.3l.2-.6l.2-.1l.3 .5l.3 1.1l.2-.8l.2-.8l.3 2.6l.3 .1l.2-.8l.2 2l.3-1.1l.3-1.7l.2 4.8l.2-2.5l.3 0l.3 4.8l.2-6.5l.2 1.2l.3 .3l.3 3.7l.2-.5l.2-.1l.3-2.6l.3 .1l.2-.8l.2 3.6l.3-3.3l.3 .7l.2-1.6l.2 3.9l.3-1.3l.3 3.7l.2-1.8l.2-2.5l.3-1.2l.3 .7l.2 3l.2-.8l.3 .1l.3 1.2l.2-3l.2 .1l.3 1.6l.3 .3l.2-1.7l.2 5.3l.3-3.1l.3-2.3l.2 3.9l.2 1.5l.3 3.3l.3-5.2l.2 1.4l.2-2l.3 .5l.3-2.7l.2 3.8l.2 1.2l.3-3.5l.3 5.1l.2 4.3l.2-9.6l.3 4.3l.3-1.1l.2 1.1l.2 0l.3 4.2l.3-2.5l.2 .2l.2 2.4l.3-3.1l.3 3.9l.2-4.9l.2 .4l.3 2.2l.3-.6l.2 .4l.2-.2l.3-2.7l.3 5.1l.2-1.5l.2 1.5l.3-1.1l.3 1.5l.2-3.6l.2 2.2l.3 .5l.3 1l.2 2.6l.2-.8l.3 2.1l.3 .2l.2-3l.2 2.9l.3-.9l.3-4.5l.2 3.3l.2 3.3l.3 .9l.3-3.9l.2-.8l.2 2.5l.3-.9l.3-.4l.2 1.2l.2-3.7l.3 4.6l.3 .9l.2-2.3l.2-1.3l.3 2.1l.3 .7l.2-1.9l.2 1.4l.3-2.7l.3-1.8l.2 5.8l.2-.7l.3 .6l.3-4.5l.2 3.1l.2 2.7l.3-4.1l.3 1.9l.2-1.6l.2 4.1l.3-.8l.3 1.9l.2-5.9l.2 3.2l.3-1.1l.3 5.1l.2-3.2l.2-.5l.3-.4l.3-1.2l.2 0l.2 1.1l.3 1.7l.3-2.3l.2 4.7l.2-1.9l.3-.2l.3 1.6l.2-1.4l.2-2.1l.3 6.4l.3-10.3l.2 5.7l.2 1.2l.3-.8l.3-2.8l.2 1.3l.2 0l.3 .9l.3 0l.2 2.4l.2-2l.3-1.2l.3 2.9l.2 0l.2 1.5l.3-5.7l.3 1.5l.2-1.2l.2 1.9l.3-1.3l.3 3.2l.2-1.5l.2-.8l.3 2.3l.3-1l.2 1.1l.2 3.2l.3-5.7l.3 .3l.2-.9l.2 3.6l.3-.5l.3-.7l.2 .8l.2-2.8l.3 3.3l.3-2.2l.2 1.8l.2-2.4l.3 1.6l.3-1.7l.2 3l.2-.4l.3-.8l.3 .8l.2-1.4l.2-.7l.3 4.1l.3-.8l.2 0l.2-1.1l.3 1.4l.3 3.7l.2-9l.2 5.8l.3 1.1l.3-2.7l.2 1.3l.2 .6l.3 3.1l.3-3.6l.2 .8l.2 3.2l.3-1.9l.3-2l.2-.5l.2 6.5l.3-3l.3 1.1l.2-1.3l.2 .7l.3-2.9l.3 5.7l.2-4.7l.2 .3l.3 1l.3 3.4l.2-1.8l.2 4.1l.3-5.5l.3 4.8l.2-2.5l.2-1l.3 1.7l.3 1.4l.2-1.9l.2 3l.3-1.2l.3 .3l.2-2.5l.2 1.6l.3-1l.3 2.2l.2 2.6l.2 1.4l.3-6l.3 .9l.2 4.6l.2-.8l.3-1.4l.3 3.9l.2-2.8l.2 .1l.3 .9l.3 .2l.2 3.5l.2-2.4l.3 1.3l.3-2.1l.2-1l.2 6.3l.3 2.8l.3-5.8l.2-1.3l.2 .1l.3 1.9l.3-2l.2 6.9l.2-6.2l.3 4.7l.3-1.2l.2-2.1l.2 2.3l.3 2.7l.3-3.3l.2 2.5l.2-3.5l.3 2l.3 .1l.2 .3l.2 4.3l.3-4.5l.3 .1l.2 1l.2-.6l.3 2.5l.3 2.6l.2 4.2l.2-4.4l.3-3l.3 4.7l.2-6.9l.2 8.4l.3-6.2l.3 1.1l.2-.2l.2 2.8l.3-2.6l.3 2.1l.2 .4l.2-1.4l.3 1.2l.3-1.3l.2 5.3l.2-2.2l.3-1l.3-3.1l.2 3.8l.2-2.9l.3 .6l.3 4.4l.2-2.8l.2-2.5l.3 4.4l.3 2.2l.2-7l.2 1.9l.3 .9l.3 1.8l.2-1.9l.2-.2l.3-.1l.3 3.3l.2-2.9l.2 2.4l.3-3.2l.3 1.8l.2-3l.2 1.2l.3 1.9l.3-.1l.2-.9l.2 3.6l.3 .2l.3-2.8l.2-1.8l.2 .7l.3 .4l.3 1.6l.2 .8l.2 1.5l.3-.9l.3 1.8l.2-3.3l.2-2.8l.3 2.5l.3 2.3l.2 1.9l.2-2.9l.3 2.1l.3-1.2l.2 3.6l.2-9.4l.3 3.9l.3 1.3l.2 1.9l.2-1.5l.3-1l.3 1.1l.2 .9l.2-1.3l.3-2.4l.3 1.7l.2-.7l.2 3.3l.3-3.1l.3 1.7l.2 0l.2-1.5l.3 1.7l.3 .3l.2 3.9l.2-6l.3 1.9l.3 1.8l.2-2.2l.2 0l.3 .8l.3 2.8l.2 4l.2-7.4l.3-2.3l.3 4.9l.2-3l.2-1l.3 .7l.3-2l.2 7.9l.2-.2l.3-.6l.3-.4l.2-1.2l.2-1.6l.3-1l.3 3.3l.2 3.8l.2-.4l.3-4.2l.3 2.6l.2-2.5l.2 2.4l.3-2.8l.3-1.8l.2-.9l.2 3.5l.3 .4l.3-1.3l.2-2.3l.2 0l.3 .7l.3 5.1l.2-7.3l.2 3.7l.3-.1l.3 .8l.2-1.8l.2 3.9l.3-1.4l.3-1.1l.2 .7l.2 .1l.3 .6l.3-1.8l.2-1.9l.2 1.8l.3 2.4l.3-2.4l.2-1l.2 4.3l.3-4.9l.3 4.6l.2-6.5l.2 5.8l.3 3.7l.3-2.1l.2-3.2l.2 1.6l.3 1.2l.3 .6l.2-1l.2-4.8l.3 5.5l.3-.8l.2-1.5l.2 1.1l.3-1.3l.3 6.1l.2-6.1l.2 5.1l.3 2.7l.3-5.8l.2 2.4l.2-4.7l.3 6.9l.3-4.7l.2 1.1l.2 .1l.3-4.3l.3 2.4l.2 3.4l.2-2.1l.3 1l.3-4.3l.2 .2l.2 3.6l.3-.6l.3-.5l.2 .4l.2-.8l.3 3.1l.3-2.6l.2 1.4l.2-.2l.3-.7l.3 1.7l.2-2.9l.2 1.3l.3 2.4l.3-2.6l.2 3.9l.2-5.5l.3 1.4l.3-.3l.2-.3l.2 2.8l.3-5.7l.3 2.5l.2 5.3l.2-3.3l.3 3.5l.3-5.5l.2 5.1l.2-3.7l.3 .2l.3 2.1l.2-2.7l.2-2.4l.3 3.8l.3-3.9l.2 3l.2 1.2l.3 .2l.3-2l.2 2.4l.2-1.2l.3 .4l.3-2.6l.2 .2l.2-2.5l.3 2.8l.3-.3l.2 3.9l.2-1.5l.3-1.8l.3-2.5l.2 5l.2-4.6l.3 2.8l.3 1.1l.2-.7l.2-3.2l.3 .4l.3-.7l.2 2.9l.2 2.1l.3-1.4l.3 .9l.2 1.9l.2-2.8l.3-.4l.3-.1l.2-.4l.2 .2l.3-.4l.3 2.6l.2-2.8l.2 1.8l.3 2.2l.3-1l.2 2.1l.2-5.5l.3 1.7l.3-2.7l.2 1.2l.2 2.9l.3-3.5l.3 .9l.2 2.1l.2-.5l.3-4.7l.3 2.8l.2 4l.2 .8l.3-2.5l.3 3.3l.2-2.6l.2-1.2l.3-1.4l.3 .7l.2 0l.2-3.2l.3 2.6l.3 .6l.2 .1l.2-1.3l.3 5.1l.3-7.2l.2 1.1l.2 8.1l.3-6.5l.3 1.9l.2-1.5l.2-.9l.3 .7l.3 .3l.2-2.1l.2 4.7l.3-.4l.3-1.9l.2 1.2l.2 1.5l.3-1.3l.3-.3l.2 .3l.2 .2l.3-1.7l.3 1.9l.2-.1l.2-4.9l.3 1.8l.3 3l.2-1l.2-.5l.3-1.7l.3 5.2l.2-3.8l.2 .3l.3 1.2l.3-5.1l.2 7.6l.2-3.2l.3 .3l.3-1.1l.2 2.4l.2-4.5l.3 1.5l.3 4.3l.2-3.3l.2-3.6l.3 3.8l.3-2.1l.2-.6l.2 4l.3-2.4l.3 4.3l.2-5l.2 2.7l.3-3.9l.3-1.4l.2 5.2l.2-2.9l.3 2.2l.3-.6l.2 1.1l.2-1.6l.3-.2l.3 .8l.2 .7l.2 .2l.3-1.4l.3 4.5l.2-4.6l.2 .7l.3-2.9l.3 2.9l.2 1.3l.2 1.5l.3-1.4l.3 1.9l.2-1l.2-2.9l.3 5.5l.3-2.2l.2 .1l.2-5.8l.3 4.4l.3-4.2l.2 3.3l.2 3.1l.3-8.4l.3 5.3l.2 1.5l.2-3.4l.3 .1l.3-.5l.2 2.5l.2 .2l.3 1.1l.3-3l.2 3.9l.2-5.2l.3-.4l.3 .9l.2-1.1l.2 1.1l.3 1.4l.3 1.7l.2 .5l.2-1.1l.3 .4l.3-4.6l.2 3.6l.2 3.6l.3-5.1l.3 1.3l.2-.3l.2 1.3l.3-.7l.3-5.1l.2 3.2l.2-.4l.3 2l.3-2.4l.2 .1l.2 2l.3 .6l.3 2.3l.2-4.3l.2 6.5l.3-4.6l.3 3l.2-2.8l.2-1.1l.3 1.9l.3-1.7l.2 1.9l.2-3.1l.3-.8l.3 4.4l.2-6.6l.2 4.9l.3-2.7l.3 2.8l.2-1.7l.2-.4l.3 .4l.3-.6l.2 3.5l.2-1.2l.3-2.6l.3 .2l.2 4.7l.2-3.4l.3 2l.3-1.9l.2 .1l.2-1.8l.3 4.6l.3 .5l.2-4.6l.2 3.5l.3 1.8l.3-2.7l.2-1.1l.2-1.2l.3 4l.3-2.4l.2 .7l.2-2.6l.3-1.9l.3 1.1l.2 1.3l.2 1.5l.3 1.6l.3-1.7l.2-1.1l.2 .8l.3-2.1l.3 1.3l.2-2.6l.2 2.8l.3-3.1l.3 1.4l.2 1.2l.2 1l.3-.4l.3 .3l.2 .8l.2-.5l.3 1l.3-.4l.2-.2l.2-3.9l.3 6l.3-3l.2-1.4l.2 3.5l.3-1.8l.3-2.3l.2 .9l.2 1.5l.3-1.2l.3 2.5l.2-2.2l.2-4.7l.3 6.7l.3-4.8l.2-1.5l.2 2.7l.3 2.7l.3-3.8l.2 1.6l.2 3.2l.3 .9l.3-1.2l.2-2.7l.2 1.4l.3 1.9l.3-2.2l.2 1.9l.2-1.2l.3-4.3l.3 2.7l.2 3.1l.2-2.4l.3-1l.3 3l.2-2.6l.2 3.4l.3-4.1l.3 2.3l.2-2.3l.2 2.9l.3-3.2l.3 1.4l.2-1l.2 2l.3-.8l.3 1.4l.2-1.2l.2-.5l.3 3l.3-1.3l.2 1.7l.2-4.3l.3 4.7l.3-2.8l.2-.5l.2-1.7l.3-.4l.3 2.8l.2 .9l.2-1.2l.3 1l.3-3.4l.2 2.4l.2-.7l.3 3.1l.3-4.7l.2 .1l.2 2.5l.3 .1l.3-.8l.2 .9l.2 .5l.3-2.1l.3 4.2l.2-5.7l.2 3.7l.3-6.5l.3 6.9l.2-3.7l.1 2.3"/></g>
<g stroke="#f14040"><path class="cv" d="M72.8,491.8l.2 .5l.3-.2l.3-.9l.2 .1l.2-.1l.3 .6l.3-.3l.2 .4l.2-1.4l.3 1.7l.3-1l.2 .3l.2-.5l.3-.3l.3 .3l.2 .1l.2-.6l.3 0l.3 .4l.2-.7l.2-.3l.3 1l.3-.5l.2-.6l.2 .6l.3 .2l.3-.4l.2-.2l.2 .7l.3 .3l.3-.7l.2-.3l.2 .5l.3 .1l.3-.5l.2 .4l.2 .2l.3-.6l.3-.3l.2 .6l.2-.1l.3 .4l.3-1.3l.2 .3l.2-.1l.3-.5l.3 .8l.2 .2l.2-.7l.3 1l.3-.3l.2-.1l.2-.1l.3 .3l.3-1.2l.2 1l.2-.1l.3-1.2l.3 1l.2-.3l.2 .5l.3-.7l.3 .3l.2 .1l.2-.6l.3 .7l.3-.4l.2 .3l.2-.6l.3 .8l.3-.3l.2-.4l.2 .4l.3 .3l.3 .3l.2-1.8l.2 1.2l.3-.2l.3-.4l.2-.5l.2 1.2l.3-1.3l.3 .9l.2 .5l.2-1.4l.3 .8l.3-.5l.2 .9l.2 .6l.3 .3l.3-1.9l.2 .6l.2 .7l.3 .4l.3-.5l.2-.6l.2 .5l.3-.2l.3-.2l.2-.3l.2 .5l.3-.1l.3-.3l.2-.1l.2-.5l.3 .4l.3 1l.2-.6l.2-.6l.3 1.5l.3-.4l.2 .9l.2-1l.3-.2l.3-.5l.2 1.3l.2 .6l.3-1.7l.3 0l.2 .6l.2-.8l.3 .2l.3-.1l.2 .2l.2 .4l.3-.6l.3 .5l.2-.7l.2 .4l.3-1.2l.3 .3l.2 1.2l.2-.6l.3 .6l.3 .1l.2 .4l.2-.2l.3 .2l.3-.6l.2-.3l.2 0l.3 .1l.3-.4l.2 .3l.2 .2l.3 .1l.3-.3l.2-.8l.2 1l.3 .2l.3 .4l.2-.2l.2-.6l.3 0l.3 1.4l.2-.6l.2 .5l.3 .1l.3-1.5l.2 .6l.2 .1l.3 0l.3 0l.2-.1l.2 0l.3-.9l.3 .7l.2-.3l.2 .5l.3-.3l.3 .6l.2 .1l.2-.2l.3 0l.3-.1l.2-.2l.2 .1l.3-.1l.3 .5l.2-.2l.2 .4l.3-.9l.3 1.2l.2-.7l.2 .2l.3 .3l.3-.1l.2 .5l.2-.5l.3-.2l.3 .1l.2 1.1l.2-.6l.3-.7l.3 .6l.2-.8l.2 1.6l.3-1.7l.3 1l.2 0l.2-.9l.3 1l.3 .4l.2-.2l.2 0l.3 .4l.3-.4l.2 .1l.2-.2l.3 .4l.3-.8l.2 .8l.2-.7l.3-.2l.3 .7l.2 .7l.2-.3l.3-.7l.3 .7l.2-.4l.2 .2l.3 .2l.3-1.2l.2 1.3l.2-.6l.3 .1l.3-.4l.2 0l.2 .2l.3 .8l.3 .4l.2-.8l.2 .5l.3-.6l.3-.8l.2 1.1l.2 .2l.3-.3l.3 .4l.2 .2l.2-.6l.3-.3l.3 .7l.2 .1l.2-.1l.3 .7l.3 .5l.2-1l.2 .6l.3 .2l.3-.1l.2 .3l.2-.7l.3 .5l.3 .7l.2-.7l.2-.7l.3 .6l.3 .3l.2-.5l.2-.5l.3 1l.3-1.4l.2 .8l.2-.3l.3-.6l.3 1.2l.2-.4l.2-.7l.3 .9l.3-.4l.2-.7l.2 .7l.3 .5l.3 .3l.2-.2l.2 0l.3 .3l.3-.3l.2 .8l.2-.5l.3 .2l.3 .1l.2-.8l.2 .1l.3 1.1l.3-.7l.2-.3l.2 .3l.3-.4l.3 .4l.2-.4l.2 .6l.3-.9l.3 1.5l.2-.8l.2-.6l.3 .7l.3-.1l.2 .2l.2-.7l.3 .7l.3 1.6l.2-2.4l.2 .8l.3-.3l.3 .2l.2-1l.2 .3l.3 .8l.3-.3l.2 .8l.2-1.2l.3 .5l.3 1.4l.2-1.8l.2 0l.3 .6l.3 0l.2 .4l.2-.3l.3-.5l.3 .4l.2 1.1l.2-.7l.3-2l.3 1.3l.2-.3l.2 .8l.3-.3l.3 1.1l.2-.5l.2 0l.3-.3l.3-.2l.2 .2l.2 .4l.3-.4l.3-.4l.2 .8l.2-.5l.3-.1l.3-.4l.2 .2l.2 0l.3-1.1l.3 1.9l.2-.3l.2-.5l.3 .6l.3-.4l.2-.1l.2-1.5l.3 1.1l.3 .4l.2 .6l.2 .2l.3-.1l.3-1.2l.2-.4l.2 1.5l.3-.2l.3 .6l.2-.4l.2 .3l.3-.8l.3 1l.2-.4l.2 .3l.3 0l.3-.5l.2 .1l.2-.2l.3 .3l.3-.1l.2-.5l.2 .1l.3 1.2l.3-.9l.2 .6l.2-.3l.3-.5l.3-.1l.2 .3l.2 0l.3 .2l.3-1l.2 .3l.2 .2l.3 .8l.3-1.9l.2 1.4l.2-.4l.3 .5l.3-.4l.2 .4l.2 .7l.3-.6l.3 .1l.2 0l.2-.6l.3 .7l.3-.3l.2-.3l.2 .4l.3-.1l.3 .4l.2-.5l.2-.3l.3 1l.3-.3l.2 .2l.2-.3l.3-.3l.3-.2l.2 .1l.2 .5l.3-.4l.3-.9l.2 .7l.2-.7l.3 .8l.3-.7l.2 .1l.2 .7l.3 0l.3-.8l.2 1.2l.2 .6l.3-1.9l.3 1.6l.2-1.4l.2 .1l.3 .1l.3-.7l.2 1.4l.2-.4l.3-.6l.3 .3l.2-.6l.2 .6l.3 .7l.3-1.3l.2 .7l.2 .3l.3 .5l.3 .2l.2-.8l.2-.1l.3 .6l.3-.3l.2 0l.2 .6l.3 .3l.3-.8l.2-.4l.2 .4l.3-1.3l.3 .8l.2-.6l.2 1.7l.3-.8l.3-.4l.2-.1l.2-1.2l.3 1.7l.3 .5l.2-1.2l.2 .8l.3 0l.3-1.1l.2 1.3l.2 .2l.3-.6l.3-.2l.2 .4l.2-1.2l.3 .7l.3 .5l.2-1.2l.2 1.1l.3-.7l.3-.8l.2 1l.2-.4l.3 .6l.3-.8l.2 1.1l.2-1l.3 .4l.3-.6l.2 0l.2 .7l.3-.5l.3-.4l.2-.4l.2 1.3l.3-.2l.3-.6l.2 .3l.2-.7l.3-.1l.3 0l.2 .5l.2-.1l.3-.6l.3 .7l.2-.1l.2-.4l.3 .4l.3-.8l.2 0l.2 .2l.3-.4l.3 .3l.2-1.1l.2 1.3l.3-1.1l.3 .2l.2-.7l.2 .9l.3 .3l.3-.2l.2-.1l.2-1.2l.3 .4l.3 .2l.2-.1l.2 1l.3-.5l.3-.1l.2 .1l.2-.8l.3-.1l.3 0l.2 .5l.2-.1l.3 .1l.3 .2l.2-1.2l.2 .4l.3 .4l.3-.8l.2 .4l.2 .8l.3 0l.3-.1l.2-.5l.2-.3l.3 .6l.3-.9l.2 .3l.2 .4l.3-.9l.3-.2l.2 .2l.2 .2l.3-.1l.3-.2l.2 .2l.2-1.1l.3 .3l.3 .5l.2-.6l.2-.2l.3 .1l.3 .1l.2 .3l.2-.5l.3 .6l.3 .6l.2-1l.2 .7l.3-.6l.3-.8l.2 .3l.2-.4l.3 .8l.3-1l.2 1.2l.2-.4l.3-1.3l.3 1.4l.2 .3l.2-1.2l.3 .8l.3-1.5l.2 .9l.2-1.2l.3 .9l.3-1.4l.2-.6l.2 1.3l.3 .8l.3-1.6l.2 .6l.2-.5l.3-.3l.3 .4l.2 .4l.2-1.6l.3 .8l.3-.3l.2-1l.2 1.4l.3 0l.3-1.6l.2 1.3l.2-.9l.3-.2l.3 .7l.2-.7l.2-.1l.3 .5l.3-.3l.2-.4l.2-1.4l.3-.4l.3 1.2l.2-1.3l.2 .4l.3-.8l.3 .4l.2-.6l.2 1.4l.3-1.4l.3 .3l.2-.2l.2 .5l.3-1.7l.3 .4l.2-.4l.2 .1l.3-.3l.3-.7l.2 .1l.2-.4l.3 .3l.3-.5l.2-.5l.2 .1l.3 0l.3 .7l.2-1.7l.2 .1l.3 .3l.3-2l.2-.1l.2 .1l.3 .3l.3 1.1l.2-1.2l.2 .2l.3-1l.3-1.4l.2-.1l.2 1.5l.3-.7l.3-1l.2 1l.2-1.6l.3 1.2l.3-.1l.2-1.4l.2-.5l.3 .8l.3-1.4l.2 .7l.2-1.5l.3 .7l.3-.8l.2-.6l.2-.7l.3 .3l.3-1.5l.2 .5l.2-.4l.3 .3l.3-1.4l.2 1.2l.2-1.5l.3-.9l.3 1l.2-.2l.2-1.3l.3-.7l.3 .2l.2-.6l.2-.1l.3 .7l.3-1l.2-.6l.2-.4l.3-.7l.3 .1l.2-.4l.2-1.1l.3-.2l.3 1l.2-1.5l.2-.6l.3 .9l.3-1.5l.2-1.1l.2 .6l.3-1.3l.3-.3l.2 0l.2-.8l.3-1l.3-.4l.2-.6l.2 .4l.3-1.6l.3-.5l.2 1l.2-2.1l.3 .7l.3-.6l.2-1.4l.2-1.3l.3 .5l.3-.4l.2-.5l.2-1.1l.3 0l.3-.6l.2-2.1l.2 .8l.3-1.4l.3-1.2l.2-.5l.2 .6l.3-1.2l.3-2.4l.2 .6l.2-.8l.3-.6l.3-.9l.2-1l.2 .8l.3-1.7l.3-.3l.2-.9l.2-.8l.3 .1l.3-1l.2-1.5l.2-1.1l.3-.5l.3 0l.2-1.3l.2-.8l.3-1.1l.3-.8l.2-.5l.2-2.2l.3 1.5l.3-2.5l.2-.8l.2 .3l.3-1.7l.3-1.1l.2-1.4l.2-1.5l.3 .3l.3-.2l.2-2.2l.2 .7l.3-2.6l.3-.6l.2 0l.2-1.2l.3-.5l.3-1.9l.2-1.3l.2-1.6l.3-.6l.3-1l.2-1.4l.2 .2l.3-1.8l.3-2.1l.2 2.3l.2-3.5l.3-1.3l.3 .9l.2-1.1l.2-2.7l.3-1.3l.3-.6l.2 .6l.2-2.2l.3-1.5l.3-.6l.2-.1l.2-3.2l.3-.3l.3-1.9l.2 1.6l.2-1.4l.3-1.9l.3-2.1l.2-.5l.2-3.4l.3 .8l.3-2.4l.2-1.1l.2-.6l.3-.8l.3-.2l.2-.9l.2-1.4l.3-1.9l.3 .4l.2-1.5l.2 .1l.3-2.7l.3-2.5l.2 1l.2 1.2l.3-2.4l.3-1.6l.2-.1l.2-1.3l.3-1l.3-1.8l.2-.5l.2-.9l.3-1.8l.3-1.5l.2 0l.2-.5l.3-1.5l.3-1.5l.2-1.3l.2 .5l.3-3.6l.3-.7l.2-.6l.2-3.1l.3-1.3l.3-.7l.2-.9l.2-2.7l.3-1.4l.3-1.7l.2-2.6l.2 .7l.3-2.8l.3-2.7l.2 0l.2-3l.3-.8l.3-.4l.2-2.3l.2 .5l.3-3.7l.3 .4l.2-1l.2-.3l.3-1.6l.3-1.7l.2-1.4l.2-1.2l.3 0l.3-2.8l.2 .2l.2-1.6l.3-.6l.3-1.4l.2 1.5l.2-3.5l.3 .1l.3-.6l.2-.3l.2-.7l.3-.5l.3 .3l.2-2.8l.2 1.1l.3-1.5l.3 1.2l.2-1.6l.2 .1l.3 .9l.3 1.6l.2-.6l.2 .1l.3 1.3l.3-2l.2-.8l.2 2.1l.3 .5l.3 2l.2 1.5l.2-2.9l.3 4.5l.3-.2l.2 0l.2 .3l.3 2.9l.3-1.6l.2 .2l.2 1.4l.3-.8l.3 2.6l.2 .2l.2 1.2l.3 .8l.3-.5l.2 3.3l.2-1.3l.3 3l.3-2.1l.2 3.9l.2 0l.3 2.1l.3 .6l.2-.3l.2 2.2l.3 2.4l.3 1.7l.2-.9l.2 .5l.3 2.3l.3 1.8l.2 .6l.2 .8l.3 2.7l.3 1.1l.2 .7l.2-.7l.3 1.9l.3 .7l.2-.2l.2 3.1l.3 .2l.3 .3l.2 2.7l.2 .2l.3 .9l.3 1.2l.2 .7l.2-1.3l.3 1.7l.3 2.1l.2-.8l.2 1.5l.3 1.1l.3 1.8l.2 .6l.2 .3l.3-.3l.3 1.7l.2 .3l.2 .1l.3 2l.3-.2l.2-.6l.2 2.5l.3-.9l.3 1.4l.2-1.4l.2 2l.3-.2l.3 .5l.2-.2l.2 4.2l.3-1.5l.3 .8l.2 1.2l.2-.6l.3 1l.3-1.2l.2 1.8l.2-.1l.3 1.2l.3 .1l.2-1l.2-.1l.3 1l.3 1.7l.2-.2l.2 0l.3-2l.3-.7l.2 1.6l.2-.1l.3-.6l.3 .3l.2-.9l.2-1.3l.3-.2l.3 .3l.2-.5l.2-.6l.3 1.2l.3-2.7l.2-.5l.2-1.8l.3-.4l.3-.3l.2-1l.2-1.6l.3-.7l.3-1.3l.2-2.5l.2-2.1l.3 3.2l.3-2.2l.2-1.8l.2-2.4l.3-.8l.3 .6l.2-4.4l.2 .3l.3-.7l.3-2.2l.2-1.4l.2-2.9l.3-.6l.3-5.1l.2-3l.2-1.6l.3-2l.3-3.7l.2-2l.2-3.9l.3-3.2l.3-1l.2-2.6l.2-2.6l.3-4l.3-3l.2-3.3l.2-3.3l.3-4l.3-4.9l.2-5.9l.2-3.2l.3-4.2l.3-3.9l.2-4.1l.2-4.2l.3-3.8l.3-4.8l.2-4.5l.2-5l.3-3.3l.3-4.3l.2-5.2l.2-2l.3-4l.3-2.4l.2-3.6l.2-2.6l.3-2.3l.3-2.4l.2-2.4l.2-2.8l.3 .6l.3-4.3l.2-1.1l.2-1l.3-1.4l.3-.1l.2 1l.2 2.1l.3 1.6l.3 4.2l.2 .1l.2 4.2l.3 3.3l.3 3.6l.2 4.1l.2 4.3l.3 2.2l.3 3.8l.2 4.6l.2 3.8l.3 6.2l.3 7.3l.2 8.4l.2 7.8l.3 8l.3 7.2l.2 6.3l.2 7.1l.3 5.1l.3 4.5l.2 4l.2 5.6l.3 3.9l.3 4.6l.2 3.6l.2 4.8l.3 6.4l.3 8.2l.2 7.1l.2 5.2l.3 4.8l.3 3l.2 2.4l.2 3.6l.3 3.4l.3 4.5l.2 3.1l.2 4.8l.3 4.6l.3 3.6l.2 3.5l.2 4.3l.3 4.5l.3 4.1l.2 3.7l.2 2.7l.3 2.3l.3 4.6l.2 1.9l.2 2.6l.3 2.2l.3 1.2l.2 2.3l.2 2l.3 2l.3 .7l.2-.9l.2 3.2l.3 1.5l.3 1.7l.2 .7l.2 2.3l.3 .4l.3 1.1l.2 .8l.2-.5l.3 2.6l.3 .9l.2 .3l.2 1.7l.3 .9l.3 .3l.2 1.1l.2 .8l.3 1.2l.3 .4l.2 1.5l.2-.9l.3 1.9l.3-.3l.2 1.6l.2 1.5l.3 .4l.3 .7l.2 .9l.2 1.9l.3-1.1l.3 2.2l.2-.8l.2 1.5l.3 1.2l.3 0l.2 1.6l.2 1l.3-.7l.3 1.4l.2 .4l.2-.6l.3 1.8l.3 0l.2 1.9l.2-1.2l.3 2.3l.3-1.3l.2 2.1l.2-.7l.3 .2l.3 .5l.2 .2l.2 .6l.3 .5l.3-1.3l.2-.3l.2-.7l.3 2l.3 1.2l.2 .1l.2 .1l.3-.1l.3 0l.2 .5l.2 .7l.3-1.5l.3 2l.2-1.5l.2 1.2l.3-.2l.3 .3l.2-.3l.2 0l.3 .9l.3-.5l.2 2.8l.2-2l.3-.1l.3 .3l.2-.3l.2-1l.3 1.8l.3 .6l.2-1.4l.2 1.3l.3-.9l.3 1l.2 .5l.2 .3l.3 .2l.3-.7l.2 1.5l.2-.8l.3 .9l.3 .5l.2-.7l.2-.6l.3 1.5l.3-1.3l.2 .3l.2 0l.3 1.6l.3-.6l.2-1.6l.2 2.6l.3 1.2l.3-.1l.2-1.8l.2 .5l.3 .4l.3 .4l.2-.6l.2-.9l.3 1.7l.3 0l.2-1.4l.2 .9l.3 .7l.3-.1l.2 .5l.2 .2l.3-.2l.3-.6l.2-1l.2 1.7l.3 .7l.3 .6l.2-1.6l.2 .1l.3 1.3l.3 .1l.2-.9l.2 .3l.3-1.2l.3 1.1l.2-1.1l.2 .8l.3 .2l.3-.1l.2-1.1l.2 1.3l.3 1.2l.3-.2l.2-.2l.2 .8l.3 .3l.3 .1l.2-1.5l.2 .7l.3-.3l.3-.5l.2-.4l.2 1.3l.3-.6l.3 2.8l.2-1.8l.2 .1l.3 0l.3 2.1l.2-2.4l.2 .7l.3-.5l.3 .5l.2 .1l.2 .9l.3-2.2l.3 1.2l.2 1.5l.2-1.8l.3 .3l.3-.5l.2-1.5l.2 2.4l.3 1.2l.3-1.4l.2-1.2l.2 1.9l.3-.1l.3 .9l.2 0l.2-1l.3 .6l.3-2l.2 2.6l.2-.9l.3 .7l.3-.1l.2-1.3l.2 .1l.3-.7l.3-1l.2 1.9l.2 .4l.3-1.1l.3 1.8l.2-.5l.2 .3l.3-1.1l.3-.9l.2 2.4l.2-.1l.3-.5l.3-.2l.2 .3l.2 .2l.3-.2l.3-1.4l.2 2.7l.2-2.2l.3 1.1l.3 .1l.2 .6l.2-1.8l.3 2.8l.3-.5l.2 .2l.2 .5l.3-2l.3-2.3l.2 3.4l.2 .9l.3-.2l.3-1.7l.2 .4l.2 .3l.3-2.1l.3 1.1l.2 0l.2 2.2l.3-2.2l.3 2.2l.2-1.5l.2-1.6l.3 3.9l.3-3.2l.2 1.7l.2 1.1l.3-2.2l.3-.6l.2 2.3l.2-1l.3-1.8l.3 .7l.2 .7l.2 1.4l.3-1.3l.3 1l.2 1l.2-.4l.3 .1l.3-.2l.2-2.9l.2 2.9l.3-1l.3-.4l.2-1l.2-.5l.3 .6l.3 1.2l.2-1.1l.2 .4l.3 .2l.3 1.4l.2-.9l.2 .2l.3 1.6l.3-1.6l.2 1l.2-1.7l.3 1.4l.3-.2l.2 .1l.2-.7l.3-.5l.3 .7l.2-.1l.2 1.7l.3-.1l.3-2.2l.2 2l.2-1.2l.3 1l.3-1l.2-1.1l.2 2.6l.3-.6l.3-1.8l.2-.8l.2 1.5l.3-.6l.3 .9l.2 1.2l.2 1l.3-1.8l.3 2l.2-.1l.2-1.7l.3-1.3l.3 2.8l.2-.3l.2 1.8l.3-1l.3-.8l.2 .9l.2-3.6l.3 1.9l.3-.5l.2 2.3l.2-1.2l.3-3.9l.3 4.9l.2-2.4l.2 1.9l.3-1.4l.3 .8l.2 .4l.2-.6l.3-1.3l.3 2.6l.2-1.2l.2-.5l.3 .7l.3-1.8l.2 3l.2-2l.3 .1l.3 0l.2-1.5l.2-.2l.3 1.6l.3 .2l.2 1.2l.2-.9l.3-1.8l.3 1.8l.2 .2l.2 .1l.3-.9l.3-1.8l.2 2.6l.2-2.1l.3 1.5l.3-2.3l.2 2.9l.2-1.7l.3 2.3l.3 .9l.2-.7l.2-2.8l.3 .2l.3-.1l.2 1.6l.2-.4l.3-.4l.3 .2l.2 .3l.2 .1l.3 1.2l.3-2l.2 .3l.2-2.4l.3 .5l.3 .7l.2-.6l.2 1.6l.3 .9l.3-1.7l.2 0l.2 0l.3 .8l.3-.7l.2 1.1l.2-.1l.3 0l.3 .6l.2-.9l.2 .2l.3 1.9l.3-2.1l.2 1l.2-.9l.3-.6l.3 0l.2-.5l.2 .8l.3-.9l.3 0l.2 1.7l.2-1.7l.3 1.3l.3-1.1l.2 .7l.2-1.7l.3 1l.3 2.9l.2-2l.2 .2l.3-.8l.3 .7l.2-2.4l.2 .4l.3 1.5l.3 .5l.2-1.3l.2 .4l.3-.1l.3 .2l.2-1.1l.2-.3l.3 1.5l.3-2l.2 .7l.2 .2l.3-.7l.3 1.4l.2-.9l.2 .3l.3-1l.3 .3l.2 1.4l.2-.2l.3-1l.3 .9l.2-.3l.2-.1l.3 1.6l.3-2.3l.2 1l.2 0l.3-.6l.3-1l.2 2.2l.2-.5l.3-.2l.3-.1l.2 0l.2-1.2l.3 1.3l.3-2.5l.2 1.9l.2-1.8l.3 1.3l.3 1.2l.2-1.1l.2-.2l.3 1.2l.3-.8l.2-.1l.2 0l.3 2l.3-1.1l.2-.5l.2-2.3l.3 1.8l.3-2.4l.2 1.9l.2-1.8l.3 3.5l.3-4.1l.2 3.4l.2-.4l.3-3l.3 1.6l.2 1.8l.2-.6l.3-3.4l.3 1.2l.2-.8l.2 .1l.3 .5l.3 2.9l.2-1.9l.2-.4l.3-.1l.3 1.1l.2 0l.2-1.9l.3 2.7l.3-3l.2 .9l.2 .9l.3 1.4l.3-2.4l.2 .6l.2 1.1l.3-.8l.3 .5l.2-.2l.2-.9l.3 .4l.3 .3l.2-1.1l.2 1.8l.3-4.2l.3 1.1l.2 2.6l.2-1.3l.3-1.4l.3 1.1l.2 .7l.2-1.9l.3 1.5l.3-1.1l.2 0l.2 .1l.3 1.3l.3-2.6l.2 .8l.2 1.2l.3-2.2l.3-.5l.2 2.5l.2-.7l.3-.2l.3 .3l.2-1.3l.2 4.4l.3-4.6l.3 .5l.2-1.3l.2 1l.3 2.1l.3-1.9l.2 .6l.2-1.3l.3 2.6l.3-2l.2-1.6l.2 2.2l.3-1.3l.3 1l.2-.6l.2 .1l.3-.3l.3-1.3l.2-.7l.2 2.8l.3-1.3l.3 .4l.2-.8l.2-1.9l.3 .9l.3 3l.2-2.6l.2 .4l.3-1.4l.3 1l.2 0l.2 0l.3 0l.3-.8l.2 0l.2 .5l.3 .3l.3-.6l.2 2l.2-1.8l.3-.1l.3-1l.2 1.8l.2-3l.3-.1l.3 .7l.2 1.9l.2-2.1l.3 2.7l.3-1.7l.2-2l.2 1.2l.3 2.1l.3-3.3l.2-.7l.2 1.9l.3 .8l.3-.4l.2-1.7l.2 .5l.3-.1l.3 .7l.2 .7l.2-3l.3 1.3l.3-2.2l.2 .8l.2-1.9l.3 .1l.3 1.3l.2-1.5l.2 2l.3-1.6l.3 .7l.2-.2l.2-.3l.3 .5l.3 1l.2 2.2l.2-5.1l.3 1.5l.3-.8l.2-1l.2 1.3l.3-1.4l.3 .8l.2 1.4l.2-3.8l.3 2.4l.3 0l.2-1.8l.2 1.4l.3-.5l.3-1l.2 1.5l.2-3.1l.3 2.1l.3-1.1l.2-1.1l.2 1l.3-.3l.3 1.2l.2-2.8l.2 1.4l.3-.5l.3 2.1l.2-3.2l.2 2.3l.3-3.3l.3 2.2l.2-.6l.2 .4l.3-1.4l.3-1.6l.2 .3l.2 3l.3-1.5l.3-1.4l.2 1.8l.2-2.1l.3-.2l.3-.8l.2 2.6l.2 .7l.3-4.2l.3 1.8l.2 .6l.2 1.1l.3-5.4l.3 2.7l.2 .4l.2-2.6l.3 2l.3-.5l.2 .4l.2-1.7l.3 1l.3-1.4l.2 1.3l.2-.6l.3-.6l.3-1.2l.2 3.4l.2-.7l.3-.4l.3-2l.2 .1l.2 2.1l.3-1.3l.3-2l.2 .9l.2-.1l.3-.5l.3-1.1l.2 2.3l.2-1l.3-1.1l.3-1.8l.2 1l.2 .5l.3 .8l.3-1.5l.2 1.6l.2-1.3l.3-1.2l.3-2.5l.2 1.7l.2-.6l.3 1.3l.3 .2l.2 1l.2-1.9l.3-1.5l.3 3.8l.2-2.5l.2-.7l.3 0l.3-1.3l.2 2.3l.2-.3l.3 1.3l.3-.1l.2-1.1l.2 .2l.3-2l.3-.5l.2 .2l.2-1.7l.3 1l.3-.4l.2 1l.2-.9l.3-2.2l.3 2.1l.2 1.5l.2-3.9l.3 1.1l.3 .7l.2-1.8l.2 .7l.3 .5l.3-1.8l.2 1.7l.2 0l.3-2.1l.3 1.4l.2 1l.2-1.6l.3 .6l.3 0l.2-1.2l.2 1.3l.3-.9l.3-1.7l.2 1.5l.2 .2l.3-.4l.3-1.9l.2 1l.2 1l.3-1.4l.3 1l.2 .2l.2-1.5l.3 .9l.3-1.1l.2 1.6l.2-1.5l.3-.7l.3 .4l.2-.4l.2 .3l.3-.1l.3-2l.2 .5l.2 1l.3 .1l.3-.5l.2 2.9l.2-1.9l.3-1.5l.3 .7l.2 .5l.2-1.4l.3-2.6l.3 1.9l.2-.2l.2 2.3l.3-4.6l.3 3.8l.2-2.1l.2 1l.3-1.6l.3 .4l.2 .9l.2-1.4l.3 1l.3-1.4l.2-.4l.2 .1l.3-.4l.3 .3l.2 1.6l.2-3l.3-.7l.3 1.7l.2 1.9l.2-.9l.3 .3l.3-.1l.2-2.4l.2 1l.3-3.3l.3 2.4l.2 1.3l.2-2.5l.3-.6l.3 .7l.2 1.7l.2 .9l.3 1.6l.3-1.5l.2-3.4l.2-1l.3 2.8l.3 1l.2-3l.2 1.2l.3 .1l.3 .5l.2-.3l.2 .7l.3 .5l.3-1.2l.2 .7l.2 1.4l.3-3.6l.3-.2l.2 1.7l.2 1.4l.3-2l.3 .9l.2-1.6l.2 1.4l.3-1.7l.3 1.6l.2-.3l.2 0l.3 1.1l.3-.4l.2-2.1l.2 1.6l.3-3.1l.3 3l.2 2l.2-2.5l.3 0l.3-.5l.2 .9l.2-1.4l.3 1.2l.3-1.1l.2-.2l.2 .5l.3-.3l.3-2l.2 4.2l.2-2.4l.3-2.3l.3 2.9l.2-1.4l.2 0l.3 .4l.3-2.4l.2-2l.2 3.2l.3 .4l.3 .8l.2-2l.2 .5l.3 .8l.3-.9l.2 .1l.2 .5l.3-1.4l.3 2.9l.2-3l.2 1l.3-.5l.3-.5l.2 1.3l.2 .5l.3 .4l.3-1.1l.2-1.2l.2 1.5l.3-2.7l.3 1.7l.2 .5l.2 0l.3-2l.3-.4l.2 3.5l.2-2.5l.3-1.4l.3 .4l.2 1.3l.2 1.2l.3-1.4l.3 1.3l.2-1.2l.2 .3l.3 .6l.3-1.6l.2 .8l.2-.7l.3-.3l.3 1.5l.2-1.7l.2 .9l.3-1.2l.3 .6l.2-.9l.2 1.6l.3-1.5l.3-.2l.2 1.7l.2-5.3l.3 2.1l.3-1.8l.2 3.3l.2 .6l.3 .3l.3-.4l.2-1.3l.2 2.9l.3-1.8l.3-.8l.2-1.2l.2 1.6l.3-1.2l.3-.1l.2 .6l.2-.1l.3-1.3l.3 2.4l.2-2.6l.2-.1l.3 1.6l.3-.2l.2-.1l.2-.7l.3 .5l.3-.8l.2-1.3l.2 2.7l.3-2l.3 .9l.2 1.1l.2-.8l.3 3.1l.3-4.7l.2 .7l.2 1l.3 1.5l.3-1.9l.2-1.3l.2 2.9l.3-2.4l.3 .7l.2 1.2l.2-1.8l.3 .3l.3 1.1l.2-.7l.2 .6l.3-1.4l.3 .8l.2-1.2l.2-.7l.3 3.7l.3-1.7l.2 .5l.2-2.3l.3 1.2l.3-.2l.2-1.2l.2 2.3l.3-1.3l.3 .7l.2-1.4l.2 2.9l.3-.2l.3-.3l.2-1.4l.2 .6l.3 2.1l.3-1.6l.2 .8l.2 0l.3-1.3l.3 3.2l.2-3.9l.2 2.8l.3-.1l.3-1.6l.2 2.4l.2 .5l.3-.3l.3-.8l.2 1.7l.2 1.1l.3-.8l.3 2l.2-.8l.2 .2l.3 .9l.3-2.2l.2 .4l.2 1.4l.3 .3l.3 1.5l.2-.1l.2-.7l.3 .5l.3-.3l.2 .2l.2 .1l.3 1.7l.3-1.5l.2 .3l.2 .7l.3-.7l.3 .6l.2-2l.2 3.3l.3-.4l.3 1l.2 .6l.2-2.1l.3 5.3l.3-2.2l.2 .3l.2-2l.3 3l.3 0l.2-.6l.2 .9l.3 1.4l.3-1.6l.2-.4l.2 2.8l.3-1.1l.3-.3l.2 2.9l.2-2.4l.3-.3l.3 .6l.2-.7l.2 .7l.3 0l.3-.8l.2 .6l.2 .8l.3 .3l.3 .5l.2 .5l.2-.3l.3 .5l.3-.8l.2 .3l.2 1.6l.3-3.4l.3 2.7l.2 3.3l.2-5.6l.3 4l.3-3.5l.2 2.7l.2 1.8l.3 .1l.3-2.6l.2-.2l.2 0l.3 2.6l.3-1.1l.2 .6l.2 .4l.3 .4l.3 .3l.2-.3l.2-1.9l.3 3.7l.3-4.8l.2 4.6l.2-2.2l.3 .5l.3-.3l.2 .3l.2 .5l.3-.2l.3-.8l.2 2.4l.2-1.5l.3 2.4l.3-1.6l.2-.5l.2 1.5l.3 .7l.3-1.9l.2 .9l.2 2l.3-2.7l.3 .2l.2 1.1l.2-1.6l.3-1.5l.3 1l.2 2.4l.2 .4l.3 .1l.3 .2l.2-1.9l.2 2.4l.3 .8l.3-2l.2 2l.2-1.4l.3 .7l.3 .2l.2-2.1l.2 3.4l.3-2.7l.3 .9l.2-.5l.2 1l.3-.1l.3-.5l.2 1.6l.2-1.3l.3-.8l.3-2.8l.2 3l.2 0l.3-.6l.3 .1l.2 1.7l.2 .6l.3 1l.3-.9l.2-2.1l.2 1.1l.3-1.8l.3 2.4l.2-.4l.2-1.1l.3 .5l.3-.2l.2-.5l.2 2.2l.3 2.1l.3-2.7l.2 .2l.2-1l.3-.5l.3 2.9l.2-2.9l.2 .9l.3-.6l.3 .9l.2-.7l.2 .7l.3-2l.3 1.4l.2 1.9l.2-2.7l.3 .6l.3 2.5l.2-.9l.2 1l.3-3.6l.3 3l.2-1.4l.2 0l.3 2.3l.3 .9l.2-3l.2 .5l.3 .7l.3 .5l.2-1.3l.2 4.3l.3-1.8l.3-.8l.2 .1l.2 3.6l.3 .3l.3-2.7l.2 1.5l.2 1.5l.3-2.5l.3 1.1l.2 2.5l.2-2.2l.3 .5l.3-.9l.2 .8l.2 1.9l.3-1.4l.3-.3l.2 1.2l.2 3.2l.3-1.4l.3-.4l.2 1.3l.2 .8l.3 0l.3-1.8l.2 2.9l.2-.1l.3 1.6l.3-2l.2 3.2l.2-1.4l.3-1l.3 3.8l.2-1.9l.2 1.2l.3-.4l.3 1.6l.2 .2l.2 .1l.3-.2l.3-2.5l.2 .2l.2 2.4l.3-1l.3 2l.2 0l.2-1.5l.3 .9l.3 .4l.2 .7l.2 1.2l.3 1.3l.3 1l.2-2.5l.2 .6l.3 2.5l.3-.7l.2-.7l.2-2.9l.3 1.6l.3 1.5l.2-.8l.2 3l.3-2.1l.3 .2l.2-1.6l.2 .1l.3 .6l.3 .2l.2 .6l.2 .9l.3 .1l.3 1l.2-2.6l.2 2l.3 0l.3 1.7l.2-2l.2 .8l.3-1.2l.3 1.6l.2 .1l.2-1l.3 .3l.3 .6l.2 .8l.2-1.9l.3 2.5l.3-1.2l.2 2.8l.2-.4l.3-2l.3-.2l.2 3.7l.2-2.1l.3-.1l.3-1.1l.2 .3l.2 1.1l.3-.1l.3-1.6l.2 2.5l.2-1l.3-1.4l.3 2.4l.2-1.2l.2 1.2l.3-1.4l.3 1.2l.2-2.2l.2 2.4l.3-2.2l.3 2l.2-3.1l.2 2.9l.3 1l.3-.3l.2 1l.2-2.5l.3 4.1l.3-.8l.2-3.1l.2 .5l.3 .3l.3 .6l.2 .1l.2-3.2l.3 3.5l.3-1.1l.2-1.6l.2 2.9l.3-1.5l.3 1.7l.2-.6l.2-.8l.3 1.8l.3-.3l.2-1.5l.2-1.2l.3 1.4l.3 1.5l.2-.9l.2 2.4l.3-1.6l.3 0l.2 .4l.2-1.4l.3 1l.3-.6l.2-1.9l.2 .7l.3 2.9l.3-1.3l.2 .4l.2-1.5l.3 1l.3 1.6l.2-.8l.2-.8l.3 2.4l.3-1.8l.2-.3l.2 1.7l.3-3.3l.3 2.7l.2-1.9l.2 .5l.3 .1l.3 1l.2 .1l.2 .3l.3 0l.3 1.5l.2 .4l.2-.6l.3-.4l.3-1.3l.2-.8l.2 2l.3-.6l.3 1l.2-3.1l.2 5.3l.3-4.6l.3 1.5l.2 1.7l.2-3.3l.3 1l.3-1.7l.2 .8l.2-.5l.3 2.6l.3 .3l.2-.7l.2 1.9l.3 0l.3-1.7l.2-.5l.2-.2l.3-.4l.3 1.8l.2-1.3l.2-.6l.3 .2l.3 1l.2-.9l.2 1l.3-.2l.3 1.8l.2-.1l.2-2.9l.3 1.5l.3 1l.2-1.4l.2 1.4l.3-.7l.3 .1l.2-.9l.2 .3l.3 .1l.3-2.3l.2 .6l.2-.2l.3 3.1l.3-1.6l.2 .1l.2-.2l.3-.8l.3-.3l.2 1.9l.2-1.4l.3 2.4l.3-1.6l.2 0l.2-.3l.3 .2l.3 .2l.2 1.6l.2 .9l.3-4.1l.3 1.6l.2 .5l.2-1.9l.3 .3l.3 .3l.2-2.2l.2 3.6l.3-.7l.3 0l.2 .3l.2 .2l.3 2.4l.3-2.4l.2 .8l.2-1.6l.3 1l.3-.8l.2 .1l.2-.9l.3 .1l.3 1.4l.2 .3l.2-.4l.3-1.3l.3 1.1l.2-3.3l.2 4l.3-1.1l.3 .4l.2 1.1l.2-1.8l.3 1.6l.3-1.5l.2 1.1l.2-1.1l.3 .8l.3 1.3l.2-2.4l.2 .1l.3 .5l.3 .8l.2 3l.2-3.7l.3-1.6l.3 1.7l.2-1.1l.2 1.1l.3 .6l.3-1.2l.2 .3l.2-1.5l.3 2.3l.3-1.1l.2 2l.2 .5l.3-3l.3 .5l.2 .5l.2 .8l.3-2.7l.3 2l.2 2.4l.2-2.1l.3 .5l.3-.1l.2-1.4l.2 2.5l.3-.8l.3-.2l.2 .7l.2 0l.3-3.1l.3 2.7l.2-1.3l.2 .7l.3-1l.3-.3l.2 2.1l.2-1.2l.3-.3l.3-.1l.2 .4l.2-.1l.3-2.7l.3 1.7l.2 .7l.2 1.1l.3 .8l.3-2.6l.2 4.5l.2-3.1l.3 .6l.3-1l.2 .1l.2 2.4l.3-1.9l.3 .2l.2 1.3l.2 .6l.3-3.8l.3 1.4l.2 .1l.2 2l.3 .7l.3-2.9l.2 .8l.2 .3l.3 .3l.3-1.7l.2 1.3l.2-1.9l.3-2.4l.3 1.4l.2 1.8l.2 .5l.3-3.6l.3 .5l.2 2.1l.2-3.9l.3 4.6l.3 .6l.2-4.6l.2 4.3l.3-1.2l.3 1.8l.2-1.4l.2-.7l.3 .4l.3 1l.2-.8l.2-.1l.3-1.6l.3 2.4l.2-.4l.2 2.2l.3-2l.3 0l.2-.7l.2 1.6l.3-1.1l.3-.7l.2 2.6l.2 .1l.3-2.6l.3-.7l.2 2.5l.2-2.3l.3 4.2l.3-3.4l.2 1.3l.2-2.6l.3 1.4l.3 1.3l.2-.8l.2-1.1l.3 3.5l.3-1.9l.2-1l.2-.3l.3 .5l.3 1.9l.2-2.4l.2 1l.3-1.1l.3 2.4l.2-1.8l.2 1.2l.3-.5l.3-1.3l.2 1.5l.2 .3l.3-2.4l.3 2.2l.2 3.4l.2-4.4l.3 1.1l.3-2.3l.2 2l.2-1.3l.3 1.4l.3-1.1l.2-1.4l.2 2.4l.3-1.6l.3-1.1l.2 1.1l.2-1.3l.3 1.5l.3-.5l.2-.4l.2 1.3l.3-2.2l.3 2.7l.2-3.4l.2 4.3l.3-1.7l.3-.4l.2-.6l.2 1.5l.3-.8l.3 0l.2 1.4l.2-1.6l.3 .3l.3 .8l.2 .7l.2-1.5l.3 .2l.3-.2l.2 1.2l.2 .3l.3-2.9l.3 .9l.2 .1l.2 .7l.3 1l.3-1.7l.2 .2l.2 1.1l.3-2.7l.3 .7l.2 .5l.2 .7l.3 .4l.3-.7l.2 2.7l.2-2.9l.3 .6l.3 1.4l.2-.4l.2-1l.3 .4l.3 .4l.2-1l.2 .8l.3-1.8l.3 1.1l.2-1.9l.2 .8l.3-.3l.3 2.8l.2-2.1l.2 .9l.3-1.5l.3 .8l.2-.2l.2-.7l.3 2l.3-2.9l.2 2.7l.2 2.4l.3-4.1l.3 1l.2-1.9l.2 1.8l.3-2.9l.3 3.7l.2-1.3l.2-1.6l.3 .7l.3-.4l.2 1.5l.2 1.3l.3-1.5l.3-.9l.2 .3l.2 1l.3-3.1l.3 3.5l.2-.4l.2-3.4l.3 4.1l.3-3.3l.2 1.6l.2 1.7l.3-3.2l.3-.1l.2 1l.2 .3l.3 1.2l.3-.3l.2 .1l.2 0l.3 .3l.3-.8l.2 1.2l.2-.5l.3-1.3l.3 3.2l.2-3.7l.2 2.4l.3-1.8l.3 1.4l.2 .2l.2 .4l.3 .7l.3-2.6l.2 4.3l.2-2.7l.3-1.9l.3-.8l.2 4.2l.2-1l.3-2l.3 .9l.2 .6l.2-1.3l.3-.5l.3 .5l.2 1.1l.2-1l.3-1.5l.3 2.2l.2-2.9l.2 1.2l.3 2.4l.3-1.1l.2 .1l.2 0l.3 1.2l.3-1.1l.2-2.1l.2 2.6l.3-3.9l.3 1.2l.2 4.2l.2-.7l.3-1.9l.3 .3l.2 .1l.2 .9l.3-2.3l.3-.3l.2 .1l.2 .8l.3 .1l.3-.8l.2 1.3l.2-2.1l.3 1l.3-.8l.2-.4l.2 2.5l.3-1.9l.3-1l.2 1.1l.2-1.3l.3 1.8l.3 .4l.2 .3l.2-2.3l.3 1.2l.3 2.6l.2-2.3l.2 1.9l.3 .4l.3-3.4l.2 3.1l.2-.7l.3 0l.3 .8l.2-1.6l.2-.5l.3 .6l.3-1.1l.2 1l.2-2.9l.3 4.4l.3-2.6l.2 1.2l.2-.2l.3-.3l.3 0l.2-.1l.1-2"/><path class="fz" d="M72.8,491.8l.2 .7l.3-.2l.3-1.2l.2 .1l.2-.1l.3 .8l.3-.4l.2 .5l.2-1.8l.3 2.2l.3-1.2l.2 .4l.2-.7l.3-.2l.3 .4l.2 .2l.2-.8l.3 0l.3 .5l.2-1l.2-.4l.3 1.3l.3-.6l.2-.8l.2 .8l.3 .2l.3-.5l.2-.2l.2 .9l.3 .5l.3-.9l.2-.5l.2 .7l.3 .2l.3-.7l.2 .6l.2 .3l.3-.8l.3-.4l.2 .7l.2-.1l.3 .6l.3-1.7l.2 .4l.2-.2l.3-.6l.3 1.2l.2 .2l.2-.9l.3 1.4l.3-.4l.2-.2l.2-.1l.3 .3l.3-1.5l.2 1.3l.2-.1l.3-1.6l.3 1.4l.2-.5l.2 .7l.3-.8l.3 .3l.2 .2l.2-.8l.3 .9l.3-.5l.2 .4l.2-.8l.3 1l.3-.3l.2-.5l.2 .5l.3 .4l.3 .4l.2-2.3l.2 1.6l.3-.3l.3-.5l.2-.6l.2 1.5l.3-1.7l.3 1.2l.2 .6l.2-1.9l.3 1l.3-.6l.2 1.1l.2 .9l.3 .4l.3-2.6l.2 .8l.2 .9l.3 .6l.3-.8l.2-.8l.2 .7l.3-.2l.3-.2l.2-.4l.2 .6l.3-.1l.3-.3l.2-.1l.2-.7l.3 .6l.3 1.2l.2-.9l.2-.7l.3 1.9l.3-.5l.2 1.1l.2-1.3l.3-.3l.3-.7l.2 1.9l.2 .8l.3-2.3l.3 0l.2 .8l.2-1l.3 .2l.3-.1l.2 .3l.2 .6l.3-.8l.3 .6l.2-.9l.2 .5l.3-1.6l.3 .5l.2 1.5l.2-.8l.3 .8l.3 .1l.2 .5l.2-.2l.3 .1l.3-.7l.2-.4l.2-.1l.3 .2l.3-.5l.2 .4l.2 .3l.3 .2l.3-.4l.2-1.1l.2 1.3l.3 .2l.3 .6l.2-.3l.2-.8l.3 0l.3 1.8l.2-.8l.2 .7l.3 .2l.3-2l.2 .8l.2 0l.3 .1l.3 0l.2-.2l.2 0l.3-1.1l.3 .9l.2-.4l.2 .6l.3-.4l.3 .8l.2 .2l.2-.3l.3 0l.3-.1l.2-.4l.2 .2l.3-.2l.3 .6l.2-.2l.2 .5l.3-1.2l.3 1.6l.2-1l.2 .1l.3 .5l.3-.2l.2 .6l.2-.6l.3-.3l.3 .2l.2 1.4l.2-.8l.3-.9l.3 .8l.2-1.1l.2 2.2l.3-2.2l.3 1.3l.2 0l.2-1.3l.3 1.3l.3 .6l.2-.3l.2-.1l.3 .6l.3-.5l.2 .1l.2-.3l.3 .5l.3-1.1l.2 1.1l.2-.9l.3-.3l.3 1l.2 .9l.2-.4l.3-.9l.3 .9l.2-.7l.2 .3l.3 .2l.3-1.6l.2 1.7l.2-.8l.3 .2l.3-.5l.2-.1l.2 .3l.3 1.2l.3 .5l.2-1.1l.2 .7l.3-.9l.3-1.1l.2 1.5l.2 .3l.3-.5l.3 .6l.2 .2l.2-.9l.3-.3l.3 .9l.2 0l.2 0l.3 .9l.3 .6l.2-1.4l.2 .8l.3 .2l.3 0l.2 .2l.2-.9l.3 .8l.3 .8l.2-.8l.2-1l.3 .8l.3 .4l.2-.6l.2-.7l.3 1.4l.3-1.9l.2 1.1l.2-.4l.3-.8l.3 1.6l.2-.5l.2-1l.3 1.2l.3-.6l.2-.9l.2 .8l.3 .7l.3 .4l.2-.3l.2 0l.3 .4l.3-.4l.2 1l.2-.6l.3 .1l.3 .2l.2-1.1l.2 .2l.3 1.5l.3-.9l.2-.5l.2 .4l.3-.5l.3 .6l.2-.6l.2 .7l.3-1.2l.3 2.1l.2-1.2l.2-.7l.3 .9l.3-.2l.2 .3l.2-.9l.3 1l.3 2.2l.2-3.3l.2 1.1l.3-.5l.3 .4l.2-1.4l.2 .4l.3 1.1l.3-.4l.2 1.1l.2-1.6l.3 .6l.3 1.9l.2-2.4l.2 0l.3 .7l.3 0l.2 .6l.2-.5l.3-.7l.3 .6l.2 1.6l.2-1l.3-2.7l.3 1.8l.2-.5l.2 1.1l.3-.5l.3 1.5l.2-.6l.2 0l.3-.5l.3-.2l.2 .3l.2 .6l.3-.6l.3-.6l.2 1.1l.2-.7l.3-.2l.3-.4l.2 .2l.2 0l.3-1.5l.3 2.6l.2-.4l.2-.6l.3 .8l.3-.5l.2-.1l.2-2l.3 1.5l.3 .5l.2 .8l.2 .2l.3-.2l.3-1.6l.2-.6l.2 2l.3-.3l.3 .8l.2-.6l.2 .3l.3-1l.3 1.3l.2-.6l.2 .5l.3-.1l.3-.5l.2 .2l.2-.3l.3 .5l.3-.2l.2-.7l.2 .1l.3 1.6l.3-1.2l.2 .8l.2-.4l.3-.7l.3-.2l.2 .6l.2 0l.3 .2l.3-1.4l.2 .5l.2 .3l.3 1.1l.3-2.6l.2 1.9l.2-.6l.3 .7l.3-.6l.2 .6l.2 .8l.3-.8l.3 .1l.2 0l.2-.7l.3 .9l.3-.4l.2-.4l.2 .5l.3-.2l.3 .6l.2-.6l.2-.4l.3 1.3l.3-.3l.2 .2l.2-.4l.3-.5l.3-.2l.2 .1l.2 .8l.3-.6l.3-1.2l.2 1l.2-1l.3 1.1l.3-.9l.2 .1l.2 .9l.3 0l.3-1.1l.2 1.6l.2 .9l.3-2.5l.3 2.1l.2-1.8l.2 .1l.3 .2l.3-.9l.2 1.8l.2-.5l.3-.8l.3 .3l.2-.8l.2 .8l.3 .9l.3-1.7l.2 .9l.2 .4l.3 .7l.3 .3l.2-1.2l.2-.1l.3 .8l.3-.5l.2 0l.2 .9l.3 .4l.3-1.1l.2-.4l.2 .5l.3-1.8l.3 1.2l.2-.7l.2 2.2l.3-1.1l.3-.4l.2-.3l.2-1.5l.3 2.2l.3 .7l.2-1.6l.2 1l.3 .1l.3-1.5l.2 1.6l.2 .3l.3-.8l.3-.2l.2 .5l.2-1.6l.3 1.1l.3 .6l.2-1.6l.2 1.5l.3-1l.3-1.1l.2 1.4l.2-.6l.3 .9l.3-1.1l.2 1.5l.2-1.3l.3 .6l.3-.8l.2 .1l.2 .9l.3-.7l.3-.4l.2-.6l.2 1.7l.3-.3l.3-.7l.2 .3l.2-.9l.3-.1l.3 .1l.2 .7l.2-.2l.3-.7l.3 .9l.2 0l.2-.5l.3 .5l.3-1l.2 0l.2 .2l.3-.4l.3 .5l.2-1.5l.2 1.8l.3-1.6l.3 .4l.2-.9l.2 1.2l.3 .4l.3-.2l.2-.1l.2-1.6l.3 .5l.3 .3l.2-.3l.2 1.4l.3-.6l.3-.2l.2 .2l.2-1l.3-.1l.3-.1l.2 .8l.2-.1l.3 .1l.3 .3l.2-1.7l.2 .6l.3 .5l.3-1l.2 .5l.2 1.1l.3 0l.3-.1l.2-.7l.2-.3l.3 .7l.3-1l.2 .3l.2 .6l.3-1.2l.3-.2l.2 .3l.2 .3l.3-.1l.3-.3l.2 .3l.2-1.5l.3 .4l.3 .7l.2-.7l.2-.3l.3 .1l.3 .1l.2 .5l.2-.7l.3 .8l.3 .9l.2-1.3l.2 .9l.3-.8l.3-1l.2 .5l.2-.6l.3 1.2l.3-1.4l.2 1.7l.2-.6l.3-1.8l.3 1.9l.2 .5l.2-1.6l.3 1.1l.3-2l.2 1.2l.2-1.4l.3 1.2l.3-1.8l.2-.8l.2 1.9l.3 1.1l.3-2.1l.2 .8l.2-.6l.3-.3l.3 .5l.2 .6l.2-2.1l.3 1.1l.3-.3l.2-1.4l.2 2l.3 .1l.3-2.1l.2 1.7l.2-1.2l.3-.3l.3 1.1l.2-1l.2 0l.3 .7l.3-.4l.2-.5l.2-1.8l.3-.3l.3 1.6l.2-1.7l.2 .6l.3-1l.3 .6l.2-.9l.2 2l.3-1.9l.3 .5l.2-.2l.2 .7l.3-2.1l.3 .6l.2-.4l.2 .2l.3-.3l.3-.9l.2 .3l.2-.6l.3 .4l.3-.5l.2-.6l.2 .2l.3 0l.3 1.1l.2-2.2l.2 .3l.3 .5l.3-2.7l.2 0l.2 .2l.3 .5l.3 1.6l.2-1.6l.2 .3l.3-1.2l.3-1.8l.2-.1l.2 2.1l.3-.9l.3-1.2l.2 1.4l.2-2.1l.3 1.7l.3 0l.2-1.9l.2-.5l.3 1.1l.3-1.7l.2 1.1l.2-1.9l.3 1l.3-.9l.2-.7l.2-.7l.3 .5l.3-2l.2 .9l.2-.4l.3 .4l.3-1.8l.2 1.8l.2-1.9l.3-1l.3 1.4l.2-.1l.2-1.7l.3-.8l.3 .4l.2-.7l.2-.1l.3 1.1l.3-1.3l.2-.6l.2-.3l.3-.8l.3 .2l.2-.4l.2-1.3l.3 0l.3 1.3l.2-1.8l.2-.8l.3 1.4l.3-1.9l.2-1.3l.2 .9l.3-1.6l.3-.2l.2 .1l.2-.9l.3-1l.3-.4l.2-.6l.2 .7l.3-2l.3-.4l.2 1.5l.2-2.6l.3 1.1l.3-.6l.2-1.7l.2-1.6l.3 .9l.3-.4l.2-.4l.2-1.3l.3 .2l.3-.5l.2-2.6l.2 1.3l.3-1.7l.3-1.3l.2-.5l.2 1.1l.3-1.4l.3-3l.2 1l.2-.8l.3-.6l.3-1.1l.2-1.1l.2 1.3l.3-2.1l.3-.2l.2-.9l.2-.9l.3 .5l.3-1.1l.2-1.8l.2-1.1l.3-.4l.3 .4l.2-1.6l.2-.7l.3-1.3l.3-.7l.2-.4l.2-2.7l.3 2.2l.3-3l.2-.8l.2 .8l.3-2l.3-1.1l.2-1.5l.2-1.8l.3 .7l.3 .1l.2-2.7l.2 1.2l.3-3.1l.3-.5l.2 .3l.2-1.4l.3-.3l.3-2.3l.2-1.3l.2-1.9l.3-.4l.3-1l.2-1.4l.2 .6l.3-2.1l.3-2.4l.2 3.4l.2-4.3l.3-1.4l.3 1.5l.2-1.1l.2-3.3l.3-1.3l.3-.6l.2 1.2l.2-2.6l.3-1.6l.3-.4l.2 .2l.2-3.8l.3-.1l.3-2.2l.2 2.6l.2-1.5l.3-2.1l.3-2.4l.2-.3l.2-4.2l.3 1.5l.3-2.9l.2-1.1l.2-.4l.3-.7l.3 0l.2-.8l.2-1.5l.3-2.3l.3 .9l.2-1.8l.2 .6l.3-3.3l.3-3.1l.2 1.6l.2 2l.3-2.9l.3-1.8l.2 .3l.2-1.5l.3-1l.3-2.1l.2-.3l.2-.8l.3-2.1l.3-1.6l.2 .3l.2-.2l.3-1.6l.3-1.5l.2-1.4l.2 1.2l.3-4.3l.3-.4l.2-.3l.2-3.8l.3-1.2l.3-.5l.2-.6l.2-3.2l.3-1.4l.3-1.7l.2-3.1l.2 1.5l.3-3.4l.3-3.1l.2 .5l.2-3.4l.3-.6l.3-.1l.2-2.6l.2 1.2l.3-4.6l.3 1l.2-.9l.2 0l.3-1.8l.3-1.9l.2-1.5l.2-1.2l.3 .4l.3-3.4l.2 .5l.2-1.7l.3-.5l.3-1.6l.2 2.4l.2-4.5l.3 .4l.3-.6l.2-.2l.2-.7l.3-.5l.3 .4l.2-3.6l.2 1.6l.3-1.9l.3 1.7l.2-2.1l.2 .2l.3 1.2l.3 2l.2-.8l.2 .1l.3 1.6l.3-2.8l.2-1.2l.2 2.6l.3 .6l.3 2.5l.2 1.8l.2-4.1l.3 5.8l.3-.5l.2-.2l.2 .1l.3 3.6l.3-2.4l.2 .1l.2 1.5l.3-1.2l.3 3.2l.2 0l.2 1.3l.3 .9l.3-1.1l.2 4.1l.2-2.1l.3 3.7l.3-3.3l.2 4.9l.2-.3l.3 2.4l.3 .3l.2-.9l.2 2.6l.3 2.8l.3 1.9l.2-1.6l.2 .3l.3 2.7l.3 2l.2 .5l.2 .8l.3 3.2l.3 1.1l.2 .7l.2-1.3l.3 2.3l.3 .6l.2-.7l.2 3.9l.3-.1l.3 .1l.2 3.3l.2 0l.3 1l.3 1.3l.2 .7l.2-2.1l.3 1.9l.3 2.7l.2-1.5l.2 1.9l.3 1.2l.3 2l.2 .6l.2 .2l.3-.7l.3 2.1l.2 .2l.2-.2l.3 2.5l.3-.4l.2-1l.2 3.1l.3-1.3l.3 1.6l.2-2l.2 2.4l.3-.5l.3 .5l.2-.5l.2 5.4l.3-2.2l.3 1l.2 1.5l.2-1.1l.3 1.2l.3-1.7l.2 2.2l.2-.2l.3 1.4l.3 0l.2-1.4l.2-.3l.3 1.3l.3 2.2l.2-.3l.2 .1l.3-2.8l.3-.9l.2 2.2l.2 0l.3-.7l.3 .7l.2-1.1l.2-1.6l.3-.2l.3 .7l.2-.6l.2-.7l.3 1.9l.3-3.4l.2-.4l.2-2.1l.3-.2l.3-.1l.2-.9l.2-1.9l.3-.5l.3-1.4l.2-3l.2-2.5l.3 4.7l.3-2.6l.2-2l.2-2.8l.3-.8l.3 1.4l.2-5.6l.2 1l.3-.4l.3-2.4l.2-1.3l.2-3l.3 0l.3-6l.2-3l.2-1.2l.3-1.7l.3-4.1l.2-1.7l.2-4.3l.3-3.4l.3-.4l.2-2.5l.2-2.6l.3-4.6l.3-3.1l.2-3.2l.2-3.2l.3-3.8l.3-4.8l.2-6.5l.2-2.7l.3-4.3l.3-3.9l.2-4.1l.2-4.2l.3-3.6l.3-5l.2-4.4l.2-5.2l.3-3.1l.3-4.4l.2-5.7l.2-1.3l.3-4.3l.3-2.1l.2-3.9l.2-2.5l.3-2.2l.3-2.5l.2-2.5l.2-3.2l.3 1.5l.3-5.1l.2-.8l.2-.8l.3-1.4l.3-.1l.2 1l.2 2.2l.3 1.5l.3 4.8l.2-.8l.2 4.4l.3 3.2l.3 3.5l.2 4.3l.2 4.7l.3 1.6l.3 3.8l.2 5l.2 3.7l.3 6.6l.3 7l.2 8.3l.2 7.6l.3 8.1l.3 7.2l.2 6l.2 7.4l.3 5.1l.3 4.4l.2 4l.2 6.1l.3 3.6l.3 4.8l.2 3.2l.2 4.7l.3 6.6l.3 8.2l.2 7l.2 5.3l.3 5l.3 2.9l.2 2l.2 3.8l.3 3.3l.3 4.7l.2 2.8l.2 5l.3 4.9l.3 3.4l.2 3.3l.2 4.3l.3 4.7l.3 4.2l.2 3.8l.2 2.5l.3 2l.3 5.2l.2 1.7l.2 2.6l.3 2.2l.3 .9l.2 2.4l.2 2.2l.3 2.2l.3 .5l.2-1.7l.2 3.8l.3 1.7l.3 1.9l.2 .6l.2 2.7l.3 .2l.3 1l.2 .8l.2-1.1l.3 3.1l.3 .9l.2-.1l.2 2.1l.3 .8l.3 .1l.2 1.2l.2 .7l.3 1.4l.3 .2l.2 1.7l.2-1.5l.3 2.3l.3-.6l.2 1.9l.2 1.7l.3 .3l.3 .7l.2 .9l.2 2.3l.3-1.7l.3 2.7l.2-1.5l.2 1.8l.3 1.3l.3-.2l.2 1.9l.2 1.1l.3-1.2l.3 1.7l.2 .3l.2-1l.3 2.2l.3-.1l.2 2.5l.2-1.8l.3 2.9l.3-1.8l.2 2.7l.2-1l.3 .1l.3 .6l.2 .3l.2 .7l.3 .5l.3-1.8l.2-.6l.2-1l.3 2.6l.3 1.5l.2 0l.2 0l.3-.2l.3 0l.2 .5l.2 .9l.3-2.1l.3 2.7l.2-2l.2 1.4l.3-.3l.3 .4l.2-.5l.2 0l.3 1.1l.3-.7l.2 3.8l.2-2.8l.3-.1l.3 .2l.2-.4l.2-1.3l.3 2.4l.3 .6l.2-1.8l.2 1.7l.3-1.2l.3 1.3l.2 .6l.2 .3l.3 .2l.3-1l.2 2l.2-1.2l.3 1.1l.3 .6l.2-1l.2-.9l.3 2.1l.3-1.8l.2 .4l.2-.1l.3 2.2l.3-1l.2-2.1l.2 3.4l.3 1.6l.3-.2l.2-2.5l.2 .7l.3 .6l.3 .4l.2-.8l.2-1.2l.3 2.2l.3 0l.2-2l.2 1.2l.3 .9l.3-.2l.2 .6l.2 .3l.3-.3l.3-.7l.2-1.4l.2 2.3l.3 .9l.3 .8l.2-2.2l.2 .1l.3 1.7l.3 .1l.2-1.2l.2 .4l.3-1.7l.3 1.6l.2-1.5l.2 .9l.3 .3l.3-.2l.2-1.7l.2 1.8l.3 1.5l.3-.3l.2-.3l.2 1l.3 .4l.3 .1l.2-1.9l.2 .9l.3-.4l.3-.6l.2-.7l.2 1.7l.3-.8l.3 3.8l.2-2.5l.2 0l.3-.1l.3 2.9l.2-3.3l.2 1l.3-.8l.3 .8l.2 0l.2 1.4l.3-3.1l.3 1.7l.2 2l.2-2.5l.3 .5l.3-.8l.2-2l.2 3.2l.3 1.6l.3-2l.2-1.6l.2 2.6l.3-.2l.3 1.2l.2 0l.2-1.4l.3 .9l.3-2.8l.2 3.6l.2-1.3l.3 1.1l.3-.2l.2-1.7l.2 .1l.3-.9l.3-1.4l.2 2.5l.2 .5l.3-1.4l.3 2.3l.2-.7l.2 .5l.3-1.6l.3-1.2l.2 3.3l.2-.2l.3-.8l.3-.2l.2 .3l.2 .3l.3-.4l.3-1.9l.2 3.6l.2-2.9l.3 1.5l.3 .1l.2 .7l.2-2.3l.3 3.7l.3-.6l.2 .2l.2 .6l.3-2.6l.3-3.1l.2 4.5l.2 1.2l.3-.2l.3-2.3l.2 .6l.2 .4l.3-2.8l.3 1.5l.2 0l.2 2.9l.3-2.9l.3 2.9l.2-2l.2-2.2l.3 5.2l.3-4.2l.2 2.2l.2 1.5l.3-3l.3-.9l.2 3.1l.2-1.2l.3-2.6l.3 1.1l.2 .9l.2 1.8l.3-1.7l.3 1.3l.2 1.3l.2-.5l.3 .3l.3-.3l.2-4l.2 3.9l.3-1.3l.3-.6l.2-1.3l.2-.6l.3 .7l.3 1.6l.2-1.6l.2 .6l.3 .3l.3 1.9l.2-1.3l.2 .3l.3 2.1l.3-2.3l.2 1.4l.2-2.3l.3 2l.3-.3l.2 .1l.2-.9l.3-.8l.3 1l.2-.2l.2 2.2l.3-.1l.3-2.9l.2 2.6l.2-1.5l.3 1.3l.3-1.4l.2-1.5l.2 3.6l.3-.9l.3-2.4l.2-1l.2 2l.3-.9l.3 1.3l.2 1.5l.2 1.4l.3-2.5l.3 2.6l.2-.2l.2-2.2l.3-1.8l.3 3.7l.2-.4l.2 2.5l.3-1.4l.3-1l.2 1.2l.2-4.8l.3 2.6l.3-.7l.2 3.1l.2-1.7l.3-5.3l.3 6.7l.2-3.4l.2 2.6l.3-1.9l.3 1.1l.2 .5l.2-.7l.3-1.8l.3 3.5l.2-1.6l.2-.6l.3 1l.3-2.4l.2 4l.2-2.6l.3 .2l.3-.1l.2-1.9l.2-.4l.3 2.2l.3 .3l.2 1.6l.2-1.4l.3-2.3l.3 2.4l.2 .4l.2 .1l.3-1.1l.3-2.5l.2 3.6l.2-2.9l.3 2.1l.3-3.2l.2 3.8l.2-2.3l.3 3l.3 1.2l.2-.9l.2-3.7l.3 .2l.3 0l.2 2.2l.2-.6l.3-.4l.3 .2l.2 .5l.2 .1l.3 1.6l.3-2.7l.2 .4l.2-3.3l.3 .8l.3 .9l.2-.8l.2 2.1l.3 1.3l.3-2.3l.2 0l.2 0l.3 1.1l.3-1l.2 1.5l.2-.2l.3 .1l.3 .7l.2-1.2l.2 .2l.3 2.6l.3-2.8l.2 1.3l.2-1.1l.3-.8l.3-.1l.2-.7l.2 1.2l.3-1.1l.3 0l.2 2.4l.2-2.3l.3 1.9l.3-1.5l.2 1l.2-2.3l.3 1.2l.3 4l.2-2.8l.2 .3l.3-1.2l.3 1l.2-3.1l.2 .5l.3 2l.3 .6l.2-1.8l.2 .5l.3-.2l.3 .4l.2-1.6l.2-.3l.3 2l.3-2.7l.2 1l.2 .3l.3-.8l.3 1.8l.2-1.1l.2 .5l.3-1.5l.3 .5l.2 1.9l.2-.3l.3-1.3l.3 1.2l.2-.3l.2-.2l.3 2.2l.3-3.1l.2 1.3l.2 .1l.3-.9l.3-1.4l.2 3l.2-.7l.3-.3l.3-.1l.2 0l.2-1.5l.3 1.7l.3-3.4l.2 2.7l.2-2.4l.3 1.7l.3 1.7l.2-1.5l.2-.3l.3 1.6l.3-1.1l.2-.2l.2 0l.3 2.8l.3-1.5l.2-.6l.2-2.9l.3 2.6l.3-3.2l.2 2.6l.2-2.5l.3 4.8l.3-5.6l.2 4.6l.2-.6l.3-4.1l.3 2.3l.2 2.5l.2-.7l.3-4.6l.3 1.7l.2-1.1l.2 .2l.3 .6l.3 3.9l.2-2.6l.2-.5l.3-.1l.3 1.5l.2-.1l.2-2.5l.3 3.7l.3-4l.2 1.2l.2 1.1l.3 2l.3-3.3l.2 .9l.2 1.5l.3-1.1l.3 .7l.2-.2l.2-1.2l.3 .5l.3 .4l.2-1.5l.2 2.5l.3-5.7l.3 1.6l.2 3.5l.2-1.7l.3-1.8l.3 1.5l.2 1l.2-2.6l.3 2l.3-1.4l.2 .1l.2 0l.3 1.8l.3-3.5l.2 1.1l.2 1.6l.3-2.9l.3-.6l.2 3.3l.2-.9l.3-.3l.3 .5l.2-1.8l.2 5.9l.3-6.1l.3 .7l.2-1.7l.2 1.4l.3 2.9l.3-2.5l.2 .8l.2-1.7l.3 3.5l.3-2.6l.2-2.2l.2 3l.3-1.8l.3 1.4l.2-.8l.2 .3l.3-.5l.3-1.7l.2-.9l.2 3.8l.3-1.8l.3 .6l.2-1.2l.2-2.4l.3 1.1l.3 4.1l.2-3.5l.2 .6l.3-1.8l.3 1.3l.2 .1l.2 0l.3 .1l.3-1l.2 0l.2 .8l.3 .4l.3-.8l.2 2.8l.2-2.5l.3-.1l.3-1.3l.2 2.5l.2-4.1l.3-.1l.3 1l.2 2.5l.2-2.8l.3 3.7l.3-2.3l.2-2.5l.2 1.7l.3 2.9l.3-4.4l.2-.9l.2 2.7l.3 1.1l.3-.5l.2-2.2l.2 .6l.3 0l.3 1l.2 1.1l.2-3.8l.3 1.8l.3-2.9l.2 1.3l.2-2.6l.3 .2l.3 1.7l.2-2l.2 2.8l.3-2.3l.3 1l.2-.2l.2-.5l.3 .7l.3 1.4l.2 3l.2-6.9l.3 2.2l.3-1l.2-1.3l.2 1.8l.3-1.9l.3 1.1l.2 2l.2-5.2l.3 3.4l.3 .1l.2-2.4l.2 2l.3-.5l.3-1.4l.2 2.2l.2-4.1l.3 2.8l.3-1.4l.2-1.4l.2 1.3l.3-.4l.3 1.7l.2-3.7l.2 1.8l.3-.5l.3 2.9l.2-4.3l.2 3.2l.3-4.5l.3 3.2l.2-.9l.2 .7l.3-1.9l.3-2.1l.2 .4l.2 4.2l.3-1.9l.3-1.9l.2 2.5l.2-2.8l.3-.2l.3-.9l.2 3.5l.2 1.1l.3-5.6l.3 2.5l.2 .8l.2 1.6l.3-7.2l.3 3.7l.2 .6l.2-3.4l.3 2.7l.3-.6l.2 .6l.2-2.2l.3 1.4l.3-1.7l.2 1.7l.2-.7l.3-.9l.3-1.6l.2 4.7l.2-1l.3-.5l.3-2.6l.2 .2l.2 2.9l.3-1.6l.3-2.7l.2 1.3l.2-.1l.3-.7l.3-1.3l.2 3.2l.2-1.3l.3-1.4l.3-2.4l.2 1.4l.2 .7l.3 1.2l.3-2l.2 2.2l.2-1.7l.3-1.5l.3-3.3l.2 2.3l.2-.7l.3 1.8l.3 .5l.2 1.3l.2-2.4l.3-2l.3 5.2l.2-3.3l.2-.9l.3-.1l.3-1.7l.2 3.1l.2-.4l.3 1.8l.3-.1l.2-1.4l.2 .4l.3-2.7l.3-.5l.2 .3l.2-2.1l.3 1.5l.3-.5l.2 1.4l.2-1.2l.3-3l.3 2.9l.2 2.1l.2-5.2l.3 1.5l.3 .9l.2-2.3l.2 1l.3 .8l.3-2.4l.2 2.4l.2 0l.3-2.7l.3 1.8l.2 1.5l.2-2.1l.3 .8l.3 .2l.2-1.6l.2 1.7l.3-1l.3-2.3l.2 2.1l.2 .3l.3-.4l.3-2.5l.2 1.5l.2 1.3l.3-1.9l.3 1.5l.2 .2l.2-2l.3 1.1l.3-1.4l.2 2.1l.2-1.9l.3-.9l.3 .5l.2-.3l.2 .4l.3-.1l.3-2.6l.2 .7l.2 1.5l.3 .1l.3-.7l.2 3.9l.2-2.4l.3-2l.3 1l.2 .7l.2-1.8l.3-3.5l.3 2.7l.2-.2l.2 3.2l.3-6.3l.3 5.2l.2-2.8l.2 1.5l.3-2.1l.3 .5l.2 1.3l.2-1.7l.3 1.4l.3-1.9l.2-.6l.2 .2l.3-.5l.3 .5l.2 2.2l.2-4.1l.3-.9l.3 2.4l.2 2.5l.2-1l.3 .3l.3-.1l.2-3.2l.2 1.3l.3-4.3l.3 3.1l.2 1.9l.2-3.4l.3-.9l.3 1.1l.2 2.3l.2 1.3l.3 2.1l.3-1.9l.2-4.6l.2-1.3l.3 3.8l.3 1.4l.2-4.2l.2 1.7l.3 .1l.3 .7l.2-.4l.2 1l.3 .8l.3-1.6l.2 .9l.2 1.9l.3-4.8l.3-.2l.2 2.3l.2 2l.3-2.7l.3 1.3l.2-2.2l.2 1.9l.3-2.3l.3 2.1l.2-.4l.2 0l.3 1.5l.3-.6l.2-2.7l.2 2.2l.3-4.1l.3 4.1l.2 2.7l.2-3.5l.3 0l.3-.6l.2 1.2l.2-2l.3 1.7l.3-1.4l.2-.3l.2 .7l.3-.4l.3-2.7l.2 5.8l.2-3.2l.3-3.1l.3 4.1l.2-1.9l.2 .2l.3 .6l.3-3.2l.2-2.7l.2 4.3l.3 .5l.3 1.2l.2-2.8l.2 .8l.3 1l.3-1.1l.2 0l.2 .8l.3-2l.3 4l.2-4l.2 1.4l.3-.7l.3-.7l.2 1.9l.2 .6l.3 .6l.3-1.4l.2-1.6l.2 2l.3-3.6l.3 2.2l.2 .8l.2 0l.3-2.7l.3-.6l.2 4.9l.2-3.5l.3-1.8l.3 .5l.2 1.8l.2 1.7l.3-1.9l.3 1.8l.2-1.6l.2 .4l.3 .8l.3-2.1l.2 1.1l.2-1.1l.3-.3l.3 2l.2-2.3l.2 1.3l.3-1.6l.3 .9l.2-1l.2 2.2l.3-1.9l.3-.2l.2 2.3l.2-7.1l.3 2.8l.3-2.4l.2 4.3l.2 .8l.3 .4l.3-.5l.2-1.9l.2 4l.3-2.4l.3-1l.2-1.5l.2 2.2l.3-1.6l.3-.1l.2 .9l.2-.1l.3-1.7l.3 3.2l.2-3.5l.2-.2l.3 2.2l.3-.3l.2-.1l.2-.8l.3 .6l.3-1l.2-1.7l.2 3.6l.3-2.7l.3 1.2l.2 1.5l.2-1.1l.3 4.2l.3-6.4l.2 1l.2 1.3l.3 2l.3-2.5l.2-1.8l.2 4l.3-3.3l.3 1.1l.2 1.6l.2-2.5l.3 .4l.3 1.5l.2-1l.2 .8l.3-1.9l.3 1.2l.2-1.6l.2-.9l.3 5l.3-2.2l.2 .6l.2-2.9l.3 1.4l.3-.1l.2-1.8l.2 3.2l.3-1.9l.3 .9l.2-1.9l.2 3.9l.3-.3l.3-.4l.2-2l.2 .7l.3 2.9l.3-2.2l.2 1l.2-.1l.3-1.8l.3 4.3l.2-5.3l.2 3.7l.3-.3l.3-2.1l.2 3.2l.2 .5l.3-.5l.3-1.1l.2 2.2l.2 1.3l.3-1.1l.3 2.6l.2-1.1l.2 .1l.3 1.1l.3-2.9l.2 .4l.2 1.8l.3 .3l.3 1.9l.2-.2l.2-1.1l.3 .4l.3-.4l.2 .1l.2 .1l.3 2.3l.3-2l.2 .2l.2 .9l.3-.9l.3 .7l.2-2.8l.2 4.3l.3-.6l.3 1.1l.2 .8l.2-3.1l.3 7l.3-3.1l.2 .4l.2-2.8l.3 4l.3-.1l.2-.9l.2 1.1l.3 1.9l.3-2.3l.2-.6l.2 3.7l.3-1.5l.3-.6l.2 4l.2-3.3l.3-.4l.3 .7l.2-.9l.2 1l.3 0l.3-1.2l.2 .7l.2 1.1l.3 .3l.3 .6l.2 .6l.2-.6l.3 .7l.3-1.2l.2 .3l.2 2.2l.3-4.7l.3 3.7l.2 4.5l.2-7.7l.3 5.4l.3-4.8l.2 3.5l.2 2.3l.3 0l.3-3.5l.2-.4l.2-.1l.3 3.5l.3-1.6l.2 .8l.2 .5l.3 .4l.3 .4l.2-.4l.2-2.6l.3 4.9l.3-6.5l.2 6.2l.2-2.9l.3 .7l.3-.5l.2 .4l.2 .6l.3-.3l.3-1.1l.2 3.2l.2-2.1l.3 3.1l.3-2.2l.2-.7l.2 2l.3 .9l.3-2.7l.2 1.2l.2 2.7l.3-3.7l.3 .3l.2 1.5l.2-2.2l.3-1.9l.3 1.2l.2 3.2l.2 .6l.3 .1l.3 .2l.2-2.6l.2 3.1l.3 1l.3-2.7l.2 2.6l.2-1.9l.3 .9l.3 .3l.2-2.9l.2 4.6l.3-3.6l.3 1.2l.2-.7l.2 1.4l.3-.1l.3-.7l.2 2.2l.2-1.8l.3-1.1l.3-3.8l.2 4.1l.2 0l.3-.8l.3 .1l.2 2.3l.2 .7l.3 1.4l.3-1.2l.2-2.9l.2 1.5l.3-2.5l.3 3.3l.2-.6l.2-1.5l.3 .8l.3-.3l.2-.6l.2 3l.3 2.7l.3-3.6l.2 .4l.2-1.4l.3-.8l.3 4l.2-3.9l.2 1.2l.3-.8l.3 1.1l.2-.9l.2 1l.3-2.8l.3 1.9l.2 2.4l.2-3.6l.3 .8l.3 3.3l.2-1.3l.2 1.2l.3-4.9l.3 4l.2-2l.2 0l.3 2.9l.3 1.3l.2-4.1l.2 .7l.3 .8l.3 .8l.2-1.8l.2 5.7l.3-2.4l.3-1.3l.2 .1l.2 4.8l.3 .2l.3-3.8l.2 1.8l.2 1.9l.3-3.4l.3 1.3l.2 3.3l.2-3l.3 .5l.3-1.2l.2 1.1l.2 2.4l.3-2.1l.3-.4l.2 1.5l.2 4.1l.3-2l.3-.7l.2 1.6l.2 .9l.3-.1l.3-2.6l.2 3.7l.2-.3l.3 2.1l.3-3l.2 4.2l.2-2l.3-1.5l.3 5l.2-2.6l.2 1.6l.3-.7l.3 2.1l.2 .2l.2 .2l.3-.4l.3-3.5l.2 .2l.2 3.2l.3-1.5l.3 2.6l.2-.2l.2-2l.3 1l.3 .3l.2 .8l.2 1.5l.3 1.7l.3 1.2l.2-3.4l.2 .7l.3 3.4l.3-.9l.2-1l.2-4l.3 2.2l.3 1.9l.2-1.1l.2 4.1l.3-2.9l.3 .3l.2-2.1l.2 .1l.3 .7l.3 .2l.2 .8l.2 1.2l.3 0l.3 1.3l.2-3.6l.2 2.8l.3-.1l.3 2.2l.2-2.7l.2 1l.3-1.6l.3 2l.2 .2l.2-1.5l.3 .4l.3 .8l.2 1l.2-2.5l.3 3.3l.3-1.8l.2 3.7l.2-.5l.3-2.8l.3-.2l.2 4.9l.2-2.8l.3-.1l.3-1.6l.2 .5l.2 1.5l.3-.3l.3-2.2l.2 3.4l.2-1.4l.3-1.9l.3 3.2l.2-1.7l.2 1.6l.3-2l.3 1.6l.2-3l.2 3.2l.3-2.9l.3 2.7l.2-4.2l.2 3.9l.3 1.2l.3-.3l.2 1.3l.2-3.5l.3 5.5l.3-1l.2-4.3l.2 .7l.3 .4l.3 .8l.2 .2l.2-4.3l.3 4.7l.3-1.4l.2-2.1l.2 3.9l.3-2.1l.3 2.4l.2-.8l.2-1.3l.3 2.5l.3-.5l.2-2l.2-1.6l.3 1.8l.3 1.9l.2-1.2l.2 3.2l.3-2.2l.3 0l.2 .5l.2-1.9l.3 1.3l.3-.8l.2-2.7l.2 1l.3 3.9l.3-1.8l.2 .6l.2-2.1l.3 1.3l.3 2.2l.2-1.1l.2-1l.3 3.2l.3-2.4l.2-.5l.2 2.4l.3-4.5l.3 3.6l.2-2.5l.2 .5l.3 .2l.3 1.4l.2 0l.2 .4l.3 0l.3 2l.2 .5l.2-.9l.3-.4l.3-1.8l.2-1.1l.2 2.6l.3-.8l.3 1.3l.2-4.1l.2 7l.3-6.1l.3 2l.2 2.3l.2-4.5l.3 1.3l.3-2.2l.2 1l.2-.7l.3 3.4l.3 .4l.2-.9l.2 2.5l.3 .1l.3-2.3l.2-.6l.2-.3l.3-.4l.3 2.6l.2-1.8l.2-.9l.3 .3l.3 1.3l.2-1.3l.2 1.3l.3-.3l.3 2.3l.2-.1l.2-4l.3 2l.3 1.4l.2-1.9l.2 1.9l.3-.9l.3 .3l.2-1.2l.2 .4l.3 .2l.3-3.1l.2 .8l.2-.2l.3 4.2l.3-2.2l.2 .1l.2-.3l.3-1l.3-.4l.2 2.5l.2-1.8l.3 3.1l.3-2.1l.2 0l.2-.5l.3 .3l.3 .2l.2 2.3l.2 1.2l.3-5.5l.3 2.1l.2 .7l.2-2.6l.3 .5l.3 .3l.2-3l.2 4.9l.3-1l.3 0l.2 .3l.2 .3l.3 3.2l.3-3.3l.2 1.1l.2-2.1l.3 1.4l.3-1.1l.2 .2l.2-1.2l.3 .1l.3 1.9l.2 .4l.2-.5l.3-1.8l.3 1.5l.2-4.4l.2 5.4l.3-1.5l.3 .5l.2 1.4l.2-2.4l.3 2.2l.3-2.1l.2 1.6l.2-1.5l.3 1.1l.3 1.7l.2-3.2l.2 .1l.3 .5l.3 1.2l.2 3.9l.2-5l.3-2.2l.3 2.2l.2-1.4l.2 1.5l.3 .8l.3-1.6l.2 .4l.2-1.9l.3 3.1l.3-1.5l.2 2.7l.2 .7l.3-3.9l.3 .7l.2 .6l.2 1.2l.3-3.7l.3 2.6l.2 3.2l.2-2.9l.3 .6l.3-.2l.2-1.8l.2 3.3l.3-1.1l.3-.2l.2 .9l.2 0l.3-4.2l.3 3.7l.2-1.8l.2 1.1l.3-1.4l.3-.3l.2 2.8l.2-1.6l.3-.4l.3-.1l.2 .6l.2-.2l.3-3.7l.3 2.3l.2 1l.2 1.5l.3 1l.3-3.5l.2 6.2l.2-4.3l.3 .7l.3-1.4l.2 0l.2 3.3l.3-2.5l.3 .2l.2 1.8l.2 .8l.3-5.1l.3 1.9l.2 .2l.2 2.8l.3 .9l.3-3.9l.2 1l.2 .5l.3 .4l.3-2.3l.2 1.8l.2-2.5l.3-3.2l.3 1.9l.2 2.4l.2 .8l.3-4.8l.3 .6l.2 2.8l.2-5.2l.3 6.2l.3 .7l.2-6.2l.2 5.8l.3-1.5l.3 2.4l.2-1.8l.2-.9l.3 .5l.3 1.3l.2-1.1l.2-.1l.3-2.2l.3 3.1l.2-.5l.2 2.9l.3-2.8l.3 0l.2-.9l.2 2.1l.3-1.5l.3-.8l.2 3.5l.2 .2l.3-3.5l.3-1l.2 3.4l.2-3.1l.3 5.7l.3-4.6l.2 1.7l.2-3.5l.3 2l.3 1.7l.2-1l.2-1.5l.3 4.7l.3-2.7l.2-1.4l.2-.4l.3 .6l.3 2.6l.2-3.2l.2 1.2l.3-1.3l.3 3.1l.2-2.3l.2 1.6l.3-.6l.3-1.8l.2 2l.2 .4l.3-3.2l.3 3l.2 4.5l.2-5.9l.3 1.4l.3-3.1l.2 2.8l.2-1.8l.3 2l.3-1.4l.2-2l.2 3.4l.3-2.2l.3-1.4l.2 1.6l.2-1.7l.3 2.1l.3-.8l.2-.4l.2 1.6l.3-2.9l.3 3.6l.2-4.6l.2 5.7l.3-2.2l.3-.7l.2-.7l.2 2l.3-1.1l.3 0l.2 1.9l.2-2.2l.3 .4l.3 1l.2 1l.2-2l.3 .4l.3-.3l.2 1.7l.2 .3l.3-3.8l.3 1.2l.2 .1l.2 1l.3 1.4l.3-2.4l.2 .4l.2 1.5l.3-3.7l.3 .8l.2 .7l.2 .8l.3 .6l.3-1.1l.2 3.7l.2-3.9l.3 .8l.3 2l.2-.6l.2-1.4l.3 .6l.3 .6l.2-1.3l.2 1l.3-2.4l.3 1.5l.2-2.7l.2 1.2l.3-.4l.3 3.7l.2-2.7l.2 1.1l.3-1.9l.3 1l.2-.1l.2-1l.3 2.8l.3-4l.2 3.6l.2 3.2l.3-5.5l.3 1.4l.2-2.6l.2 2.4l.3-3.9l.3 5l.2-1.8l.2-2.1l.3 .9l.3-.5l.2 2.1l.2 1.7l.3-2l.3-1.3l.2 .5l.2 1.4l.3-4.1l.3 4.6l.2-.4l.2-4.6l.3 5.6l.3-4.5l.2 2.3l.2 2.2l.3-4.3l.3-.2l.2 1.3l.2 .2l.3 1.7l.3-.5l.2 .1l.2 .1l.3 .4l.3-1.2l.2 1.8l.2-.7l.3-1.7l.3 4.4l.2-5l.2 3.2l.3-2.3l.3 1.7l.2 .3l.2 .6l.3 .9l.3-3.5l.2 5.8l.2-3.6l.3-2.5l.3-1l.2 5.7l.2-1.3l.3-2.7l.3 1.2l.2 .9l.2-1.8l.3-.8l.3 .7l.2 1.4l.2-1.3l.3-2l.3 3.1l.2-4l.2 1.6l.3 3.2l.3-1.5l.2 .2l.2-.1l.3 1.6l.3-1.6l.2-2.9l.2 3.5l.3-5.2l.3 1.6l.2 5.7l.2-1l.3-2.4l.3 .4l.2 .1l.2 1.3l.3-3l.3-.3l.2 .2l.2 1.1l.3 .2l.3-1.1l.2 1.7l.2-2.8l.3 1.4l.3-1l.2-.6l.2 3.4l.3-2.5l.3-1.3l.2 1.6l.2-1.8l.3 2.5l.3 .4l.2 .4l.2-3.1l.3 1.6l.3 3.4l.2-3.1l.2 2.5l.3 .5l.3-4.6l.2 4.1l.2-.9l.3 .1l.3 1.1l.2-2l.2-.7l.3 .8l.3-1.5l.2 1.3l.2-3.9l.3 5.9l.3-3.5l.2 1.7l.2-.4l.3-.3l.3-.1l.2-.1l.1-2.7"/></g>
<g stroke="#1a6fdf"><path class="cv" d="M72.8,427.4l.2 .9l.3-.3l.3-.1l.2 .7l.2-2.5l.3 .4l.3-.6l.2 .9l.2 1l.3-.9l.3 .4l.2-2l.2 1.8l.3-.9l.3 2.4l.2-.7l.2 .2l.3-.8l.3 .6l.2 0l.2-.9l.3-.2l.3 .2l.2-.6l.2-.1l.3 0l.3-.5l.2 1.2l.2-2.1l.3 2.1l.3-1.2l.2 .1l.2-.6l.3 1l.3-.1l.2 .4l.2-.8l.3 .4l.3 1.4l.2-1.4l.2-.9l.3 1.2l.3-1l.2 .6l.2-.1l.3-.9l.3-1.5l.2 1.3l.2 .7l.3-.9l.3 .7l.2 .5l.2-1.2l.3 1.6l.3 .3l.2-.5l.2 .1l.3-.1l.3 .9l.2-1.8l.2-.2l.3 .5l.3-1.3l.2-.5l.2 .6l.3 1.1l.3 .1l.2-1.7l.2-.4l.3 1.3l.3 0l.2 .1l.2 .6l.3 .5l.3-.8l.2 .4l.2-1.4l.3 0l.3 1.3l.2 .4l.2 .1l.3-.1l.3 .1l.2 0l.2-2.2l.3 .8l.3 .9l.2 .2l.2-1.8l.3 2.4l.3-1.3l.2 .3l.2 .5l.3 .4l.3-1.8l.2 2.1l.2-.8l.3-.6l.3 .5l.2-1.6l.2 1.5l.3 .8l.3-.7l.2 .4l.2 .1l.3 .1l.3 .7l.2-1l.2-.3l.3 .6l.3 1.3l.2-2.1l.2 .7l.3-1.8l.3 2.4l.2-.6l.2 .4l.3-1.3l.3-1l.2 1.6l.2-.2l.3-1.3l.3-.5l.2 1.8l.2-.4l.3 2.5l.3-2.7l.2 .2l.2 .4l.3-1.3l.3 .6l.2 2.1l.2-1.6l.3-.5l.3-.6l.2 1.5l.2 .1l.3-.4l.3-.5l.2 .5l.2 .1l.3-.9l.3 1.1l.2-2.2l.2 .8l.3 .9l.3 .3l.2-.7l.2 1.4l.3 .7l.3-.4l.2-.1l.2 .5l.3-.3l.3-1.3l.2 .8l.2 1.2l.3-2.1l.3 1l.2-.4l.2-.5l.3-.2l.3 .9l.2 .2l.2 0l.3-1.4l.3 1l.2 .6l.2 .5l.3-.2l.3 .1l.2 .2l.2-.4l.3-1.5l.3 .6l.2-.8l.2-1.5l.3 .6l.3 3.3l.2-2.6l.2-.8l.3 1.6l.3 2l.2-1.2l.2 .6l.3-.5l.3 .2l.2 1.1l.2-.5l.3-.9l.3 .6l.2-.1l.2-1.3l.3 .3l.3-.2l.2-1.2l.2 1.8l.3-1.1l.3-.3l.2-.8l.2 .5l.3 2.5l.3-2.1l.2 1.6l.2-.5l.3 .9l.3 .2l.2-1.1l.2 .5l.3 .4l.3 .1l.2-.1l.2-.1l.3 .9l.3 .7l.2-.4l.2-.8l.3 1.2l.3-.1l.2 .5l.2 1.3l.3-1.7l.3 .2l.2-.8l.2 .5l.3-.2l.3 1.8l.2-1l.2-.7l.3 2.2l.3-2.7l.2 1.9l.2 .2l.3-.3l.3-.7l.2 .2l.2-.2l.3 .9l.3-2.7l.2 1.5l.2 .5l.3-.6l.3-1.2l.2 1.2l.2-.4l.3 1.3l.3 .5l.2-1.2l.2-1.7l.3 1.4l.3-.6l.2 1.4l.2 .9l.3-1.1l.3 1.6l.2-.4l.2-.6l.3-1.3l.3 1l.2-1.3l.2 2.1l.3-.9l.3 1.1l.2-1l.2-1.9l.3 2.2l.3 .2l.2 .5l.2-2.3l.3 0l.3 .9l.2-1l.2-.2l.3 .4l.3 3.3l.2-2.7l.2-.2l.3 .5l.3 .4l.2 1l.2-.4l.3-.1l.3-.7l.2 .1l.2-.6l.3-1.3l.3 3.7l.2-2.1l.2 1.2l.3-1.3l.3 0l.2-.3l.2-1.3l.3 .9l.3 .3l.2 .3l.2-.3l.3 .4l.3-.5l.2-.2l.2-1.6l.3 1.2l.3 1.8l.2-1.2l.2 .6l.3-.9l.3-.4l.2 2.3l.2-1.5l.3 1l.3-.9l.2-.7l.2-1.7l.3 2l.3-1.4l.2-.5l.2 3.1l.3-.3l.3 .1l.2-.4l.2 .1l.3 .5l.3-.2l.2 0l.2 .5l.3-2.8l.3 2.8l.2-1.4l.2 1.2l.3 .2l.3-1.8l.2 1.4l.2 0l.3-1.2l.3 .2l.2 .6l.2-2l.3 1.5l.3 .5l.2-.5l.2-1l.3 1l.3 1.7l.2-.1l.2-1.3l.3-.6l.3 .7l.2 0l.2-.7l.3 .3l.3 .8l.2 .4l.2-2.8l.3 2.9l.3-.6l.2 .9l.2-1l.3 .4l.3 1.7l.2-4.7l.2 3.9l.3-1.2l.3-1.7l.2-.8l.2 2.6l.3-1.1l.3 1.8l.2-.7l.2-.3l.3 .9l.3-.7l.2 .5l.2 0l.3-.4l.3 .3l.2 0l.2-1.9l.3 .9l.3 .2l.2-.2l.2-1l.3 .9l.3 .8l.2-.1l.2 1.2l.3-1.7l.3 .2l.2-.1l.2 .2l.3-.3l.3-1.1l.2 1.8l.2 .4l.3 0l.3-2l.2 .7l.2 1.6l.3-1.7l.3 .4l.2-.4l.2 1l.3-.1l.3 1.1l.2-1.6l.2-.2l.3-1.5l.3 .5l.2-.3l.2 .2l.3-.8l.3 2.3l.2-1.8l.2 1.3l.3-1.2l.3 1.5l.2 1.2l.2-2.2l.3 1l.3-.4l.2 .2l.2 .1l.3-.8l.3 .4l.2-.3l.2-.2l.3-.3l.3 1.9l.2-1.5l.2 1.1l.3-.2l.3-1.4l.2 1.6l.2-1.6l.3 1.2l.3 .7l.2-2.1l.2 .1l.3 .1l.3 2.8l.2-2.3l.2-.7l.3 1.7l.3-.8l.2 0l.2-1l.3-1.2l.3 1l.2-.5l.2-.6l.3 .3l.3 .1l.2 1.5l.2 0l.3 0l.3-.7l.2-.3l.2 1.5l.3 .3l.3 .6l.2-.8l.2-.1l.3 .3l.3-1.1l.2 0l.2 1.1l.3-1.7l.3 .9l.2 .6l.2-.5l.3 .2l.3-1.4l.2 .9l.2-.2l.3 .7l.3-.2l.2-.4l.2 1.5l.3-1.2l.3-.8l.2-.3l.2 .5l.3-.5l.3 1.9l.2-.9l.2-.8l.3-.3l.3-.4l.2 .6l.2 1.4l.3-.5l.3-.7l.2 .2l.2-1.7l.3 2.2l.3-.8l.2 1.3l.2-1.4l.3-.3l.3 .5l.2-.8l.2 1.6l.3-.9l.3 0l.2-.1l.2-.6l.3 .7l.3-.3l.2 1.3l.2-1.5l.3 .3l.3-.8l.2 0l.2 0l.3 1.3l.3-1.1l.2 .7l.2-1.1l.3-.1l.3-1.4l.2 2.3l.2 1l.3-2l.3 1.4l.2-.5l.2-1.3l.3 1.1l.3-1.5l.2 .5l.2 1.2l.3-.9l.3-1.1l.2 2.3l.2-2.1l.3 .9l.3 0l.2 .2l.2-.6l.3-.7l.3 2.9l.2-2.5l.2 0l.3-1.4l.3 2l.2 1l.2 .7l.3 .4l.3-1.2l.2-1.1l.2-.4l.3 1.1l.3-1.4l.2 .2l.2-1l.3 .9l.3 1.6l.2-1.7l.2 .4l.3-2.4l.3 3.1l.2-.9l.2 .8l.3-1.1l.3-1l.2-.6l.2 1.5l.3-.5l.3-.9l.2 .7l.2-.6l.3 1.1l.3-1l.2-.8l.2 .9l.3-.5l.3 1.6l.2-1.8l.2-1l.3 .9l.3-.4l.2 .3l.2-.2l.3-1.1l.3 .9l.2 0l.2-.9l.3 .6l.3 .7l.2-1.6l.2 .3l.3 .4l.3 .2l.2 .5l.2-1.7l.3 1.4l.3 .2l.2 .8l.2-1.7l.3-.4l.3-.7l.2 1.6l.2 .4l.3-2l.3 .9l.2-.2l.2-.2l.3-1.5l.3 .6l.2-.8l.2-1l.3 .9l.3 0l.2-1.2l.2 1.1l.3 1.3l.3-3.3l.2 1.7l.2-.1l.3-1.1l.3-.1l.2-.9l.2 1.1l.3-2.4l.3 .4l.2-1.9l.2 1.6l.3-.2l.3-2.1l.2 .4l.2 .9l.3-1.2l.3-.9l.2-1.4l.2 2.2l.3 1.2l.3-2.5l.2 .5l.2-.3l.3-.7l.3-.2l.2-.3l.2-1.1l.3 2.7l.3-.1l.2-2.4l.2 1l.3-2.5l.3 .3l.2 1.1l.2-2.3l.3-.3l.3 1.4l.2-2.6l.2 3l.3-1.3l.3-.9l.2 0l.2-1.8l.3-.9l.3 1.8l.2-.2l.2-.9l.3-.4l.3-.7l.2 1.6l.2-3l.3 .3l.3 0l.2-1.2l.2-.1l.3 0l.3 2.2l.2 0l.2-1.6l.3-2.2l.3 .7l.2 .1l.2-.5l.3-.3l.3 .6l.2-2.7l.2 1l.3 .3l.3 .1l.2-.9l.2-.9l.3-.8l.3-1.2l.2 .1l.2-.8l.3-.9l.3 1.5l.2-.4l.2-1.8l.3 .6l.3 .2l.2-1.3l.2-.7l.3-.1l.3-2.7l.2-.3l.2 1.5l.3-.8l.3 .7l.2-2.4l.2 1.3l.3-.5l.3 .6l.2-3.5l.2 0l.3 .1l.3-.5l.2-2.5l.2 .4l.3-1.4l.3 3.3l.2-3.2l.2-.5l.3-1.2l.3 .2l.2 .4l.2-1.7l.3-.1l.3 2.1l.2-1.7l.2-1.2l.3-1.2l.3 0l.2-1.4l.2 .5l.3-1.8l.3-.8l.2-.4l.2-1.6l.3 .8l.3 2.2l.2-4.5l.2-2l.3 2.5l.3-2l.2 1.9l.2-2.7l.3-.1l.3-2.9l.2-1.8l.2 1.1l.3 .4l.3-2.7l.2-1.7l.2 .5l.3-.5l.3-.5l.2-.3l.2 2.7l.3-3.8l.3-1.2l.2-1.4l.2 2l.3-3.8l.3 3.5l.2-2.7l.2-2.8l.3 1.5l.3-1.2l.2 1l.2-4.9l.3 1.5l.3-1.4l.2 .4l.2-4.1l.3-.4l.3 3.1l.2-3l.2-3.9l.3 1.9l.3-2.6l.2-.7l.2-1.7l.3 2.4l.3-3.4l.2 .1l.2-1.3l.3-3.6l.3 .1l.2 1.3l.2-4.8l.3 2l.3-1.6l.2 .3l.2-.9l.3-.7l.3-2.3l.2-.6l.2-2.6l.3-.7l.3 1.4l.2-3.5l.2 1.8l.3-1.1l.3-4.1l.2 1.4l.2-3.4l.3 1.2l.3-2.9l.2 1.2l.2-1.2l.3-3l.3 4.7l.2-2.9l.2-5.7l.3 2.7l.3-2.4l.2 3.7l.2-4.9l.3-.1l.3-2l.2 .5l.2-3.3l.3-1.8l.3-.4l.2-1.1l.2 .8l.3-2.3l.3-2.4l.2-1.1l.2-2.3l.3 .8l.3-5.7l.2 2.4l.2 1.6l.3-4.5l.3-1.9l.2 0l.2-3.4l.3-1.2l.3 1.5l.2-4.3l.2 3.9l.3-4.5l.3-2.9l.2-2.7l.2-.8l.3-5.9l.3 3.8l.2-.2l.2-2.4l.3-3.9l.3 .7l.2-1.6l.2-3.4l.3-.4l.3 .1l.2-2.7l.2-3.2l.3-.3l.3-1l.2-5.3l.2 2.7l.3-1.9l.3-6l.2-.3l.2 6.8l.3-5.2l.3 1.6l.2-5.2l.2 3.3l.3-3.3l.3-3.9l.2 1.3l.2 2.3l.3 1.2l.3-5.2l.2-2.9l.2-1.6l.3 3.1l.3 .4l.2-2.9l.2-1.3l.3 1.6l.3-1.5l.2-.8l.2-5l.3 2.6l.3 5.2l.2-4.7l.2 5.8l.3-5l.3-1.7l.2 1.5l.2 .9l.3-2.9l.3 2.7l.2-1.3l.2 5l.3-4l.3 2.1l.2-3.2l.2 1.2l.3 3.9l.3-1.1l.2 2.3l.2 2.2l.3 1.8l.3-3.9l.2 4l.2 3l.3-2.3l.3-.6l.2 2.4l.2 6.6l.3-3l.3 4.8l.2-3.5l.2 4.7l.3-5.4l.3 4l.2 1.9l.2 5l.3-2.1l.3 2.6l.2-2.8l.2 1l.3 5.1l.3 1.4l.2 .5l.2 1l.3-3.1l.3 7.4l.2-3.7l.2 3.6l.3-.4l.3-5l.2 .4l.2 1.7l.3 4.6l.3 3.7l.2-2.2l.2 3.5l.3-3.9l.3 2.3l.2 .3l.2 3l.3-2l.3 3.3l.2 2.4l.2-1.7l.3-.1l.3 1.7l.2-1l.2 1.2l.3 4.8l.3-.5l.2-5l.2 4.5l.3 2.5l.3 1.4l.2 .3l.2 1.4l.3-1.7l.3 .6l.2 0l.2 3.4l.3-.1l.3 2.3l.2-1l.2-3.7l.3-.9l.3 .8l.2 1.7l.2 3.9l.3-3.5l.3-.6l.2 4.4l.2 2.6l.3 .4l.3 2.1l.2-3.1l.2-.8l.3 .7l.3-1.9l.2 1.5l.2 3.9l.3 1.6l.3-1.7l.2-2.1l.2-1.2l.3 .7l.3-4.4l.2 4.4l.2 0l.3-2.1l.3-.1l.2-3.7l.2 4l.3-.7l.3-7.5l.2 3.1l.2 .8l.3 1.4l.3-5.5l.2 .5l.2 1.7l.3-2.8l.3-2.2l.2-1.4l.2-.1l.3-2.3l.3 2.2l.2-4.1l.2 1.5l.3-.4l.3-.7l.2-2.9l.2-1.4l.3-.7l.3-1.7l.2 .2l.2-3.4l.3 1.8l.3-.2l.2-7.3l.2-.2l.3-4.5l.3 .9l.2-2.8l.2-3.2l.3-3.4l.3-.5l.2 1.1l.2-2.5l.3-3.8l.3-3.5l.2-1.4l.2-3.7l.3-4l.3-2.9l.2-1.4l.2-4.2l.3-3.9l.3-5.2l.2-3.6l.2 .4l.3-5.3l.3-1.4l.2-7l.2-3.6l.3-8l.3-6.1l.2-3.7l.2 0l.3-4.3l.3-4.4l.2-1.9l.2-4.8l.3 2.2l.3-2.7l.2-4.8l.2-1l.3-6.4l.3 3.1l.2-2.6l.2-2.1l.3-1.1l.3-2.4l.2-3.6l.2-1.5l.3-1l.3 .3l.2-1.8l.2-1.2l.3 2l.3-.2l.2 7l.2 .4l.3 1.1l.3 4.8l.2 4.8l.2 3.3l.3 6.4l.3 .8l.2 9.6l.2 3.7l.3 6.8l.3 6.8l.2 1.8l.2 4.9l.3 6l.3 2.7l.2 2.8l.2 9.3l.3 8.1l.3 5.3l.2 8.5l.2 13.8l.3 .5l.3 5l.2 5.1l.2 5.3l.3 3.8l.3 6.2l.2 4.5l.2 6.1l.3 4.3l.3 5.4l.2 5.1l.2 5.4l.3 6.4l.3 3.9l.2 4.4l.2 2.8l.3 2.6l.3 6.2l.2 .4l.2 3.9l.3-.3l.3 5l.2 2.6l.2 1.5l.3 .8l.3 5.3l.2 .1l.2 .5l.3 3.4l.3 4.5l.2 1.5l.2 3.8l.3 1.8l.3 2.8l.2 .5l.2 1.4l.3 1.5l.3 .5l.2 1.4l.2 1.5l.3 2.5l.3-.1l.2 2.3l.2 2.7l.3-3.2l.3 3l.2 .9l.2 2.1l.3-1.1l.3 1.7l.2 4.4l.2-4.1l.3 2.2l.3 .9l.2 0l.2-.5l.3 3.5l.3-3l.2 2l.2 1.8l.3 .2l.3 3.1l.2-1.3l.2 3.4l.3-1.9l.3 2.5l.2-.9l.2-.2l.3 .7l.3 2.5l.2-1.1l.2 1.6l.3-.1l.3-.8l.2 4.2l.2 .8l.3-1.8l.3 2.7l.2-.5l.2-1.8l.3 1.7l.3 2.6l.2 .9l.2-.5l.3 3.6l.3-2.9l.2-1.3l.2-1.8l.3 5.3l.3-2.5l.2 .2l.2-.4l.3 .2l.3 .9l.2 1.4l.2 .3l.3 0l.3 1l.2-1.8l.2-.7l.3 1.5l.3-2.7l.2 4.1l.2-.3l.3 .2l.3-2.1l.2 1.1l.2 .9l.3-1.3l.3 0l.2 1.4l.2 .6l.3-1.1l.3 2.5l.2 1.8l.2-2.2l.3-1l.3-.1l.2 2.9l.2-1.7l.3 .7l.3-.3l.2-.9l.2 3.3l.3-2.3l.3 .7l.2-3.1l.2 6.4l.3-2l.3-1.1l.2-1l.2 .4l.3-1.4l.3 3.5l.2-1.7l.2 2.2l.3 .3l.3 2.4l.2-2.3l.2 .2l.3 .4l.3-1.6l.2 .6l.2 .9l.3 1.3l.3-.5l.2-1.4l.2 2.4l.3-2.2l.3-2.6l.2 6.1l.2-2.1l.3-.4l.3-.9l.2 1.5l.2 3.4l.3-2.6l.3 3.6l.2-3.4l.2 1.7l.3-1.7l.3-.8l.2 .2l.2 .3l.3-1.3l.3 .2l.2 2.7l.2 1.6l.3-1.5l.3-.1l.2-1.5l.2 3.2l.3-.1l.3-3.5l.2 2l.2-.5l.3-1.7l.3 5.2l.2-.5l.2-1.1l.3 2l.3-2.8l.2 1.5l.2 1.9l.3-2.4l.3 1.1l.2-1.9l.2 2.8l.3 .9l.3-3.5l.2 .2l.2 1l.3 2.2l.3-3.3l.2-.7l.2 1.1l.3 2.2l.3-4.3l.2 2.4l.2 2.7l.3-2l.3-.4l.2 2l.2-3.5l.3 5.4l.3-2.8l.2-1.5l.2 .9l.3-.2l.3-.2l.2-1.5l.2 1.9l.3-2.4l.3 5.4l.2-4.3l.2 .7l.3-.1l.3 2.7l.2-1.5l.2 3l.3-3.1l.3 1.3l.2-.2l.2-.3l.3 3.6l.3-.8l.2 .1l.2-4.9l.3 2.8l.3-2.7l.2-.1l.2-1.2l.3 1.6l.3 2.9l.2 1.7l.2 .9l.3-4.4l.3 .7l.2 1.7l.2-.1l.3 .1l.3-3.6l.2 2.8l.2 1.3l.3-.6l.3-.8l.2-1.2l.2 1.1l.3 2.9l.3-2.2l.2 .9l.2 2.5l.3-6.5l.3 3.2l.2-.3l.2 1.8l.3-2.7l.3 .2l.2-.6l.2 1.6l.3-.8l.3 .3l.2 .9l.2-1.3l.3-1l.3 1l.2-.2l.2 1.8l.3 1.5l.3-3l.2-4l.2 5.7l.3-1.3l.3-1.7l.2 1.3l.2 4l.3-6.4l.3 .5l.2 2l.2-5.9l.3 5l.3 2.7l.2-.8l.2-.3l.3-1.2l.3 .6l.2 5.9l.2-4.4l.3 2.5l.3-4.8l.2 3.2l.2 .3l.3-.3l.3-4.5l.2 3.3l.2 3.5l.3-1.9l.3-2.9l.2 3.1l.2-5.5l.3 4.7l.3-.6l.2-2.1l.2-1l.3-1.4l.3 2.8l.2 3.9l.2-1.7l.3-.9l.3 1.2l.2-3l.2 2.4l.3-6.8l.3 5.1l.2 .1l.2 .9l.3-.1l.3 1.6l.2-2.5l.2 3.1l.3-2.5l.3 2l.2-1.7l.2 1.4l.3-.7l.3-2l.2 1.8l.2-2.8l.3 2.9l.3 .9l.2-1.3l.2 .3l.3 2.4l.3 .5l.2 .4l.2-4.1l.3 .3l.3 2.7l.2 .3l.2-5.6l.3 7.9l.3-1.7l.2-5.1l.2 5.1l.3-3.3l.3 .7l.2-1.7l.2 .4l.3 .9l.3 1l.2-2.7l.2 2.1l.3-1.4l.3 .2l.2-.8l.2 .4l.3 4.7l.3-6.9l.2 .6l.2 2.6l.3-1l.3-1.2l.2 3l.2-3.4l.3 2.5l.3 2l.2-.9l.2-1.9l.3 .7l.3 .5l.2 .7l.2-3.4l.3 4.9l.3-1.1l.2 2.5l.2-2.2l.3 .4l.3-8.8l.2 5.4l.2 5l.3-3.2l.3-1.7l.2 2.7l.2-1.1l.3 1l.3-2.2l.2 3l.2 2.3l.3-2.8l.3 .3l.2-2.6l.2 2.4l.3-2.2l.3-2.2l.2 2l.2 .4l.3 1.7l.3 .8l.2-2.7l.2-.6l.3 2.1l.3-3.6l.2 1.1l.2 .1l.3 .2l.3-.9l.2 5l.2-1.4l.3-2.5l.3-2.8l.2 1.9l.2 2.3l.3-5.8l.3 9.6l.2-5.8l.2 0l.3 1.5l.3-4.5l.2 3.4l.2-.1l.3 1.7l.3-3.7l.2 3.6l.2 1.2l.3-2.2l.3-2l.2-.9l.2-2.2l.3 2.5l.3 2.4l.2 2.2l.2-.9l.3 .6l.3-3.5l.2 .3l.2-2.3l.3 1.9l.3-1l.2 1.9l.2 2l.3-1.7l.3-.4l.2 2.3l.2 2l.3-.8l.3-5.9l.2 7.8l.2-4.7l.3-2.1l.3 2.4l.2 3l.2-8.2l.3 8.5l.3-2.7l.2 .4l.2-4.6l.3 1.4l.3-1.5l.2 4.9l.2-4.5l.3 2.5l.3-2.3l.2-2.1l.2 5.7l.3 .8l.3 .8l.2-4.6l.2 1.3l.3 1.5l.3-.8l.2-.3l.2 4.6l.3-6.1l.3 2.7l.2-3.4l.2 5.7l.3-5.3l.3-1.6l.2 3.9l.2-1.4l.3-.8l.3 .4l.2-.8l.2 2.4l.3-.6l.3 2.8l.2-5.4l.2 4.6l.3-2l.3-4.3l.2 6.5l.2-7.2l.3 5l.3-5.3l.2 4.7l.2-1.6l.3 .1l.3-3.8l.2 2.5l.2 4.2l.3-1.3l.3-1.6l.2-.2l.2-1.2l.3 4.6l.3-3.1l.2 2.7l.2-5.4l.3 .2l.3 6.7l.2-4.8l.2 1.6l.3 1.4l.3 .9l.2-.9l.2-.5l.3 2.1l.3-3.3l.2 1.1l.2-2.1l.3 0l.3 3.7l.2-4.9l.2-5.1l.3 5.6l.3 .2l.2 3.5l.2-5l.3-1.9l.3 2.7l.2 3.8l.2-5l.3 3.5l.3-1.8l.2 .1l.2-3.4l.3 1.9l.3-2.2l.2 1.7l.2-1.7l.3 3.9l.3-3.7l.2 .7l.2-4.3l.3 2.8l.3 7.6l.2-6.2l.2-2.7l.3 3.6l.3-.4l.2-.6l.2 .4l.3-.4l.3 3l.2-4.9l.2 2.9l.3 1.2l.3-4.1l.2 6.7l.2-5.3l.3-.7l.3-1.4l.2 2.6l.2-5.6l.3 4.6l.3 3.5l.2-4.2l.2 1.1l.3-3.8l.3 4l.2-3.3l.2 .9l.3 1.1l.3 4.4l.2-5.5l.2-3l.3 4.6l.3 1.4l.2-.4l.2-1l.3 2.3l.3-1.2l.2-.4l.2-3.4l.3-2.1l.3 6.6l.2-5.8l.2 4.6l.3-.5l.3-5.3l.2 1.1l.2 2.4l.3 1.2l.3-4.4l.2 1.4l.2-1.6l.3-.4l.3 2.9l.2-1.3l.2-3.4l.3 5.4l.3-1.8l.2-.1l.2-2.2l.3 4.4l.3-1.1l.2-.2l.2-1.1l.3 .8l.3 2.5l.2-3.2l.2-.1l.3-2.1l.3 2.7l.2-2.2l.2-1.3l.3 3.9l.3-3.1l.2-1.7l.2 .1l.3 .3l.3-1.4l.2 5.4l.2-2.1l.3-4.6l.3 5.4l.2-3.6l.2 1.2l.3-1.5l.3 1.7l.2-.1l.2 .9l.3 .1l.3-7.6l.2 4.4l.2 .8l.3-.7l.3-3l.2 2.1l.2 .3l.3-4.2l.3 2.7l.2 3.5l.2-3.3l.3 1.1l.3 .2l.2 .7l.2 .1l.3 .2l.3-2.5l.2-.2l.2-.9l.3 .8l.3-.9l.2 2l.2-.1l.3-4.6l.3-2l.2 5.9l.2-2.3l.3-2.4l.3 5.3l.2 1l.2-6.1l.3 .2l.3 .4l.2-.4l.2 1.3l.3-2.5l.3 2.3l.2-1.1l.2 3l.3-2.8l.3 2l.2 1.2l.2-2.4l.3 .2l.3-2.7l.2 1.1l.2 5l.3-1.9l.3-2.8l.2-.8l.2 .7l.3 2.9l.3-6.8l.2 5.1l.2-3.5l.3 6l.3-6.5l.2 4.9l.2-3l.3 .3l.3 3.3l.2-4.1l.2 1l.3-1l.3-3.7l.2 2.2l.2 2.2l.3-1.5l.3-.3l.2-2l.2 5.1l.3-4.7l.3 5.2l.2-3.7l.2 .9l.3-4.9l.3 3.1l.2-2.6l.2 2l.3 2.3l.3-2.1l.2-.4l.2 1.5l.3-5l.3 2.8l.2-1.7l.2 3.6l.3-4.2l.3 4.9l.2 .7l.2-9.4l.3 4.1l.3-3.4l.2 6.2l.2-4.8l.3 3.3l.3-.8l.2-2.8l.2-1.4l.3 5.8l.3-4l.2 1.8l.2 2.4l.3-3.3l.3-.6l.2-1.7l.2 3.3l.3-2.9l.3-2l.2 2.3l.2-.3l.3-2.5l.3 2.8l.2 2l.2-.9l.3 2.9l.3-2.4l.2-2.2l.2-5.3l.3 4.8l.3 2l.2-3.4l.2 3.8l.3-5.3l.3 2.7l.2 1.4l.2 1.9l.3-3.8l.3 4.4l.2-5.3l.2-3.4l.3 3.5l.3 2.9l.2-4.2l.2 4.1l.3-4.5l.3 4.4l.2-9.5l.2 10l.3-9.8l.3 4.4l.2-2.5l.2 3.4l.3-1.2l.3-.2l.2 2l.2 .7l.3-3.1l.3 3.4l.2-6.9l.2 1.3l.3-.8l.3 4l.2 .8l.2-3.3l.3-.8l.3-1.6l.2 4l.2 .8l.3-4l.3 .7l.2-.6l.2 .8l.3 1l.3-6.1l.2 3.8l.2 3l.3-3.9l.3 4.9l.2 .2l.2-5.4l.3 .2l.3 4.7l.2-6.8l.2 1.3l.3-1.4l.3 3.8l.2 .7l.2 .2l.3-.5l.3-3.9l.2 5.7l.2-2.8l.3-.9l.3 4.8l.2-3.7l.2 .5l.3 .9l.3 2.5l.2-4.9l.2 1.2l.3-7.2l.3 2.7l.2 6.7l.2-.3l.3-4.9l.3-1.7l.2-1.1l.2 .4l.3 1.4l.3-2.8l.2 3.3l.2-.4l.3-2.9l.3-.5l.2-.1l.2 1.2l.3 .4l.3 1.7l.2-5.2l.2 3.4l.3 1.1l.3 .9l.2 1.5l.2-2.7l.3 3.8l.3 2.3l.2-4.4l.2 2.3l.3-1.5l.3-1.4l.2-1.6l.2 1l.3 4l.3-4.5l.2-1.9l.2 .7l.3 2.8l.3-3.2l.2 3.5l.2-.4l.3-1.2l.3 3.2l.2-6.6l.2 1.8l.3 .9l.3 1.4l.2-3.9l.2 1.8l.3 4.2l.3-3.9l.2 2.8l.2-2.7l.3-1.3l.3 2.8l.2 1.8l.2-3l.3-2.8l.3 1.4l.2 .8l.2 .4l.3-1.6l.3 3.6l.2-4.1l.2 4.5l.3-4.7l.3 .1l.2 4.7l.2-1l.3-2.5l.3-.8l.2 .6l.2 .4l.3 .1l.3 1.5l.2-4.5l.2 1.7l.3 .1l.3-3.1l.2 5.9l.2 1.4l.3-3.6l.3-3.8l.2 2.3l.2 4l.3-6.7l.3 0l.2 3.2l.2 2l.3 .7l.3 .2l.2-7.9l.2 3.9l.3-1.1l.3-.2l.2 3.9l.2-.9l.3-2.6l.3 2.1l.2-.1l.2 2.4l.3-4.2l.3 3.2l.2-3.7l.2 2.5l.3-1.2l.3 .6l.2-.8l.2 3.3l.3-5l.3-.6l.2 .8l.2 2.2l.3 .6l.3-1.7l.2-1.2l.2 .8l.3-.4l.3 2.7l.2-1l.2 .5l.3-.4l.3-.1l.2 2.2l.2-3.7l.3 1.7l.3-.2l.2-2.7l.2 5l.3-3.1l.3-2.9l.2 4.5l.2-.9l.3 .3l.3-2l.2-.3l.2 1.1l.3-3.3l.3 3.2l.2-.3l.2 1.7l.3-2.5l.3 1.7l.2-4.6l.2 1.3l.3 3.3l.3 1.4l.2-1.2l.2-5.1l.3 1l.3 1l.2 4l.2-4l.3 1.7l.3 .3l.2-.1l.2-1.5l.3 .9l.3 1l.2-1.4l.2-.5l.3 1.9l.3 1.6l.2 2l.2-7.7l.3 3l.3-.4l.2-2.6l.2 1.8l.3-.9l.3-.7l.2 .7l.2 2.7l.3-3.5l.3 1.2l.2 1l.2-1.7l.3-.3l.3-.5l.2 2l.2 4.8l.3-6.5l.3 5.6l.2-3.7l.2 0l.3 3.7l.3-.4l.2 .3l.2-1.4l.3 1.8l.3-3.2l.2 2.1l.2 1.3l.3-2.1l.3-1.7l.2 5.7l.2-3.7l.3-1.3l.3 3.8l.2 1.7l.2-1.2l.3-3.6l.3 2.9l.2 .6l.2 .7l.3-4.4l.3 .3l.2 3.2l.2-.2l.3 1.2l.3 2l.2-5l.2 .9l.3 1.7l.3 4.9l.2-3.4l.2 2.8l.3-7l.3 5.8l.2 1.7l.2 1.3l.3-4.3l.3 6.2l.2-5.7l.2 5.3l.3 .8l.3-3.6l.2-2.6l.2 7.8l.3-3.9l.3-3.3l.2 3.9l.2-3l.3 3.1l.3-2.2l.2-2.2l.2 6.8l.3-2.8l.3 1.3l.2 .5l.2-.7l.3-1.3l.3 2.3l.2 .6l.2-.6l.3-.9l.3 1.3l.2 3.7l.2-.2l.3-2.8l.3 2.2l.2 .1l.2 .1l.3-1.2l.3 .9l.2-1.9l.2 2.1l.3-.4l.3 .3l.2 .1l.2-.1l.3-2.6l.3-.5l.2 3.3l.2-.7l.3 2.8l.3-2.6l.2 .7l.2-1.7l.3 2.8l.3-.4l.2 3.4l.2-2.3l.3 3l.3-4.7l.2-1.7l.2 5.8l.3-1.2l.3 2.3l.2-4.9l.2-2.4l.3 7.2l.3-2.8l.2-1.8l.2 6l.3-4.3l.3-1.7l.2 2.9l.2-1.7l.3-.3l.3 3l.2-.5l.2-.2l.3 .4l.3-2.4l.2 4.7l.2 2.8l.3-3.3l.3 2.3l.2 1.6l.2-4.8l.3-1.1l.3-.7l.2 1l.2 2.6l.3-2l.3 2.8l.2-3.9l.2 5l.3-4.2l.3 .5l.2 .3l.2-.7l.3 .2l.3 1.5l.2-1.5l.2 1.3l.3-2.4l.3 .2l.2-1.1l.2 4.9l.3-3.8l.3 3.7l.2-.5l.2 .3l.3-.6l.3 2l.2 .1l.2 2.8l.3-3.9l.3-.2l.2-1.8l.2 7.1l.3-6.4l.3 3.1l.2-.4l.2-4.5l.3 1l.3 2.9l.2-1.6l.2-2.7l.3 3.2l.3 3.2l.2-2.4l.2 .5l.3 1.6l.3 1.8l.2-4.8l.2-1.7l.3 .9l.3-1.1l.2-2l.2 2.7l.3-1.6l.3 5.1l.2-2.6l.2-5.1l.3 3.7l.3 3.3l.2-2l.2-.4l.3 .6l.3-.7l.2 3.2l.2-2.4l.3-.9l.3 3.9l.2-4.2l.2 3.2l.3-2.5l.3 1.4l.2 0l.2-1.3l.3 1.2l.3 4.6l.2-5.5l.2 7.1l.3-2.2l.3 2.1l.2-4l.2 4l.3-1.4l.3 4.5l.2-5l.2 3.9l.3-3.9l.3 4.4l.2-3.9l.2-1.6l.3-.5l.3 2l.2 4.9l.2-5.8l.3 1.6l.3 1.9l.2 .8l.2 .8l.3 3.3l.3-3.7l.2-2.7l.2 4.9l.3-2.6l.3 .6l.2 .9l.2 3.6l.3-.4l.3-2l.2-.3l.2 2.3l.3-2.1l.3-1.8l.2 2.8l.2 3.8l.3-3.5l.3 .5l.2 4.4l.2 .2l.3 .2l.3-4.7l.2 3.2l.2 2.4l.3-.2l.3-2.6l.2 .9l.2-.7l.3 .9l.3 2.2l.2 .2l.2-2.6l.3 3.4l.3-.9l.2 2.5l.2-3.8l.3 1.9l.3-5.1l.2 7l.2 .1l.3 1l.3-1.4l.2 .3l.2 0l.3 3.1l.3-4.7l.2 2.1l.2 1.7l.3-2l.3-1.1l.2 1.5l.2 1.5l.3 2.9l.3-4.5l.2-3.6l.2 6.9l.3-2.3l.3 1.2l.2-1.5l.2 .2l.3-4l.3 5.6l.2-3.5l.2 4.1l.3-5.4l.3 7.1l.2-2.8l.2-4.5l.3 5.5l.3 0l.2 0l.2-2.7l.3 7.3l.3-6l.2 3.3l.2-7.5l.3 6.9l.3-.2l.2-1l.2 2.8l.3-3.9l.3 2.2l.2-1.1l.2 .7l.3-2.8l.3 3.5l.2-.2l.2-.5l.3 0l.3-1.6l.2-.5l.2 .7l.3 1.3l.3-3.4l.2 2.5l.2 3.8l.3-1.6l.3-3.4l.2 5.1l.2-6.1l.3 3.6l.3 3l.2-.8l.2-.7l.3-3.1l.3-1.4l.2 4.5l.2-.7l.3 3l.3-5l.2-1.2l.2 1.2l.3-2.7l.3 3.3l.2 .8l.2-.2l.3 4.4l.3 .2l.2-4.7l.2-.3l.3 4.2l.3-.3l.2-4.7l.2 1.3l.3 .1l.3-.9l.2 1.7l.2-1.5l.3 4.4l.3-.7l.2-4.8l.2 2.2l.3 .1l.3 4.3l.2-4.5l.2 3.3l.3 1.6l.3-5.3l.2 3.2l.2-.8l.3 1.9l.3-4.8l.2 2.4l.2-2.7l.3 5.4l.3-5.9l.2 4.3l.2-3.7l.3 1.6l.3-.2l.2 1.9l.2 1.1l.3 1.3l.3 .6l.2-2.9l.2-2.5l.3 5.1l.3-5.5l.2 2.8l.2-1.6l.3 .3l.3 1.9l.2-2.8l.2 2.4l.3 .1l.3 2.4l.2 .1l.2-.9l.3-1.8l.3 3.4l.2-1.7l.2-5l.3 3.4l.3 .4l.2-2.9l.2 2.4l.3-1.2l.3-1.2l.2 2.2l.2-1.3l.3-1l.3 3l.2-3.9l.2 6.8l.3-3.1l.3 1l.2 2l.2-.1l.3-2.9l.3 1.3l.2 1.4l.2 .9l.3-4.9l.3 2.4l.2-3.1l.2 .4l.3 1.8l.3-.3l.2-1.9l.2 .5l.3 1.9l.3-2.9l.2 3.6l.2-2.8l.3 5.8l.3-2.6l.2 1.3l.2-2.4l.3 3.2l.3-1.4l.2 .4l.2-1.4l.3 1l.3-1.6l.2 1.6l.2-1.9l.3 .2l.3 1.1l.2-.1l.2-.4l.3-1.7l.3 1.1l.2 2.5l.2-1.8l.3 .5l.3-1.7l.2 4.4l.2-3.3l.3 1.8l.3-1.1l.2 2.6l.2-6.3l.3-1.3l.3 3.5l.2-5.1l.2 3.6l.3 .1l.3 1l.2 2.1l.2-4.3l.3 4.3l.3 1.9l.2 1l.2-5.8l.3 1.8l.3 5.1l.2-6.5l.2 4.7l.3-1.9l.3 .2l.2-5.1l.2 .4l.3 1l.3 3.3l.2 .4l.2-3.4l.3 2.5l.3-.2l.2-2.2l.2-.2l.3-1.7l.3 1.8l.2 .7l.2 4.5l.3-.9l.3-2.3l.2 1.1l.2-2.6l.3-5.9l.3 8.5l.2 .8l.2-2.7l.3 4.5l.3-.1l.2-.5l.2-6l.3 4.1l.3 1.2l.2-3.5l.2 .7l.3 3l.3 2.7l.2-2.8l.2-1.2l.3-1.7l.3-1.3l.2 .4l.2 2.6l.3-2.1l.3 3.8l.2-6.1l.2 .3l.3 2.4l.3 .6l.2-.1l.2-2.5l.3 .9l.3 4l.2-2.8l.2-.1l.3 2.7l.3-.4l.2-.9l.2 3.7l.3-6.8l.3 3.8l.2-2.3l.2 3.5l.3-4.3l.3 3.5l.2-2.3l.2 6.6l.3-5l.3 4.5l.2-6.2l.2 .3l.3 2.2l.3-4.5l.2 1.6l.2 5.3l.3-.9l.3-3l.2 2.9l.2-1.5l.3 .1l.3-3.1l.2 4.3l.2-3.3l.3 4.6l.3-6.7l.2 8.9l.2-7.1l.3-1.8l.3 .3l.2 3.1l.2-.4l.3-2.3l.3 3.2l.2 2.6l.2-4l.3 1.6l.3 .3l.2-.1l.2-5.8l.3 7.1l.3-3.6l.2 .3l.2 2.3l.3-8.6l.3 7.7l.2-1.1l.2 3.1l.3-2.6l.3 2.4l.2-.4l.2-4.7l.3 2.7l.3-1.2l.2 1.7l.2-1.7l.3-1.3l.3 2.9l.2-.7l.2 1.5l.3 2.2l.3-4.7l.2 .1l.2 3l.3-.6l.3-5.6l.2 3.5l.2-3.2l.3 1.6l.3 .8l.2 .8l.2-.3l.3 1l.3 .2l.2 2.6l.2-1.8l.3-4.1l.3 5.3l.2-2.1l.2-3.2l.3 .6l.3 2.5l.2 .2l.2 .6l.3-4.2l.3 2.6l.2 5.2l.2-8.5l.3 .7l.3 2.9l.2 .5l.2-2l.3 1.5l.3-.6l.2-1.8l.2 1.7l.3-.7l.3 1.4l.2 .7l.2-3.4l.3 1.9l.3-1.9l.2 1.7l.2 1.3l.3 1.4l.3-3.2l.2 3.1l.2-1.7l.3-.4l.3-.2l.2-1l.2 1.9l.3-3.7l.3 3.6l.2-2.3l.2 4.4l.3-4.4l.3 1.8l.2 .8l.2 .1l.3 1.6l.3 .2l.2-3.9l.2-.7l.3 4.2l.3-2.1l.2-1.1l.2 .4l.3 1.9l.3-.1l.2-6.5l.2 2.9l.3 .5l.3-1l.2 4.7l.2 .3l.3-2.9l.3 3.4l.2-3.8l.2 3.7l.3-1.3l.3-1.3l.2 .6l.2-2.2l.3 3.6l.3-3.3l.2 2.1l.2-3l.3 .1l.3 1.9l.2 0l.2 2.4l.3-3.3l.3 1.1l.2 0l.2 3.4l.3-4.1l.3-2.9l.2-.9l.2 2.1l.3 .9l.3-2.9l.2-.1l.2 .4l.3 2.1l.3 1.4l.2-2.8l.2-.1l.3 4.6l.3 1.2l.2-2.6l.2-2.4l.3 0l.3 2.7l.2-5.4l.2 .3l.3 5.5l.3-5.2l.2 1.6l.2 6.2l.3-5.4l.3 4.1l.2-3.5l.2-1.6l.3 3.4l.3-1.1l.2 2l.2-5l.3 4.3l.3-.6l.2 1.3l.2-1.1l.3-2.8l.3 4.9l.2-1.2l.2-.2l.3-.9l.3-.9l.2-2.2l.2-2.9l.3 .4l.3 3l.2-4.5l.2 3.6l.3 3.4l.3-3.7l.2 6.4l.2-7.6l.3 5.2l.3-5.5l.2 5l.2 3l.3-4.3l.3-2l.2 .2l.2 3.9l.3 .5l.3-1l.2-2l.2-1.3l.3 .7l.3-.4l.2-1l.2 6l.3 .6l.3 .2l.2 1l.2-5.1l.3-2.7l.3 4.4l.2-1.3l.2-2l.3 3.1l.3-2.2l.2 2.3l.2-.7l.3-2.8l.3 1.9l.2-1.1l.2 1.9l.3-.9l.3-2l.2 3.1l.2-1.5l.3 .1l.3 .5l.2 4.5l.2-4.1l.3-1.4l.3-1l.2-2.3l.2 3.7l.3 .1l.3-1.1l.2 3l.2-.5l.3 .9l.3-1.7l.2 4l.2-1.8l.3-2.6l.3 1.5l.2 2.1l.2-3.6l.3 4l.3-3.9l.2-3.3l.2 5.2l.3-2.9l.3 1l.2-.5l.2 2.5l.3-2.4l.3 1.9l.2-3.8l.2 2l.3-1.5l.3 1.2l.2 4.7l.2-6.5l.3 2.4l.3-1.7l.2 2l.2-3.1l.3 .6l.3-2.5l.2 6.5l.2-2.5l.3 .6l.3-3.3l.2 6.2l.2-.7l.3-3.1l.3 1.4l.2-1.2l.1 2.6"/><path class="fz" d="M72.8,427.4l.2 1.2l.3-.4l.3-.1l.2 1l.2-3.3l.3 .5l.3-.8l.2 1.3l.2 1.3l.3-1.2l.3 .5l.2-2.7l.2 2.4l.3-1.1l.3 3.1l.2-.9l.2 .1l.3-1.1l.3 .8l.2 .1l.2-1.2l.3-.3l.3 .4l.2-.8l.2-.1l.3 .2l.3-.7l.2 1.6l.2-2.8l.3 2.8l.3-1.6l.2 .2l.2-.9l.3 1.4l.3-.1l.2 .4l.2-.9l.3 .6l.3 1.8l.2-1.8l.2-1.2l.3 1.7l.3-1.3l.2 .8l.2-.1l.3-1.2l.3-1.9l.2 1.7l.2 .9l.3-1.1l.3 1l.2 .6l.2-1.7l.3 2.1l.3 .5l.2-.6l.2 0l.3-.1l.3 1.3l.2-2.4l.2-.3l.3 .7l.3-1.7l.2-.7l.2 .7l.3 1.5l.3 .1l.2-2.3l.2-.5l.3 1.8l.3 .1l.2 .1l.2 .8l.3 .7l.3-1.1l.2 .5l.2-1.9l.3 0l.3 1.7l.2 .5l.2 .2l.3-.2l.3 .2l.2-.1l.2-3l.3 1.1l.3 1.4l.2 .2l.2-2.4l.3 3.1l.3-1.7l.2 .3l.2 .7l.3 .6l.3-2.5l.2 2.8l.2-1l.3-1l.3 .7l.2-2.1l.2 1.9l.3 1l.3-.9l.2 .5l.2 .1l.3 .2l.3 1l.2-1.3l.2-.4l.3 .9l.3 1.7l.2-2.8l.2 1l.3-2.5l.3 3.3l.2-.8l.2 .6l.3-1.7l.3-1.3l.2 2.1l.2-.2l.3-1.8l.3-.6l.2 2.3l.2-.6l.3 3.3l.3-3.5l.2 .1l.2 .6l.3-1.8l.3 .8l.2 2.9l.2-2.1l.3-.7l.3-.8l.2 2.1l.2 .1l.3-.5l.3-.7l.2 .7l.2 .1l.3-1.2l.3 1.5l.2-3.1l.2 1.1l.3 1.2l.3 .4l.2-1.1l.2 1.9l.3 .9l.3-.6l.2-.2l.2 .8l.3-.5l.3-1.8l.2 1.1l.2 1.7l.3-2.8l.3 1.3l.2-.6l.2-.6l.3-.2l.3 1.3l.2 .2l.2 0l.3-1.9l.3 1.3l.2 .8l.2 .7l.3-.3l.3 .2l.2 .2l.2-.5l.3-2l.3 .9l.2-1l.2-2l.3 .8l.3 4.4l.2-3.6l.2-1.1l.3 2.1l.3 2.6l.2-1.6l.2 .7l.3-.7l.3 .3l.2 1.5l.2-.7l.3-1.2l.3 1l.2 0l.2-1.7l.3 .3l.3-.1l.2-1.6l.2 2.4l.3-1.4l.3-.4l.2-1.2l.2 .6l.3 3.4l.3-2.9l.2 2l.2-.7l.3 1.2l.3 .2l.2-1.5l.2 .6l.3 .5l.3 .1l.2-.1l.2-.2l.3 1.2l.3 .9l.2-.6l.2-1.3l.3 1.6l.3-.1l.2 .6l.2 1.7l.3-2.3l.3 .2l.2-1l.2 .6l.3-.3l.3 2.5l.2-1.4l.2-1l.3 3l.3-3.7l.2 2.6l.2 .2l.3-.4l.3-.9l.2 .1l.2-.2l.3 1.2l.3-3.6l.2 2.1l.2 .7l.3-.9l.3-1.5l.2 1.6l.2-.5l.3 1.8l.3 .6l.2-1.6l.2-2.3l.3 2l.3-.9l.2 1.9l.2 1.2l.3-1.5l.3 2.1l.2-.5l.2-.9l.3-1.7l.3 1.2l.2-1.7l.2 2.8l.3-1.1l.3 1.4l.2-1.2l.2-2.6l.3 2.9l.3 .3l.2 .8l.2-3.1l.3 0l.3 1.1l.2-1.2l.2-.3l.3 .4l.3 4.4l.2-3.6l.2-.4l.3 .7l.3 .5l.2 1.4l.2-.4l.3-.3l.3-.9l.2 .2l.2-.9l.3-1.7l.3 4.9l.2-2.8l.2 1.6l.3-1.7l.3 .1l.2-.3l.2-1.7l.3 1.3l.3 .4l.2 .4l.2-.4l.3 .7l.3-.8l.2-.3l.2-2.2l.3 1.7l.3 2.4l.2-1.6l.2 .8l.3-1.2l.3-.5l.2 3.1l.2-2l.3 1.2l.3-1.1l.2-1l.2-2.3l.3 2.7l.3-1.8l.2-.7l.2 4.1l.3-.5l.3 .1l.2-.5l.2 0l.3 .6l.3-.2l.2 0l.2 .7l.3-3.8l.3 3.8l.2-1.9l.2 1.6l.3 .4l.3-2.4l.2 1.9l.2 0l.3-1.7l.3 .2l.2 .8l.2-2.7l.3 2.1l.3 .7l.2-.7l.2-1.4l.3 1.4l.3 2.2l.2-.1l.2-1.7l.3-.8l.3 .9l.2 0l.2-.9l.3 .4l.3 1.1l.2 .4l.2-3.8l.3 4l.3-.9l.2 1.3l.2-1.4l.3 .5l.3 2.3l.2-6.3l.2 5.2l.3-1.6l.3-2.3l.2-.9l.2 3.4l.3-1.5l.3 2.4l.2-.9l.2-.4l.3 1.2l.3-.9l.2 .6l.2 .1l.3-.7l.3 .5l.2 0l.2-2.5l.3 1.2l.3 .2l.2-.3l.2-1.3l.3 1.2l.3 1.1l.2-.1l.2 1.6l.3-2.4l.3 .3l.2-.2l.2 .3l.3-.4l.3-1.5l.2 2.5l.2 .6l.3 0l.3-2.6l.2 .9l.2 2.3l.3-2.3l.3 .5l.2-.5l.2 1.3l.3-.1l.3 1.5l.2-2.2l.2-.1l.3-2.1l.3 .8l.2-.4l.2 .4l.3-1.1l.3 2.9l.2-2.4l.2 1.7l.3-1.6l.3 1.9l.2 1.6l.2-2.9l.3 1.3l.3-.5l.2 .3l.2 .2l.3-1.2l.3 .5l.2-.4l.2-.2l.3-.4l.3 2.5l.2-2l.2 1.5l.3-.2l.3-1.9l.2 2.3l.2-2.3l.3 1.7l.3 .9l.2-2.8l.2 .1l.3 .1l.3 3.7l.2-3l.2-1l.3 2.4l.3-1.2l.2 .1l.2-1.3l.3-1.6l.3 1.5l.2-.6l.2-.8l.3 .5l.3 .1l.2 2l.2 0l.3 0l.3-1l.2-.6l.2 2l.3 .4l.3 .7l.2-1.1l.2-.2l.3 .5l.3-1.5l.2 .1l.2 1.5l.3-2.3l.3 1.3l.2 .9l.2-.7l.3 .2l.3-1.8l.2 1.1l.2-.2l.3 1l.3-.3l.2-.5l.2 2.1l.3-1.7l.3-1l.2-.4l.2 .6l.3-.6l.3 2.6l.2-1.3l.2-1l.3-.4l.3-.5l.2 .9l.2 1.8l.3-.6l.3-1l.2 .2l.2-2.3l.3 3l.3-1.1l.2 1.8l.2-1.9l.3-.4l.3 .8l.2-1.1l.2 2.2l.3-1.2l.3 0l.2-.1l.2-.8l.3 1l.3-.4l.2 1.7l.2-1.9l.3 .3l.3-1l.2 0l.2 0l.3 1.8l.3-1.5l.2 1l.2-1.5l.3-.1l.3-1.9l.2 3.2l.2 1.3l.3-2.6l.3 1.9l.2-.7l.2-1.8l.3 1.6l.3-2l.2 .6l.2 1.7l.3-1.2l.3-1.5l.2 3l.2-2.8l.3 1.2l.3-.1l.2 .3l.2-.8l.3-.9l.3 3.9l.2-3.3l.2-.1l.3-1.8l.3 2.8l.2 1.3l.2 .9l.3 .6l.3-1.5l.2-1.4l.2-.6l.3 1.5l.3-1.7l.2 .2l.2-1.4l.3 1.2l.3 2.2l.2-2.3l.2 .5l.3-3.2l.3 4.2l.2-1.1l.2 1.1l.3-1.5l.3-1.4l.2-.7l.2 2.1l.3-.7l.3-1.2l.2 1l.2-.8l.3 1.5l.3-1.3l.2-1l.2 1.2l.3-.6l.3 2.2l.2-2.4l.2-1.2l.3 1.2l.3-.5l.2 .5l.2-.2l.3-1.5l.3 1.1l.2 0l.2-1.1l.3 .7l.3 .9l.2-2.1l.2 .5l.3 .6l.3 .3l.2 .6l.2-2.2l.3 1.8l.3 .4l.2 1.1l.2-2.3l.3-.6l.3-.9l.2 2.3l.2 .6l.3-2.6l.3 1.2l.2 0l.2-.3l.3-1.9l.3 1l.2-1l.2-1.3l.3 1.3l.3 0l.2-1.6l.2 1.6l.3 1.7l.3-4.3l.2 2.3l.2-.1l.3-1.3l.3 0l.2-1.1l.2 1.6l.3-3.1l.3 .6l.2-2.4l.2 2.3l.3-.2l.3-2.7l.2 .6l.2 1.3l.3-1.4l.3-1.2l.2-1.8l.2 3.1l.3 1.6l.3-3.1l.2 .7l.2-.3l.3-.9l.3-.1l.2-.2l.2-1.5l.3 3.7l.3 0l.2-3.2l.2 1.6l.3-3.4l.3 .5l.2 1.5l.2-3l.3-.3l.3 1.9l.2-3.3l.2 4.2l.3-1.7l.3-1l.2 .1l.2-2.3l.3-1l.3 2.4l.2-.1l.2-1.2l.3-.4l.3-.8l.2 2.1l.2-3.8l.3 .4l.3 .1l.2-1.5l.2-.1l.3 .2l.3 3l.2 .1l.2-2.1l.3-2.8l.3 1l.2 .3l.2-.7l.3-.2l.3 .8l.2-3.5l.2 1.5l.3 .6l.3 .2l.2-1l.2-1l.3-.8l.3-1.4l.2 .4l.2-1l.3-1.1l.3 2.2l.2-.3l.2-2.5l.3 1l.3 .5l.2-1.7l.2-.7l.3 0l.3-3.5l.2-.2l.2 2.2l.3-.9l.3 1.1l.2-3.1l.2 1.9l.3-.5l.3 .9l.2-4.4l.2 .1l.3 .4l.3-.6l.2-3.1l.2 .7l.3-1.7l.3 4.7l.2-4.1l.2-.5l.3-1.4l.3 .4l.2 .7l.2-2.1l.3 0l.3 3l.2-2.3l.2-1.4l.3-1.4l.3 .1l.2-1.7l.2 1l.3-2.3l.3-.8l.2-.3l.2-1.8l.3 1.3l.3 3.1l.2-5.8l.2-2.4l.3 3.7l.3-2.5l.2 2.8l.2-3.5l.3 .2l.3-3.6l.2-2.2l.2 1.7l.3 .7l.3-3.3l.2-2.1l.2 1.1l.3-.5l.3-.5l.2-.1l.2 3.8l.3-4.9l.3-1.5l.2-1.6l.2 2.9l.3-5l.3 5l.2-3.4l.2-3.6l.3 2.4l.3-1.4l.2 1.7l.2-6.2l.3 2.2l.3-1.4l.2 .8l.2-5.1l.3-.3l.3 4.6l.2-3.8l.2-5l.3 2.9l.3-3.1l.2-.7l.2-2l.3 3.6l.3-4.2l.2 .4l.2-1.3l.3-4.5l.3 .5l.2 2.2l.2-6.1l.3 2.9l.3-1.7l.2 .7l.2-.9l.3-.6l.3-2.7l.2-.5l.2-3.2l.3-.6l.3 2.3l.2-4.4l.2 2.7l.3-1l.3-5.2l.2 2.2l.2-4.2l.3 1.9l.3-3.6l.2 1.9l.2-1.3l.3-3.8l.3 6.7l.2-3.6l.2-7.4l.3 4l.3-2.9l.2 5.4l.2-6.4l.3 .3l.3-2.5l.2 1.1l.2-4l.3-2.1l.3-.2l.2-1l.2 1.5l.3-2.7l.3-2.7l.2-1.2l.2-2.6l.3 1.6l.3-7.3l.2 3.7l.2 2.6l.3-5.6l.3-2.1l.2 .5l.2-4.2l.3-1l.3 2.6l.2-5.3l.2 5.9l.3-5.6l.3-3.4l.2-3.1l.2-.5l.3-7.5l.3 5.8l.2 .3l.2-2.6l.3-4.7l.3 1.4l.2-1.6l.2-3.9l.3-.1l.3 .7l.2-3.1l.2-3.9l.3-.1l.3-.8l.2-6.7l.2 4.1l.3-2.1l.3-7.7l.2 .1l.2 9.7l.3-6.6l.3 2.6l.2-6.6l.2 4.9l.3-4.1l.3-5l.2 2.1l.2 3.3l.3 1.9l.3-6.7l.2-3.7l.2-1.9l.3 4.3l.3 .8l.2-3.7l.2-1.5l.3 2.3l.3-1.7l.2-.8l.2-6.7l.3 3.7l.3 7l.2-6.3l.2 7.9l.3-6.8l.3-2.2l.2 1.9l.2 1.3l.3-4.1l.3 3.5l.2-1.9l.2 6.7l.3-5.7l.3 2.6l.2-4.6l.2 1.3l.3 5.1l.3-1.9l.2 2.9l.2 2.6l.3 2.1l.3-5.6l.2 5l.2 3.8l.3-3.5l.3-1.1l.2 2.9l.2 8.6l.3-4.4l.3 6.1l.2-5.1l.2 6l.3-7.6l.3 5l.2 2.2l.2 6.4l.3-3.2l.3 3.1l.2-4l.2 1l.3 6.4l.3 1.6l.2 .3l.2 1l.3-4.5l.3 9.7l.2-5.5l.2 4.5l.3-.7l.3-7.2l.2 .3l.2 2l.3 5.9l.3 4.6l.2-3.3l.2 4.4l.3-5.6l.3 2.8l.2 0l.2 3.8l.3-2.9l.3 4.1l.2 2.9l.2-2.4l.3-.6l.3 2.2l.2-1.6l.2 1.2l.3 6.3l.3-.8l.2-7l.2 5.8l.3 3.3l.3 1.6l.2 .2l.2 1.6l.3-2.4l.3 .6l.2-.2l.2 4.4l.3-.3l.3 3.1l.2-1.5l.2-5.2l.3-1.4l.3 .9l.2 2.1l.2 5l.3-5l.3-1.1l.2 5.8l.2 3.3l.3 .3l.3 2.8l.2-4.4l.2-1.1l.3 .9l.3-2.6l.2 1.9l.2 5.3l.3 2.2l.3-2.3l.2-2.8l.2-1.6l.3 1l.3-5.8l.2 6.1l.2 .1l.3-2.7l.3 0l.2-4.8l.2 5.6l.3-.7l.3-9.8l.2 4.5l.2 1.4l.3 2.3l.3-7.2l.2 1.1l.2 2.6l.3-3.4l.3-2.7l.2-1.5l.2 .2l.3-2.8l.3 3.3l.2-5.3l.2 2.4l.3-.2l.3-.4l.2-3.6l.2-1.4l.3-.6l.3-1.8l.2 .8l.2-4.1l.3 2.9l.3 .3l.2-9.2l.2 .4l.3-5.4l.3 1.9l.2-2.9l.2-3.6l.3-3.9l.3 .2l.2 2.1l.2-2.7l.3-4.4l.3-4.1l.2-1.1l.2-4.1l.3-4.3l.3-2.7l.2-.6l.2-4.3l.3-3.9l.3-6l.2-3.7l.2 1.6l.3-5.9l.3-.7l.2-8l.2-2.7l.3-8.3l.3-6.5l.2-3.7l.2 1.2l.3-4.8l.3-5l.2-1.7l.2-5.6l.3 3.8l.3-2.9l.2-5.7l.2-.5l.3-8l.3 4.9l.2-2.8l.2-2.3l.3-.7l.3-2.8l.2-4.1l.2-1.5l.3-.7l.3 .9l.2-2.3l.2-1.5l.3 2.4l.3-.9l.2 8.5l.2-.3l.3 .5l.3 5.2l.2 5.3l.2 3l.3 7.1l.3-.8l.2 11l.2 3l.3 7.2l.3 7.1l.2 .5l.2 4.9l.3 6.4l.3 2.1l.2 2.3l.2 10.7l.3 8.5l.3 4.6l.2 8.9l.2 16.1l.3-1.8l.3 4.6l.2 5.2l.2 5.6l.3 3.4l.3 6.7l.2 4.3l.2 6.4l.3 4l.3 5.2l.2 4.8l.2 5.2l.3 6.9l.3 3.8l.2 4.7l.2 2.7l.3 2.5l.3 7.3l.2-.4l.2 4.2l.3-1.2l.3 5.9l.2 2.6l.2 1.2l.3 .2l.3 6.2l.2-.7l.2-.2l.3 3.7l.3 5.2l.2 1.3l.2 4.4l.3 1.7l.3 3.1l.2 0l.2 1.3l.3 1.5l.3 .2l.2 1.4l.2 1.5l.3 2.9l.3-.5l.2 2.5l.2 3.3l.3-4.8l.3 3.7l.2 .9l.2 2.5l.3-1.7l.3 2l.2 5.8l.2-5.8l.3 2.8l.3 1l.2-.3l.2-.9l.3 4.5l.3-4.3l.2 2.5l.2 2.1l.3 0l.3 3.9l.2-2l.2 4.5l.3-2.9l.3 3.3l.2-1.4l.2-.6l.3 .7l.3 3.2l.2-1.9l.2 1.9l.3-.5l.3-1.4l.2 5.4l.2 .8l.3-2.6l.3 3.5l.2-.9l.2-2.5l.3 2.1l.3 3.3l.2 1.1l.2-.7l.3 4.7l.3-4.1l.2-1.7l.2-2.6l.3 7l.3-3.4l.2 .3l.2-.6l.3 .2l.3 1.1l.2 1.8l.2 .4l.3-.2l.3 1.3l.2-2.5l.2-.9l.3 1.9l.3-3.6l.2 5.5l.2-.5l.3 .2l.3-2.8l.2 1.3l.2 1.2l.3-1.8l.3 0l.2 1.8l.2 .8l.3-1.5l.3 3.3l.2 2.4l.2-3l.3-1.4l.3-.2l.2 3.9l.2-2.3l.3 .8l.3-.5l.2-1.2l.2 4.2l.3-3.1l.3 .9l.2-4.3l.2 8.6l.3-2.7l.3-1.6l.2-1.3l.2 .5l.3-2l.3 4.6l.2-2.3l.2 2.8l.3 .4l.3 3.1l.2-3.2l.2 .3l.3 .5l.3-2.2l.2 .8l.2 1.1l.3 1.8l.3-.8l.2-1.9l.2 3.3l.3-3.1l.3-3.6l.2 8.1l.2-2.8l.3-.7l.3-1.3l.2 1.8l.2 4.6l.3-3.5l.3 4.8l.2-4.6l.2 2.3l.3-2.3l.3-1l.2 .2l.2 .4l.3-1.8l.3 .2l.2 3.6l.2 2.1l.3-2.2l.3-.1l.2-2.1l.2 4.4l.3-.2l.3-4.7l.2 2.7l.2-.7l.3-2.4l.3 6.9l.2-.6l.2-1.7l.3 2.7l.3-4l.2 2l.2 2.5l.3-3.3l.3 1.4l.2-2.6l.2 3.7l.3 1.2l.3-4.7l.2 .3l.2 1.4l.3 3.1l.3-4.5l.2-.9l.2 1.6l.3 2.9l.3-5.9l.2 3.3l.2 3.5l.3-2.8l.3-.5l.2 2.6l.2-4.7l.3 7.3l.3-3.7l.2-2l.2 1.1l.3-.2l.3-.4l.2-2l.2 2.5l.3-3.3l.3 7.2l.2-5.7l.2 .9l.3-.1l.3 3.5l.2-2l.2 4l.3-4.2l.3 1.6l.2-.3l.2-.5l.3 4.8l.3-1l.2 .1l.2-6.6l.3 3.9l.3-3.6l.2-.1l.2-1.6l.3 2.1l.3 3.9l.2 2.2l.2 1.1l.3-6.1l.3 .9l.2 2.2l.2-.1l.3 .1l.3-4.8l.2 3.8l.2 1.8l.3-.9l.3-1l.2-1.5l.2 1.4l.3 4l.3-2.9l.2 1.3l.2 3.4l.3-8.8l.3 4.3l.2-.4l.2 2.3l.3-3.7l.3 .2l.2-.9l.2 2.2l.3-1.1l.3 .4l.2 1.2l.2-1.8l.3-1.3l.3 1.3l.2-.3l.2 2.5l.3 2l.3-4l.2-5.4l.2 7.6l.3-1.6l.3-2.3l.2 1.7l.2 5.4l.3-8.6l.3 .7l.2 2.8l.2-8l.3 6.8l.3 3.6l.2-1.1l.2-.3l.3-1.7l.3 .7l.2 7.9l.2-6.2l.3 3.3l.3-6.5l.2 4.1l.2 .5l.3-.5l.3-6.1l.2 4.5l.2 4.8l.3-2.6l.3-3.7l.2 4.2l.2-7.4l.3 6.4l.3-.8l.2-2.7l.2-1.3l.3-1.9l.3 3.8l.2 5.3l.2-2.3l.3-1.2l.3 1.5l.2-4l.2 3.1l.3-9.1l.3 6.7l.2 .1l.2 1.3l.3-.2l.3 2.1l.2-3.3l.2 4.1l.3-3.4l.3 2.9l.2-2.3l.2 2l.3-1l.3-2.8l.2 2.4l.2-3.9l.3 3.9l.3 1.1l.2-1.7l.2 .4l.3 3.2l.3 .6l.2 .6l.2-5.6l.3 .5l.3 3.5l.2 .4l.2-7.6l.3 10.7l.3-2.3l.2-6.9l.2 6.9l.3-4.4l.3 .9l.2-2.4l.2 .5l.3 1.3l.3 1.3l.2-3.5l.2 2.9l.3-2l.3 .4l.2-1.1l.2 .6l.3 6.4l.3-9.4l.2 .9l.2 3.5l.3-1.3l.3-1.7l.2 4.2l.2-4.6l.3 3.3l.3 2.8l.2-1.2l.2-2.5l.3 .8l.3 .7l.2 1.1l.2-4.6l.3 6.5l.3-1.4l.2 3.3l.2-3l.3 .5l.3-11.8l.2 7.3l.2 6.8l.3-4.3l.3-2.4l.2 3.6l.2-1.5l.3 1.2l.3-3.1l.2 4l.2 3l.3-3.7l.3 .4l.2-3.5l.2 3.3l.3-2.8l.3-3l.2 2.8l.2 .5l.3 2.3l.3 1.1l.2-3.6l.2-.7l.3 2.8l.3-4.8l.2 1.6l.2 .2l.3 .2l.3-1.2l.2 6.7l.2-1.9l.3-3.4l.3-3.8l.2 2.7l.2 3.1l.3-7.8l.3 13.1l.2-7.8l.2 0l.3 2l.3-6.1l.2 4.6l.2-.1l.3 2.2l.3-5l.2 4.9l.2 1.5l.3-2.8l.3-2.7l.2-1.1l.2-2.9l.3 3.5l.3 3.1l.2 3l.2-1.2l.3 .6l.3-4.7l.2 .3l.2-3.2l.3 2.7l.3-1.4l.2 2.6l.2 2.7l.3-2.3l.3-.6l.2 3.1l.2 2.6l.3-1.1l.3-8l.2 10.4l.2-6.4l.3-2.8l.3 3.2l.2 4l.2-11l.3 11.6l.3-3.5l.2 .6l.2-6.1l.3 2.1l.3-2l.2 6.6l.2-5.9l.3 3.3l.3-3l.2-2.9l.2 7.7l.3 1l.3 1l.2-6.1l.2 1.8l.3 1.9l.3-1.1l.2-.4l.2 6.3l.3-8.3l.3 3.7l.2-4.4l.2 7.7l.3-7.2l.3-2.1l.2 5.2l.2-1.9l.3-1.2l.3 .6l.2-1.1l.2 3.3l.3-.7l.3 3.8l.2-7.2l.2 6.2l.3-2.7l.3-5.8l.2 8.7l.2-9.7l.3 6.8l.3-7.1l.2 6.3l.2-2.1l.3 .2l.3-5.1l.2 3.4l.2 5.7l.3-1.8l.3-2.1l.2-.2l.2-1.6l.3 6.2l.3-4.3l.2 3.6l.2-7.4l.3 .2l.3 8.9l.2-6.5l.2 2.1l.3 2l.3 1.2l.2-1.1l.2-.5l.3 2.9l.3-4.4l.2 1.7l.2-2.9l.3 .2l.3 5l.2-6.5l.2-7l.3 7.7l.3 .2l.2 4.8l.2-6.7l.3-2.5l.3 3.8l.2 5l.2-6.6l.3 4.7l.3-2.4l.2 .3l.2-4.6l.3 2.6l.3-2.9l.2 2.3l.2-2.2l.3 5.3l.3-5l.2 1l.2-6l.3 3.8l.3 10.3l.2-8.5l.2-3.6l.3 4.9l.3-.6l.2-.9l.2 .6l.3-.5l.3 4.1l.2-6.6l.2 4.1l.3 1.6l.3-5.5l.2 9.2l.2-7l.3-.8l.3-1.8l.2 3.7l.2-7.5l.3 6.3l.3 4.7l.2-5.6l.2 1.5l.3-5.1l.3 5.3l.2-4.5l.2 1.1l.3 1.5l.3 5.9l.2-7.4l.2-4.1l.3 6.2l.3 1.9l.2-.4l.2-1.4l.3 3.2l.3-1.6l.2-.4l.2-4.6l.3-2.7l.3 9l.2-7.7l.2 6.2l.3-.5l.3-7.2l.2 1.5l.2 3.2l.3 1.6l.3-5.8l.2 2l.2-2.3l.3-.5l.3 3.9l.2-1.7l.2-4.7l.3 7.3l.3-2.4l.2-.1l.2-2.9l.3 6l.3-1.4l.2-.3l.2-1.3l.3 1.1l.3 3.5l.2-4.4l.2 .1l.3-2.9l.3 3.8l.2-2.9l.2-1.7l.3 5.3l.3-4.1l.2-2.3l.2 .3l.3 .4l.3-1.9l.2 7.4l.2-2.8l.3-6l.3 7.4l.2-4.9l.2 1.7l.3-2l.3 2.4l.2-.1l.2 1.1l.3 .2l.3-10.3l.2 6l.2 1.1l.3-.8l.3-4l.2 3l.2 .4l.3-5.6l.3 3.6l.2 4.7l.2-4.4l.3 1.5l.3 .3l.2 1.1l.2 .3l.3 .5l.3-3.3l.2-.1l.2-1.2l.3 1.2l.3-1.2l.2 2.6l.2-.1l.3-6.2l.3-2.7l.2 8l.2-3l.3-3.3l.3 7.3l.2 1.4l.2-8.1l.3 .4l.3 .5l.2-.5l.2 1.8l.3-3.2l.3 3.1l.2-1.3l.2 4.1l.3-3.7l.3 2.8l.2 1.6l.2-3.1l.3 .2l.3-3.5l.2 1.4l.2 6.8l.3-2.6l.3-3.9l.2-1.1l.2 .9l.3 3.9l.3-9.3l.2 7l.2-4.7l.3 8.1l.3-8.8l.2 6.8l.2-3.9l.3 .5l.3 4.5l.2-5.4l.2 1.6l.3-1.3l.3-4.9l.2 3.1l.2 3l.3-2l.3-.4l.2-2.7l.2 6.9l.3-6.3l.3 6.9l.2-4.9l.2 1.3l.3-6.6l.3 4.4l.2-3.5l.2 2.9l.3 3.1l.3-2.8l.2-.4l.2 2l.3-6.6l.3 3.8l.2-2.3l.2 5l.3-5.7l.3 6.7l.2 1.1l.2-12.7l.3 5.7l.3-4.5l.2 8.3l.2-6.4l.3 4.5l.3-1l.2-3.8l.2-1.9l.3 7.8l.3-5.3l.2 2.5l.2 3.3l.3-4.4l.3-.9l.2-2.2l.2 4.5l.3-4l.3-2.6l.2 3.1l.2-.3l.3-3.2l.3 3.8l.2 2.8l.2-1.1l.3 4l.3-3l.2-2.9l.2-7.1l.3 6.6l.3 2.8l.2-4.6l.2 5.1l.3-7.1l.3 3.6l.2 1.8l.2 2.7l.3-5.3l.3 6.1l.2-7.1l.2-4.6l.3 4.8l.3 4.1l.2-5.5l.2 5.6l.3-6l.3 6.1l.2-12.7l.2 13.5l.3-13.2l.3 6l.2-3.4l.2 4.6l.3-1.7l.3-.3l.2 2.8l.2 .9l.3-4l.3 4.6l.2-9.3l.2 1.9l.3-1.1l.3 5.4l.2 1.2l.2-4.4l.3-.9l.3-2l.2 5.4l.2 1.2l.3-5.4l.3 1l.2-.7l.2 1.1l.3 1.4l.3-8.2l.2 5.1l.2 4.1l.3-5.3l.3 6.6l.2 .3l.2-7.3l.3 .4l.3 6.4l.2-9.2l.2 1.8l.3-1.8l.3 5l.2 1l.2 .3l.3-.7l.3-5.2l.2 7.8l.2-3.9l.3-1.1l.3 6.5l.2-5l.2 .7l.3 1.3l.3 3.4l.2-6.5l.2 1.7l.3-9.6l.3 3.9l.2 9.1l.2-.4l.3-6.7l.3-2.2l.2-1.5l.2 .6l.3 1.8l.3-3.7l.2 4.5l.2-.3l.3-3.8l.3-.6l.2 0l.2 1.8l.3 .7l.3 2.3l.2-7.1l.2 4.5l.3 1.4l.3 1.2l.2 1.8l.2-3.7l.3 5.1l.3 3.2l.2-5.8l.2 3.2l.3-2l.3-1.8l.2-2.1l.2 1.3l.3 5.5l.3-6.1l.2-2.6l.2 .9l.3 3.9l.3-4.4l.2 4.8l.2-.6l.3-1.6l.3 4.4l.2-9l.2 2.4l.3 1.2l.3 1.9l.2-5.3l.2 2.4l.3 5.6l.3-5.2l.2 3.9l.2-3.7l.3-1.7l.3 3.8l.2 2.5l.2-4.1l.3-3.8l.3 1.7l.2 1.1l.2 .6l.3-2.2l.3 4.9l.2-5.5l.2 6.2l.3-6.4l.3 .2l.2 6.4l.2-1.4l.3-3.3l.3-1l.2 .9l.2 .6l.3 .3l.3 2.1l.2-6l.2 2.4l.3 .2l.3-4.3l.2 7.9l.2 1.8l.3-4.9l.3-5.2l.2 3l.2 5.4l.3-9.1l.3 .1l.2 4.4l.2 2.8l.3 .9l.3 .3l.2-10.5l.2 5.2l.3-1.3l.3-.2l.2 5.3l.2-1.2l.3-3.6l.3 3l.2-.1l.2 3.1l.3-5.6l.3 4.4l.2-5l.2 3.4l.3-1.6l.3 .8l.2-.9l.2 4.4l.3-6.7l.3-.7l.2 1l.2 3.1l.3 .7l.3-2.2l.2-1.7l.2 1l.3-.7l.3 3.7l.2-1.4l.2 .7l.3-.5l.3-.1l.2 3l.2-5l.3 2.4l.3-.1l.2-3.6l.2 6.8l.3-4.1l.3-4.1l.2 6.1l.2-1.1l.3 .4l.3-2.7l.2-.5l.2 1.5l.3-4.4l.3 4.4l.2-.4l.2 2.3l.3-3.3l.3 2.2l.2-6l.2 1.8l.3 4.4l.3 1.9l.2-1.6l.2-6.9l.3 1.4l.3 1.2l.2 5.4l.2-5.4l.3 2.4l.3 .5l.2-.2l.2-1.9l.3 1.2l.3 1.5l.2-2l.2-.6l.3 2.5l.3 2.1l.2 2.8l.2-10.5l.3 4.1l.3-.5l.2-3.5l.2 2.4l.3-1.2l.3-1l.2 1.1l.2 3.6l.3-4.8l.3 1.6l.2 1.3l.2-2.3l.3-.5l.3-.8l.2 2.6l.2 6.4l.3-8.8l.3 7.5l.2-5l.2 0l.3 5l.3-.6l.2 .3l.2-1.8l.3 2.5l.3-4.4l.2 2.8l.2 1.8l.3-2.9l.3-2.2l.2 7.5l.2-5.1l.3-1.9l.3 5l.2 2.2l.2-1.7l.3-4.9l.3 3.8l.2 .9l.2 .9l.3-6l.3 .4l.2 4.4l.2-.4l.3 1.6l.3 2.4l.2-6.9l.2 1.2l.3 2l.3 6.5l.2-4.7l.2 3.7l.3-9.5l.3 7.8l.2 2.2l.2 1.7l.3-5.9l.3 8.3l.2-7.9l.2 7l.3 1l.3-5l.2-3.5l.2 10.5l.3-5.3l.3-4.5l.2 5.2l.2-4.2l.3 4.1l.3-3.3l.2-3l.2 9l.3-3.8l.3 1.7l.2 .7l.2-1l.3-1.6l.3 3.1l.2 .8l.2-.9l.3-1.3l.3 1.6l.2 4.8l.2-.5l.3-3.9l.3 2.9l.2 .1l.2 .1l.3-1.6l.3 1.2l.2-2.5l.2 2.9l.3-.5l.3 .4l.2 .1l.2-.2l.3-3.6l.3-.8l.2 4.3l.2-1.2l.3 3.8l.3-3.7l.2 .8l.2-2.4l.3 3.8l.3-.7l.2 4.6l.2-3.1l.3 4l.3-6.3l.2-2.4l.2 7.9l.3-1.7l.3 3.1l.2-6.6l.2-3.1l.3 9.6l.3-3.7l.2-2.5l.2 8.2l.3-6l.3-2.3l.2 3.8l.2-2.3l.3-.6l.3 3.9l.2-.7l.2-.4l.3 .5l.3-3.4l.2 6.2l.2 3.8l.3-4.6l.3 3.1l.2 2.1l.2-6.4l.3-1.5l.3-.9l.2 1.3l.2 3.6l.3-2.7l.3 3.9l.2-5.3l.2 6.7l.3-5.7l.3 .7l.2 .4l.2-1l.3 .3l.3 2l.2-2l.2 1.8l.3-3.4l.3 .2l.2-1.6l.2 6.5l.3-5.2l.3 5l.2-.8l.2 .3l.3-.8l.3 2.6l.2 0l.2 3.6l.3-5.2l.3-.4l.2-2.4l.2 9.7l.3-8.6l.3 4.2l.2-.4l.2-6l.3 1.5l.3 3.8l.2-2.1l.2-3.7l.3 4.3l.3 4.3l.2-3.3l.2 .6l.3 2.1l.3 2.5l.2-6.4l.2-2.2l.3 1.4l.3-1.5l.2-2.6l.2 3.5l.3-2.2l.3 6.8l.2-3.6l.2-7l.3 4.9l.3 4.3l.2-2.7l.2-.6l.3 .8l.3-.9l.2 4.2l.2-3.1l.3-1.3l.3 5.3l.2-5.8l.2 4.3l.3-3.5l.3 1.9l.2-.1l.2-1.8l.3 1.6l.3 6.2l.2-7.5l.2 9.4l.3-3l.3 2.6l.2-5.5l.2 5.2l.3-2l.3 5.8l.2-6.9l.2 5.2l.3-5.3l.3 6l.2-5.3l.2-2.2l.3-.6l.3 2.5l.2 6.6l.2-8.1l.3 2.1l.3 2.4l.2 .9l.2 1l.3 4.3l.3-5.2l.2-3.5l.2 6.5l.3-3.4l.3 .6l.2 1.3l.2 4.7l.3-.7l.3-2.9l.2-.6l.2 3l.3-3.1l.3-2.6l.2 3.6l.2 5.1l.3-4.7l.3 .6l.2 5.9l.2 .2l.3 .3l.3-6.5l.2 4.2l.2 3l.3-.4l.3-3.7l.2 1l.2-1.1l.3 1l.3 3l.2 .2l.2-3.6l.3 4.6l.3-1.3l.2 3.4l.2-5.2l.3 2.5l.3-7l.2 9.3l.2-.1l.3 1.3l.3-2.1l.2 .3l.2 0l.3 4.1l.3-6.4l.2 2.8l.2 2.2l.3-2.7l.3-1.6l.2 2l.2 2l.3 3.8l.3-6.1l.2-4.9l.2 9.4l.3-3.1l.3 1.7l.2-2.1l.2 .3l.3-5.5l.3 7.5l.2-4.7l.2 5.4l.3-7.3l.3 9.3l.2-3.7l.2-6.1l.3 7.2l.3 0l.2 0l.2-3.6l.3 9.9l.3-8.1l.2 4.5l.2-10.3l.3 9.3l.3-.3l.2-1.4l.2 3.8l.3-5.3l.3 3.1l.2-1.6l.2 1l.3-3.8l.3 4.8l.2-.3l.2-.8l.3 .1l.3-2.1l.2-.7l.2 1.1l.3 1.7l.3-4.6l.2 3.3l.2 5l.3-2.2l.3-4.6l.2 6.7l.2-8.3l.3 4.7l.3 4.1l.2-1.2l.2-.9l.3-4.2l.3-1.9l.2 6.2l.2-.9l.3 4.1l.3-6.8l.2-1.5l.2 1.6l.3-3.7l.3 4.4l.2 1l.2-.3l.3 5.9l.3 .3l.2-6.4l.2-.5l.3 5.6l.3-.4l.2-6.5l.2 1.7l.3 .1l.3-1.3l.2 2.2l.2-2l.3 5.9l.3-.8l.2-6.6l.2 3.1l.3 .1l.3 5.8l.2-6l.2 4.4l.3 2.2l.3-7.2l.2 4.3l.2-1.1l.3 2.5l.3-6.5l.2 3.1l.2-3.6l.3 7.1l.3-8l.2 6l.2-5l.3 2.3l.3-.4l.2 2.7l.2 1.4l.3 1.8l.3 .7l.2-3.9l.2-3.4l.3 6.9l.3-7.3l.2 3.7l.2-2.1l.3 .3l.3 2.6l.2-3.8l.2 3.2l.3 0l.3 3.4l.2 .1l.2-1.2l.3-2.4l.3 4.8l.2-2.4l.2-6.7l.3 4.7l.3 .4l.2-3.8l.2 3.2l.3-1.6l.3-1.7l.2 3l.2-1.8l.3-1.6l.3 4l.2-5.3l.2 9.1l.3-4.3l.3 1.4l.2 2.6l.2-.1l.3-3.8l.3 1.8l.2 1.8l.2 1.3l.3-6.6l.3 3.2l.2-4.1l.2 .5l.3 2.4l.3-.4l.2-2.5l.2 .6l.3 2.5l.3-3.9l.2 4.8l.2-3.9l.3 7.9l.3-3.6l.2 1.7l.2-3.2l.3 4.4l.3-1.9l.2 .6l.2-1.9l.3 1.4l.3-2.2l.2 2.2l.2-2.6l.3 .1l.3 1.5l.2-.1l.2-.5l.3-2.3l.3 1.4l.2 3.5l.2-2.4l.3 .7l.3-2.4l.2 5.9l.2-4.6l.3 2.5l.3-1.7l.2 3.6l.2-8.4l.3-1.7l.3 4.8l.2-6.7l.2 4.9l.3 .1l.3 1.3l.2 2.9l.2-5.9l.3 5.8l.3 2.4l.2 1.3l.2-7.9l.3 2.4l.3 6.9l.2-8.8l.2 6.3l.3-2.4l.3 .4l.2-6.9l.2 .5l.3 1.5l.3 4.5l.2 .5l.2-4.7l.3 3.4l.3-.3l.2-3.1l.2-.2l.3-2.4l.3 2.4l.2 1l.2 6l.3-1.2l.3-3.2l.2 1.6l.2-3.5l.3-8.1l.3 11.5l.2 1.1l.2-3.8l.3 6.1l.3-.3l.2-.7l.2-8.1l.3 5.7l.3 1.6l.2-4.6l.2 .9l.3 4.1l.3 3.6l.2-3.7l.2-1.7l.3-2.3l.3-1.7l.2 .6l.2 3.5l.3-2.8l.3 5.3l.2-8.2l.2 .4l.3 3.3l.3 .8l.2-.2l.2-3.4l.3 1.2l.3 5.3l.2-3.8l.2-.1l.3 3.4l.3-.5l.2-1.2l.2 5l.3-9.1l.3 5.1l.2-3l.2 4.7l.3-5.9l.3 4.8l.2-3.1l.2 8.8l.3-6.7l.3 6l.2-8.4l.2 .4l.3 2.9l.3-6.2l.2 2.3l.2 7.2l.3-1.3l.3-4l.2 4l.2-2l.3 .1l.3-4.2l.2 5.8l.2-4.5l.3 6.2l.3-9.1l.2 12l.2-9.6l.3-2.2l.3 .4l.2 4.3l.2-.5l.3-3l.3 4.3l.2 3.5l.2-5.4l.3 2.1l.3 .4l.2-.2l.2-7.7l.3 9.6l.3-4.8l.2 .4l.2 3.1l.3-11.5l.3 10.3l.2-1.4l.2 4.2l.3-3.7l.3 3.2l.2-.6l.2-6.5l.3 3.6l.3-1.7l.2 2.2l.2-2.3l.3-1.9l.3 4.1l.2-.9l.2 2.1l.3 3.2l.3-6.4l.2 .2l.2 4.2l.3-.8l.3-7.6l.2 4.7l.2-4.3l.3 2l.3 1.1l.2 1.1l.2-.5l.3 1.5l.3 .2l.2 3.6l.2-2.4l.3-5.6l.3 7.3l.2-3l.2-4.3l.3 .7l.3 3.3l.2 .2l.2 .8l.3-5.6l.3 3.5l.2 7.1l.2-11.5l.3 1l.3 4l.2 .7l.2-2.7l.3 2.1l.3-.9l.2-2.3l.2 2.3l.3-.9l.3 1.9l.2 1l.2-4.6l.3 2.5l.3-2.6l.2 2.2l.2 1.6l.3 1.9l.3-4.4l.2 4.2l.2-2.2l.3-.6l.3-.1l.2-1.3l.2 2.6l.3-4.9l.3 4.9l.2-3l.2 5.9l.3-5.9l.3 2.4l.2 1.1l.2 .1l.3 2.3l.3 .2l.2-5.2l.2-1l.3 5.6l.3-2.8l.2-1.5l.2 .5l.3 2.6l.3-.2l.2-8.7l.2 3.9l.3 .7l.3-1.4l.2 6.4l.2 .4l.3-4l.3 4.6l.2-5.1l.2 5l.3-1.8l.3-1.7l.2 .9l.2-3l.3 4.8l.3-4.4l.2 2.9l.2-4.1l.3 .1l.3 2.6l.2 0l.2 3.3l.3-4.4l.3 1.5l.2 0l.2 4.6l.3-5.5l.3-3.9l.2-1.1l.2 2.9l.3 1.2l.3-3.8l.2-.1l.2 .5l.3 2.8l.3 1.9l.2-3.8l.2-.3l.3 6.3l.3 1.5l.2-3.5l.2-3.3l.3 0l.3 3.7l.2-7.2l.2 .3l.3 7.4l.3-6.9l.2 2l.2 8.4l.3-7.4l.3 5.5l.2-4.7l.2-2.2l.3 4.5l.3-1.5l.2 2.8l.2-6.8l.3 5.9l.3-.8l.2 1.7l.2-1.6l.3-3.7l.3 6.6l.2-1.4l.2-.2l.3-1.2l.3-1l.2-3l.2-3.7l.3 .5l.3 4.1l.2-6.1l.2 4.8l.3 4.5l.3-5l.2 8.5l.2-10.4l.3 7.1l.3-7.6l.2 6.8l.2 4l.3-5.8l.3-2.7l.2 .3l.2 5.2l.3 .7l.3-1.4l.2-2.6l.2-1.8l.3 .9l.3-.5l.2-1.5l.2 8l.3 .8l.3 .2l.2 1.4l.2-7l.3-3.6l.3 6l.2-1.7l.2-2.7l.3 4.3l.3-2.8l.2 3.1l.2-.9l.3-3.7l.3 2.5l.2-1.5l.2 2.6l.3-1.2l.3-2.7l.2 4.1l.2-2l.3 .2l.3 .7l.2 6.1l.2-5.5l.3-1.9l.3-1.3l.2-3.1l.2 4.9l.3 .2l.3-1.6l.2 4l.2-.7l.3 1.1l.3-2.4l.2 5.4l.2-2.5l.3-3.5l.3 1.9l.2 2.9l.2-4.9l.3 5.5l.3-5.2l.2-4.4l.2 7.2l.3-3.8l.3 1.4l.2-.7l.2 3.5l.3-3.2l.3 2.5l.2-5.1l.2 2.7l.3-2l.3 1.6l.2 6.3l.2-8.7l.3 3.3l.3-2.2l.2 2.6l.2-4.2l.3 .9l.3-3.4l.2 8.7l.2-3.3l.3 .7l.3-4.5l.2 8.3l.2-1l.3-4.2l.3 1.9l.2-1.6l.1 3.5"/></g>
<g stroke="#00ff00"><path class="cv" d="M72.8,367.9l.2-2.9l.3 2.4l.3-.6l.2 .8l.2-.5l.3 .9l.3-1l.2-.3l.2 .6l.3-.1l.3-.5l.2 0l.2 .5l.3 0l.3-.7l.2 .1l.2-.8l.3 2.1l.3-1.1l.2 1l.2-.6l.3 .8l.3-.4l.2-.9l.2 .5l.3-1.6l.3 1.2l.2-1.8l.2 1l.3 .4l.3-.5l.2-.3l.2-.2l.3 .3l.3 .9l.2 0l.2-.6l.3-.6l.3 1.1l.2-1.3l.2 .5l.3-.2l.3 .8l.2-.3l.2 .1l.3-.1l.3-.6l.2 .8l.2 .5l.3-.9l.3 .3l.2-.5l.2 .6l.3-.2l.3 .1l.2-.4l.2 .8l.3-1.3l.3 0l.2-.1l.2 .7l.3-.8l.3 0l.2 .8l.2 .2l.3-.3l.3-1.9l.2 1l.2 0l.3 0l.3 .5l.2 1.3l.2-1.2l.3-.3l.3 .9l.2-.4l.2 0l.3-.4l.3 .4l.2 .3l.2-1.4l.3 .2l.3 1.6l.2-.1l.2-.8l.3-.2l.3 .5l.2-.6l.2 .6l.3 1.3l.3-.8l.2 .7l.2-.8l.3 .4l.3 .6l.2-1.7l.2 .5l.3 0l.3 .2l.2 .7l.2-.5l.3-1.2l.3 .8l.2-.3l.2 .1l.3 1.9l.3-1.8l.2 .9l.2-.6l.3 1l.3-.3l.2-.2l.2-.1l.3 .8l.3-1.2l.2 .2l.2-.3l.3 1.5l.3-1l.2-.5l.2 .3l.3 1.7l.3-1.7l.2 .6l.2-.2l.3-.2l.3-.3l.2 .3l.2 0l.3-1l.3 2.9l.2-1.1l.2-.6l.3-.3l.3-.4l.2 1l.2-.7l.3 .4l.3-1.1l.2 1.1l.2 1l.3-1.3l.3 .8l.2-.4l.2 .7l.3 0l.3-.6l.2-.3l.2 .5l.3-.2l.3-.4l.2 .6l.2-.1l.3-.9l.3 .5l.2 1.8l.2-1.3l.3-.4l.3 1.5l.2-1.8l.2-1.2l.3 .4l.3 .2l.2 1.1l.2 .5l.3-1.8l.3 2l.2-1.3l.2 1l.3 .2l.3 .1l.2-.3l.2 .2l.3-.8l.3 .8l.2 .4l.2-.1l.3 1l.3-1l.2-.1l.2 .6l.3-.8l.3-.9l.2-1.2l.2 2.8l.3-.3l.3 .1l.2-.7l.2 .5l.3 .9l.3-.9l.2-.8l.2 .4l.3 1.1l.3-1.4l.2-1l.2 .2l.3 .5l.3 1.2l.2-.4l.2-.6l.3-.3l.3 .7l.2 .1l.2-.1l.3 .4l.3-.2l.2 1.7l.2-2.4l.3 1.6l.3-.6l.2 1.1l.2-.6l.3 .3l.3 0l.2-.2l.2 .4l.3-2l.3 1.7l.2-.8l.2 .2l.3 .6l.3-.4l.2 .5l.2-2.6l.3 .8l.3 1.3l.2-1.2l.2 .7l.3 1.2l.3-.4l.2-1.1l.2 .8l.3 .1l.3-.4l.2-.2l.2 .2l.3-1.1l.3 1.1l.2-.7l.2 .9l.3 .1l.3-.7l.2 .9l.2-.1l.3-.2l.3 .4l.2-.6l.2-.1l.3 .2l.3-.2l.2 .7l.2-2.2l.3 1.2l.3-1l.2 .9l.2 .5l.3 0l.3 .7l.2-.3l.2-1.8l.3 1.1l.3 1.6l.2 0l.2-.9l.3-1.1l.3 2.2l.2-2.7l.2 1.4l.3-.3l.3 .2l.2-.8l.2 .5l.3 .9l.3-1l.2-.5l.2 .8l.3 0l.3-.1l.2-.4l.2 .8l.3-.5l.3-.6l.2 .8l.2-.1l.3 0l.3-1.1l.2 .5l.2 .7l.3 .3l.3-.4l.2-.1l.2 .3l.3 .2l.3 .5l.2-.8l.2-.5l.3 .7l.3-1.4l.2 1.2l.2-.2l.3 .3l.3 .4l.2-.2l.2-.9l.3 .7l.3-.2l.2 .6l.2 .2l.3-1.1l.3 1.2l.2 .2l.2-1.1l.3 .4l.3-1.4l.2 .5l.2 .9l.3-1.6l.3 .9l.2-.1l.2 1.4l.3 .2l.3-.9l.2 .6l.2-1.5l.3 2.1l.3-.2l.2 .6l.2-2.2l.3 1.7l.3-.4l.2-1.4l.2 1.2l.3 .3l.3 .5l.2-.4l.2-.4l.3 .6l.3-.3l.2-.3l.2-.2l.3 .7l.3 0l.2 1l.2-1.3l.3 1.2l.3-.8l.2 .5l.2-1.2l.3 0l.3 .4l.2 .8l.2-.5l.3 .4l.3-.2l.2 .4l.2-.5l.3-.5l.3 .6l.2-.2l.2 1.5l.3-1.6l.3 .1l.2-.2l.2 .9l.3-.2l.3-.1l.2-1.2l.2-.1l.3 1.1l.3 .3l.2 .4l.2-1.9l.3 1l.3-.9l.2 .5l.2 .3l.3 .8l.3-1l.2-.1l.2 .2l.3 1.3l.3 .4l.2-2.4l.2 .9l.3-.1l.3 1.1l.2-.4l.2 .7l.3-1.5l.3 .6l.2-.3l.2-.4l.3 .5l.3-.7l.2 1.9l.2-1.2l.3-1l.3 .1l.2 1.2l.2-1.4l.3 .6l.3-.1l.2 .3l.2-.2l.3-.5l.3-.3l.2-.7l.2 .9l.3 .1l.3-.4l.2 0l.2-.7l.3 1.9l.3-1.7l.2-.4l.2 .2l.3 .1l.3 .5l.2-2l.2 1.7l.3-.6l.3 .2l.2 .9l.2-.1l.3-.8l.3 .4l.2 1.2l.2-.3l.3-.3l.3-.5l.2 .6l.2-.4l.3-.5l.3-.3l.2 1l.2-.1l.3 .6l.3-1l.2 1.2l.2-1l.3 .9l.3-.3l.2-.9l.2-.3l.3 .4l.3-.1l.2 .7l.2-1l.3-.5l.3 .9l.2 1.2l.2-.2l.3-1.4l.3 .2l.2 .3l.2-.6l.3 .3l.3 0l.2-.5l.2 .3l.3 .1l.3 .5l.2-.8l.2 .7l.3-.6l.3 0l.2-.2l.2 3.1l.3-1.6l.3 .1l.2-.3l.2-.6l.3 .3l.3 .1l.2 .2l.2 0l.3 .5l.3-2.8l.2 1.4l.2 .6l.3-.7l.3 .1l.2 1l.2-.8l.3 1l.3-1.1l.2 .2l.2-.8l.3-.6l.3 .9l.2 .3l.2-.2l.3-.6l.3 1.2l.2-.3l.2 0l.3-.5l.3 1.4l.2-.2l.2-.8l.3-.4l.3 .2l.2 .7l.2 .6l.3-1.8l.3-.4l.2-1l.2 2.7l.3-2.5l.3 1l.2-.4l.2 .4l.3-1.5l.3-.5l.2 .9l.2 .1l.3 .4l.3-1.7l.2 .6l.2 .1l.3-.8l.3 .6l.2 .5l.2-.6l.3-1l.3 1l.2 .3l.2-.1l.3 0l.3-1.4l.2 1.3l.2 .2l.3-.5l.3 .2l.2-.3l.2 1.2l.3-.9l.3-.5l.2 .6l.2-.1l.3 .2l.3-1l.2 0l.2 .6l.3 1.1l.3-1l.2-1l.2 .9l.3-.5l.3-.6l.2 .7l.2 .1l.3 .5l.3 .5l.2-.1l.2-.2l.3-.7l.3 .4l.2-.1l.2 .9l.3-1.2l.3 .1l.2 1.2l.2-.5l.3-.7l.3 .4l.2-.1l.2 0l.3 .3l.3-.3l.2-.5l.2-.3l.3-.9l.3 .7l.2 .8l.2-.8l.3-.7l.3 .1l.2-.5l.2 .5l.3 .8l.3-.3l.2-.6l.2-.4l.3-.8l.3-.8l.2 .5l.2-.5l.3 .5l.3-.6l.2-.6l.2 .5l.3 1.4l.3-2.4l.2 1.2l.2-.3l.3-.5l.3-.5l.2 .3l.2-.1l.3 0l.3-.3l.2-.5l.2-.9l.3 .3l.3-.6l.2-.5l.2 1l.3-1.1l.3-.5l.2 .6l.2-1.4l.3 .9l.3 .3l.2-.9l.2 .2l.3 1.1l.3-.6l.2-.5l.2-.4l.3-.9l.3 0l.2-.4l.2-.1l.3-.3l.3-.8l.2 1.3l.2-1.9l.3 .7l.3 .2l.2-.8l.2-.6l.3 .2l.3 1l.2-1l.2-.8l.3 .4l.3-.5l.2-1.2l.2 1.3l.3 .4l.3 0l.2-.9l.2-1.1l.3 1.3l.3-1.2l.2 .1l.2-.1l.3-.9l.3-.6l.2-.7l.2-.1l.3 .1l.3-.6l.2 .4l.2-1.7l.3 .4l.3 .3l.2-.7l.2-.2l.3-.7l.3 .9l.2 .3l.2-2l.3 1.2l.3-2l.2 .8l.2-1.7l.3 1.3l.3-.7l.2-.3l.2 .4l.3-.8l.3-.8l.2-.8l.2 .2l.3-.8l.3-.1l.2 1l.2-.7l.3-.7l.3-.1l.2-1.7l.2 .8l.3-1.6l.3 .4l.2 .4l.2-.3l.3-.1l.3-.7l.2-.5l.2-.4l.3 .6l.3-.4l.2-2.2l.2 .8l.3 .5l.3-1.4l.2 0l.2-.9l.3-.8l.3 .6l.2-.8l.2-.2l.3-1.4l.3-.3l.2 .2l.2-.8l.3 .2l.3-2.1l.2 1.2l.2-.6l.3-.9l.3-.1l.2-1.1l.2-.6l.3-.5l.3-1.7l.2 .3l.2-.1l.3-2.5l.3 1.2l.2-1.6l.2-.3l.3-.2l.3-.5l.2 .8l.2-2.3l.3 .8l.3-2.1l.2-.3l.2-.6l.3-1.7l.3-1l.2 .4l.2 0l.3-.5l.3-1.6l.2 1.1l.2-2.2l.3-1.2l.3 .7l.2-.7l.2-2.6l.3 .7l.3-2.4l.2 .4l.2 1.3l.3-1.5l.3-1.2l.2-.8l.2-2l.3 .3l.3-.7l.2-2.2l.2 .2l.3-.5l.3-1.2l.2-.7l.2-1.5l.3-1.8l.3 .1l.2-2.7l.2 .2l.3 .9l.3-.1l.2-2.1l.2-3.4l.3 2.8l.3-1.6l.2-1.5l.2 .1l.3-1.1l.3-2.6l.2-1l.2 1.4l.3-4.2l.3 2l.2-1.2l.2-.2l.3-.2l.3-1.4l.2-.7l.2-1.8l.3-1.3l.3-.4l.2-2.1l.2-2l.3-.2l.3-3.4l.2 .8l.2 1.8l.3-2.8l.3-1.8l.2-1.6l.2-2.4l.3 .3l.3-1.4l.2-.3l.2-1.1l.3-1.3l.3-3.3l.2 2.7l.2-2.3l.3-1.6l.3-1.5l.2-.2l.2-.1l.3-1.8l.3-3.1l.2-1.2l.2-2.4l.3 1.9l.3-.3l.2-.5l.2-2.3l.3-.2l.3-3.1l.2 .9l.2-1.8l.3-1.6l.3-2.2l.2 2.6l.2-5.2l.3 2.6l.3-2.8l.2 .7l.2-2.5l.3 .7l.3-2.3l.2-2l.2-.3l.3-2.4l.3 1.4l.2 0l.2-1.9l.3-1.5l.3 .4l.2-4.3l.2 1.2l.3-1.8l.3-1.7l.2 .4l.2-3.3l.3 .4l.3-.4l.2-3.1l.2 .2l.3 0l.3-.5l.2-3.8l.2 1.4l.3-2.8l.3-.6l.2-2.1l.2 .8l.3-3.2l.3 .3l.2-1l.2-.6l.3-3.7l.3 1.4l.2-2.3l.2 .7l.3-3.9l.3-1.7l.2-.6l.2-1.7l.3-1.1l.3-2.8l.2-2.3l.2-.3l.3 .3l.3 .5l.2-2.2l.2-2l.3 .3l.3-.4l.2 3.6l.2-2.5l.3-1.8l.3-2.6l.2 1.7l.2-.3l.3 1.2l.3 2.3l.2-3.2l.2-2.8l.3 2.8l.3-2.2l.2 4l.2 .6l.3-.9l.3-2.2l.2 2.6l.2 2.8l.3-2.6l.3 1.2l.2 1.9l.2 .9l.3 0l.3 .9l.2 .5l.2-.5l.3 1.4l.3 1.3l.2-1.2l.2 2.7l.3 .7l.3 1.4l.2 .7l.2-1.2l.3 .6l.3 3.2l.2 .3l.2 1.4l.3-.5l.3 .3l.2 3.3l.2 .4l.3 2.1l.3 1.8l.2 1.1l.2 1l.3-1.7l.3-.6l.2 3.3l.2 .2l.3 .9l.3 3.9l.2-2.3l.2 4.6l.3 2l.3 2.4l.2-1.4l.2 2.4l.3-3.1l.3 .9l.2 3.2l.2-2.4l.3 4.4l.3-1.1l.2-1.6l.2 6.2l.3-3.4l.3 5.8l.2-4.9l.2 1.6l.3 2.2l.3 .5l.2-1.4l.2 3l.3 .8l.3 1l.2-2.2l.2 2l.3 1.3l.3 1.8l.2-.3l.2-.1l.3 .5l.3 3.1l.2-2.4l.2 2l.3-2.8l.3 5.6l.2-1.2l.2-2.5l.3 3.5l.3 1.5l.2-.3l.2-.6l.3 1.4l.3-1.7l.2 .9l.2 .1l.3 .8l.3-1.1l.2 3.2l.2-1.7l.3-1l.3 1.2l.2 .9l.2-.4l.3 1.3l.3-1.8l.2-.7l.2 1.3l.3 .7l.3-3l.2-1l.2 .8l.3 .3l.3-1.4l.2 1l.2-1.6l.3 1.6l.3-2.8l.2-.1l.2 .6l.3 .1l.3-.4l.2-2.8l.2-.3l.3-.6l.3-.4l.2-3.9l.2-1.9l.3 .4l.3-2.2l.2 .3l.2-2.8l.3-1l.3-2.5l.2-.4l.2-.6l.3-3.3l.3-2.8l.2 .2l.2-3.2l.3-1.9l.3-3.1l.2-.8l.2-4.1l.3-2.3l.3-2l.2-2.7l.2-4.3l.3 .5l.3-3.6l.2-.8l.2-3.1l.3-2.6l.3-4.5l.2-5.4l.2-4.5l.3-5.9l.3-5l.2-5.6l.2-5.3l.3-2l.3-2.4l.2-4.7l.2-4.1l.3-4.1l.3-2.5l.2-5l.2-1.5l.3-4.5l.3-3.3l.2-2.2l.2-4.1l.3-3.2l.3-1.6l.2-1.1l.2-4.7l.3-2.1l.3-8.4l.2-4.2l.2-2.2l.3 .2l.3-3.9l.2 1l.2-1.2l.3 .8l.3-1l.2 .3l.2-1l.3 0l.3 1.2l.2 3.1l.2 1.6l.3 2.3l.3 2.2l.2 4.7l.2 .3l.3 3.6l.3 5.3l.2 5.8l.2 5.7l.3 5.1l.3 6l.2 5.7l.2 5.6l.3 5.7l.3 7.9l.2 6.7l.2 11.5l.3 10.9l.3 6.7l.2 6.5l.2 5l.3 5.8l.3 4.5l.2 4.1l.2 5.5l.3 5.8l.3 3.8l.2 4.8l.2 4.5l.3 4.3l.3 5l.2 4.1l.2 3.6l.3 4.9l.3 2.3l.2 3.6l.2 3.7l.3 3.5l.3 1.2l.2 4.9l.2 4.1l.3 1.4l.3 4.9l.2 3.2l.2 3.6l.3 4.8l.3 3l.2 1.1l.2 3.7l.3 3.3l.3 .9l.2 1.7l.2 2.2l.3 1.9l.3 2.9l.2 .6l.2 1.6l.3 3.2l.3 2.2l.2 1.3l.2 1.6l.3 0l.3 .4l.2 1.8l.2 1.6l.3-.4l.3 2.2l.2 1.7l.2-.1l.3 3.2l.3-.2l.2-1.3l.2 1.4l.3 1.2l.3 2.1l.2 .6l.2-.1l.3 1.5l.3 1.3l.2 .5l.2-1.1l.3 1.1l.3 .9l.2 0l.2 2.9l.3-.6l.3 .7l.2 .6l.2 1.6l.3 1l.3 .7l.2 1.1l.2-1.3l.3 2.8l.3 1.4l.2-2.1l.2 .8l.3 1.4l.3 1.1l.2-.8l.2 0l.3 2.9l.3-1.9l.2-1.8l.2 3.2l.3 .6l.3 .9l.2 .3l.2 1.5l.3-3l.3-.1l.2-.2l.2 3.1l.3-1.8l.3-.9l.2-.2l.2 2.1l.3-.3l.3 .9l.2-.9l.2 .4l.3 1.3l.3-.3l.2 .9l.2-.5l.3 0l.3 .7l.2-.6l.2 .6l.3 .4l.3-.8l.2 .6l.2 .3l.3 .7l.3-.2l.2 .2l.2 .4l.3-.6l.3 .8l.2-.8l.2-.9l.3 2.4l.3-2.1l.2 2l.2 1.8l.3-.6l.3-1.4l.2 1.9l.2-.3l.3-.8l.3 1l.2-.2l.2 .4l.3 .9l.3-1.6l.2 2.6l.2 1.3l.3-1.9l.3-.7l.2 .8l.2 1.9l.3-1.4l.3 1.3l.2 2.1l.2-2.7l.3 1.1l.3-.5l.2 .3l.2 .6l.3-.9l.3 1.3l.2-.2l.2 1.1l.3-.3l.3-.1l.2 1.4l.2-1.5l.3 1.1l.3-1.1l.2 2.3l.2-2.1l.3 1.8l.3-1.7l.2 .9l.2-1.3l.3 .3l.3-.2l.2 1.4l.2 .2l.3 .8l.3-.6l.2-.5l.2 1.2l.3 1.1l.3-1.9l.2-.3l.2 1.5l.3 1.7l.3-2.1l.2-.2l.2-.6l.3 .5l.3-.1l.2 .1l.2 2.2l.3 .3l.3-1.3l.2 .1l.2 .7l.3-.8l.3 .1l.2 .5l.2-.6l.3 1.5l.3 2.2l.2-3.5l.2 .3l.3-1.3l.3 .3l.2 .6l.2 .3l.3-.6l.3-1.1l.2 1.8l.2-1l.3 1.2l.3-.6l.2 .3l.2 .2l.3-2.1l.3 3.9l.2-2.8l.2 2l.3 .3l.3-1.1l.2-.9l.2 2.3l.3-1.7l.3 1.1l.2 .8l.2-.9l.3-1.2l.3 1.3l.2 1.5l.2-1.5l.3 2l.3-2.9l.2 .6l.2-1l.3 .7l.3 2.8l.2-1.2l.2-1l.3-.5l.3 2l.2-1.5l.2-1.1l.3 2.9l.3-3.3l.2 1.7l.2 .6l.3 .5l.3 1.2l.2-1.2l.2-2.1l.3 3.4l.3-1.6l.2-1.8l.2 .3l.3 .4l.3-1.6l.2 3.2l.2 .2l.3-.1l.3-1.5l.2 .9l.2 1.5l.3-1.1l.3-.6l.2-.8l.2 .8l.3 1.6l.3-1.5l.2 2.9l.2 .2l.3-2l.3-2.7l.2 1.7l.2 1.9l.3-2.3l.3-.2l.2 .8l.2 3.3l.3-3.9l.3-1.8l.2 2.8l.2 .2l.3 .6l.3-.8l.2 .4l.2-1l.3 1.8l.3-1.3l.2 .6l.2-1.6l.3 2.6l.3-1.6l.2-1l.2 .5l.3-1.5l.3 .6l.2 1.8l.2-.2l.3 .3l.3-.1l.2-1.3l.2 .6l.3 3.6l.3-3.8l.2-1.8l.2 2l.3-.4l.3 .4l.2 .2l.2-1.3l.3 1.9l.3-.9l.2 .9l.2-1.8l.3-.5l.3 .7l.2 2.7l.2-4.5l.3 3.9l.3-1.5l.2 1.6l.2-2l.3 1.1l.3-.1l.2 2.4l.2-3l.3 .5l.3-1.3l.2 1.4l.2-1.4l.3 .9l.3 .6l.2 .2l.2-2.1l.3 0l.3 2.8l.2-2.4l.2 1l.3-.6l.3-1.7l.2 2.1l.2 .1l.3 2.8l.3-4.8l.2 2.1l.2 1.8l.3-1.4l.3-2.1l.2 3.9l.2-.6l.3-1.5l.3-.4l.2 .2l.2 1.1l.3-.7l.3-.8l.2 1.4l.2 .9l.3-2.3l.3 3.1l.2-2.2l.2 .9l.3-.3l.3 .2l.2-.3l.2-3.5l.3 2l.3 2.7l.2-2.6l.2 1.7l.3-2.3l.3 1.3l.2 2.9l.2-2l.3-1.7l.3 .1l.2-1.7l.2 3l.3-1.1l.3 1.5l.2 .1l.2-1.5l.3-.8l.3-.3l.2 1.1l.2 .5l.3 1.9l.3-3.5l.2 2l.2-2.3l.3 .6l.3 1.9l.2-.3l.2-1.4l.3 0l.3 2.6l.2-1.7l.2 0l.3-1l.3 5.2l.2-.9l.2-1.8l.3 2.5l.3-2.5l.2-1.3l.2 1.2l.3 1.1l.3-3.9l.2 3.2l.2-.3l.3 .2l.3-1.6l.2 .7l.2-4.2l.3 2.4l.3 1.6l.2-.6l.2-.3l.3-2l.3 1.7l.2-2.2l.2 2.3l.3 .9l.3-1.3l.2 1.4l.2-.7l.3 1.2l.3-1.8l.2-1.8l.2 .6l.3 .8l.3 1.2l.2 .3l.2-1.2l.3 1.2l.3-1.3l.2 1.8l.2-3.1l.3 3.4l.3-1.4l.2-1.1l.2-1l.3 2.4l.3-1.6l.2 1.8l.2 1.8l.3-2.3l.3 .1l.2 .5l.2-1.6l.3 3.6l.3-3.1l.2 1.3l.2-.5l.3-1.4l.3 2.7l.2-1.6l.2-1.7l.3-.1l.3-1.9l.2 1.2l.2 2.8l.3 0l.3-2.5l.2 2.2l.2 .5l.3-.3l.3 .6l.2-4.6l.2 3l.3-1.8l.3 2.4l.2-2.1l.2 1.1l.3 1.1l.3-3.6l.2 1.3l.2-.1l.3 .9l.3-2.3l.2 3.4l.2 1.6l.3-3.2l.3 1.2l.2-4.6l.2 2.2l.3 2.8l.3-.5l.2 .6l.2 1l.3-1.7l.3-.6l.2-.4l.2 .6l.3-3.4l.3 5l.2-5.4l.2 .8l.3 2.3l.3 1.1l.2-.6l.2 1.3l.3-2.9l.3-.4l.2 1.6l.2-2.5l.3 1.7l.3 .3l.2-.4l.2-3.5l.3 2.5l.3-2.6l.2 4.2l.2-1.8l.3 2.1l.3 1.5l.2-4.9l.2 3.2l.3-.9l.3 1.4l.2-4.2l.2-.1l.3 .7l.3-1.5l.2 3l.2-1.2l.3 1.4l.3 .2l.2 .7l.2-3.3l.3 2.8l.3-.2l.2-2.7l.2 .4l.3-1.4l.3 3.8l.2 .1l.2-3.3l.3 1l.3 .7l.2 .4l.2-1.2l.3 2.5l.3-3.8l.2 2.6l.2-1.2l.3 .3l.3-1.8l.2-1.5l.2 1.6l.3 1.4l.3-2l.2-1.3l.2 2.2l.3 .3l.3-1.3l.2 1.4l.2 .9l.3-.2l.3 1.1l.2 .3l.2-1.8l.3-1.3l.3-1.5l.2 3.7l.2-1.3l.3 .7l.3-2.9l.2 1.3l.2-1.5l.3-.1l.3-.7l.2 1.9l.2 1l.3 .5l.3-.8l.2-.9l.2 3.2l.3-.8l.3-1l.2-1.4l.2 1.4l.3-3.2l.3-1.1l.2 2.4l.2-1l.3 1l.3-3l.2 1.4l.2-2.1l.3 1l.3 1.2l.2-.7l.2-1.2l.3-.6l.3 1.6l.2-.7l.2-.8l.3 2.2l.3-1.5l.2 3l.2 1.1l.3-1.5l.3 2.3l.2-5.9l.2-.8l.3 2.2l.3-2.5l.2 2.6l.2 .9l.3-.3l.3 .1l.2-2.1l.2 .3l.3 .3l.3-.4l.2 1.4l.2-2l.3 .5l.3-1l.2 2.3l.2-1.4l.3-.1l.3-1l.2-2l.2 1.8l.3-2.6l.3 2.8l.2-2l.2 3.3l.3-3.1l.3 .6l.2-.9l.2-1.1l.3-.7l.3-1.4l.2 2.7l.2-2l.3 4.5l.3-3.6l.2 .8l.2 .5l.3-.4l.3 1.7l.2-2l.2-.7l.3 .5l.3 2.4l.2-1.2l.2-4l.3 2.3l.3-1l.2 1.1l.2 .7l.3-1.1l.3 .6l.2 1.3l.2-5.2l.3 2.3l.3 0l.2 .5l.2-.7l.3 1.1l.3-1.4l.2 .5l.2-3l.3 2.4l.3-2.2l.2 2.4l.2 1.5l.3-2.9l.3 .4l.2 .1l.2 .6l.3-1.1l.3 .4l.2-2.8l.2 .4l.3-2.1l.3 5.2l.2-5l.2 3l.3-1.1l.3-.1l.2-2l.2 1.5l.3 .1l.3 .2l.2-1.4l.2 .5l.3-2l.3 2.8l.2-2.9l.2 5.8l.3-5.9l.3-1.3l.2 1.4l.2-.7l.3 1.6l.3 .1l.2-2.7l.2 0l.3-.1l.3 1.9l.2 .9l.2-.3l.3-1l.3 .2l.2 .8l.2 .6l.3-2.1l.3 1.4l.2-2.5l.2 .5l.3 1.1l.3-3.1l.2-1.5l.2 .7l.3 1.2l.3-1.5l.2 1.1l.2 1.9l.3-2.8l.3 2.1l.2-.9l.2-3l.3 2.8l.3-.3l.2 .2l.2-1.2l.3 .1l.3-1.3l.2-.6l.2 1l.3 .8l.3-2.1l.2 2.9l.2-3.3l.3 .9l.3-2.6l.2 4.1l.2-1.2l.3 .8l.3-3.6l.2 3.8l.2-1.5l.3-1.7l.3 0l.2-1.8l.2 1.6l.3 1.1l.3-2.9l.2 1.4l.2-2.7l.3-2.4l.3 3.3l.2 2.2l.2-.5l.3-2.8l.3 2.7l.2-.4l.2-1l.3-1.1l.3 1.9l.2-1.6l.2-.4l.3 2l.3-2.6l.2 1.9l.2 1l.3-3.4l.3 1l.2 .3l.2-3.6l.3 1.6l.3-.3l.2-.1l.2-.5l.3 3.1l.3-3.3l.2 1l.2 .9l.3 1.2l.3-4.8l.2 .1l.2 .1l.3 .8l.3 1.5l.2-1.8l.2 .2l.3 1.8l.3-2.8l.2 .6l.2 2.5l.3-1.8l.3-2.1l.2-.3l.2 2.4l.3-3.5l.3 .2l.2 2.3l.2 .6l.3 .3l.3-3.9l.2 1.9l.2-5.7l.3 3.4l.3 5.2l.2-2.1l.2-1.4l.3-2.5l.3-.6l.2 3.3l.2-1.8l.3-1.1l.3 2.2l.2-.1l.2-2l.3 .3l.3 3.9l.2-4.7l.2 2.9l.3-2.5l.3-.3l.2-.3l.2 1.2l.3-.1l.3 1l.2-2.4l.2 1.5l.3-1.5l.3-.4l.2 1.9l.2-.4l.3-3l.3 2.4l.2-3l.2 1.1l.3 3.8l.3-.4l.2-2.2l.2 1.1l.3 .9l.3 .6l.2-.1l.2-3.6l.3 1.1l.3 .2l.2-3.6l.2 2.5l.3 2.1l.3-1.2l.2-.6l.2-.9l.3 .7l.3 .7l.2-.6l.2 2l.3-.6l.3-3.1l.2 3.1l.2-1.4l.3 .9l.3-2.1l.2 2.1l.2-2.5l.3 2.4l.3-1.7l.2-.5l.2-1.6l.3-.6l.3 3.5l.2-3l.2-.2l.3 2.2l.3-.6l.2 .8l.2-2.6l.3-1.1l.3 1.8l.2 2.9l.2-1.5l.3 .7l.3 0l.2-.7l.2-.2l.3-.8l.3 .4l.2 0l.2-1.6l.3 1.8l.3-.9l.2-.2l.2-.1l.3 1.5l.3-1.4l.2 1.9l.2-3.1l.3 2.3l.3-3l.2 2.3l.2-.8l.3 0l.3-.9l.2 1.4l.2 .8l.3-3.6l.3 2.3l.2 .3l.2 .4l.3-.6l.3-2.3l.2 2.8l.2-2.9l.3 1.8l.3-.5l.2-1.2l.2-.6l.3 1l.3 2.3l.2-1.2l.2-1.8l.3 1.9l.3 1.4l.2 .7l.2-5.6l.3 3.5l.3 .1l.2-2.4l.2-1.5l.3 4.4l.3-2.6l.2-1.8l.2 .6l.3 2.4l.3 2l.2-2l.2-2.6l.3 3.1l.3-4.6l.2 4.2l.2-.1l.3 1.2l.3-1.2l.2 .1l.2-1.7l.3-.8l.3 .3l.2 2.6l.2-3.7l.3 .7l.3-.6l.2 1.5l.2-.4l.3 2.2l.3 0l.2-1.6l.2-.5l.3-1.6l.3-2.1l.2 2.4l.2-.4l.3-1.7l.3 1.9l.2 1.1l.2-2.8l.3 2.5l.3-.7l.2-1.4l.2 .9l.3 .9l.3-1.4l.2 .1l.2 1.8l.3-1.3l.3-.2l.2-1.6l.2 1.6l.3 1l.3-3.7l.2-1l.2 1.3l.3 1.1l.3-1.1l.2-.9l.2 5.1l.3-2.9l.3-.5l.2-3l.2 5.5l.3-3.7l.3 4l.2-1.2l.2-.6l.3-.7l.3 1.7l.2-2.2l.2 1.4l.3-1.2l.3 .3l.2 2.8l.2-.6l.3-3l.3 .1l.2 1.3l.2-.3l.3 .8l.3-1.3l.2-1l.2 2.7l.3-1.6l.3 1.4l.2-2.2l.2 3.7l.3-1.7l.3 .1l.2 .2l.2-2.8l.3 3.8l.3-2.4l.2-.9l.2 2.2l.3 2.1l.3-3.3l.2 3.6l.2-5.1l.3 4.1l.3-.9l.2 1.5l.2 3.1l.3-1.9l.3-3l.2 4.6l.2-3.5l.3 .9l.3-.1l.2 1.8l.2 .1l.3 2.9l.3-1.5l.2 .9l.2-.9l.3 2.3l.3-2.8l.2-.3l.2 3.8l.3 0l.3-.7l.2 3.4l.2-4.3l.3 3.7l.3 .4l.2-3.8l.2 3l.3 .6l.3-1.1l.2 .3l.2 .3l.3-1l.3-.5l.2 3.4l.2-.6l.3 0l.3 1l.2-1.8l.2 .5l.3 2.4l.3-1l.2 .9l.2 1l.3 1.2l.3-3.8l.2 .7l.2-1.1l.3 1.3l.3 1.9l.2-1.3l.2 4.3l.3-3.6l.3-1.7l.2 1.6l.2 4.6l.3-4.2l.3 1.4l.2-1l.2-.3l.3 3.4l.3-3.5l.2-.8l.2 1.7l.3 .3l.3 1.8l.2-.2l.2 1.9l.3-1.9l.3 1.2l.2 .3l.2 1l.3-3.2l.3 1.5l.2-3.4l.2 3l.3-.4l.3 .8l.2 3.9l.2-.5l.3-3.4l.3 5.2l.2-.5l.2-1.5l.3-.3l.3 .1l.2 .2l.2 1l.3-1.3l.3 1.9l.2-1.9l.2-.4l.3 1l.3 .8l.2 .3l.2-.5l.3-2.2l.3 .2l.2-.5l.2 2.1l.3 1.4l.3-.9l.2 0l.2-.4l.3 .4l.3-.3l.2 2.7l.2-3.3l.3 .5l.3 2l.2-1.3l.2 1.5l.3-1.7l.3 1.3l.2-.3l.2-2.2l.3 2.8l.3 1.1l.2-2.8l.2 .9l.3 1.3l.3 1.4l.2-1.5l.2 3l.3-3.8l.3 3.4l.2-3.8l.2 1l.3-1.4l.3 3.5l.2-1.4l.2-3.5l.3-1.4l.3 6.8l.2-3.6l.2-2.1l.3 1.1l.3 .6l.2 3l.2-1.6l.3-.6l.3-1.4l.2 2.4l.2-3.5l.3 4.3l.3 .4l.2-2.8l.2-1.6l.3 1.3l.3 .7l.2 3.2l.2-.3l.3-3.7l.3 .4l.2-.7l.2 2.6l.3-1.2l.3 1.8l.2-.9l.2-.9l.3-.6l.3-.8l.2 3.2l.2-2.6l.3 3l.3-3.4l.2-1.2l.2 3.7l.3-.9l.3 2.2l.2-1.3l.2 0l.3 1.5l.3-2l.2 2l.2 4.6l.3-4.9l.3-1.5l.2 1.4l.2-1l.3 .9l.3 3.2l.2-3.5l.2 .1l.3 3l.3-.8l.2 .8l.2-.2l.3 1.7l.3 2.2l.2-.9l.2-1.3l.3 .3l.3-.7l.2 .2l.2 2.9l.3-.4l.3 .1l.2 .3l.2-1.3l.3 1.1l.3 1.1l.2 1.9l.2-1.7l.3 .1l.3-1l.2 3l.2-1.5l.3 1l.3 .5l.2-1.4l.2 1.8l.3 1.4l.3-2.7l.2 .7l.2-.2l.3 1.5l.3 3l.2-2.3l.2 1.5l.3-1.2l.3-.7l.2 .9l.2 .6l.3-.3l.3 .6l.2 .6l.2-.7l.3 3.4l.3-1.3l.2-.5l.2-.4l.3 1.6l.3-1.5l.2-.4l.2 1.5l.3 2.6l.3-1.8l.2 .9l.2-1.3l.3 2.5l.3-1.3l.2 .3l.2-.1l.3 1.1l.3-1.1l.2 1.1l.2 .4l.3-.9l.3-1.2l.2 3.6l.2-2.2l.3-.9l.3 3l.2 .1l.2 1.8l.3 .4l.3-4.9l.2 2.4l.2 1.4l.3-2.1l.3 3.7l.2-.9l.2-1.3l.3 .3l.3 1.3l.2 2.6l.2-.3l.3-4.9l.3 2.9l.2-3l.2 1.9l.3-1.1l.3 1.1l.2 0l.2 1.4l.3-1.3l.3 2.3l.2-1l.2-1l.3 3.6l.3-1.6l.2-.6l.2 .5l.3 1.1l.3-1.1l.2-.5l.2 .9l.3-.5l.3 .2l.2 3.2l.2-1.1l.3 .8l.3-2.5l.2-1.8l.2 2l.3 1.4l.3-1.5l.2 1.1l.2-1.6l.3 2.2l.3-1.2l.2 .7l.2 1.1l.3-1.9l.3-.3l.2 .4l.2 2.1l.3-1.3l.3 2l.2-.8l.2 .9l.3-1.4l.3 1.4l.2-.7l.2-4l.3 4.7l.3-.8l.2-1.9l.2-1.2l.3-1l.3 2.9l.2-1.3l.2-.3l.3 .5l.3-.8l.2 4l.2-2.4l.3 1.5l.3 .5l.2 .4l.2-.7l.3 1.4l.3-2.2l.2 3.8l.2-5.5l.3 3.1l.3 1.9l.2-4.6l.2 3.4l.3 .9l.3-3.6l.2 2.9l.2-2.9l.3 1.3l.3-.7l.2-.9l.2 0l.3 .9l.3-1.2l.2 2.6l.2 .1l.3 1.6l.3-.8l.2-.7l.2-.1l.3 4.1l.3-5.7l.2 .3l.2 5.2l.3-1.8l.3-1.4l.2 .4l.2 .6l.3-3.6l.3 1.6l.2 1.5l.2 0l.3 .6l.3-1.3l.2-.9l.2-.4l.3 1.7l.3-1l.2 .6l.2 1.4l.3-.2l.3-3.4l.2 3.7l.2-2.9l.3-.7l.3 5.6l.2-2.4l.2-1.2l.3 .4l.3 2l.2 1.6l.2-1l.3-2.3l.3-1.4l.2 1.4l.2 1.6l.3-.8l.3-2.6l.2 2.1l.2 .8l.3-2.1l.3 2.7l.2 .9l.2-.8l.3-2.6l.3 .9l.2 .3l.2-.4l.3 1.8l.3-1l.2 0l.2 .6l.3-1l.3-1.3l.2 2.2l.2-.7l.3 1.4l.3-.8l.2-.8l.2 1.9l.3-1.6l.3-1.8l.2 4.1l.2-.5l.3-1.7l.3-2.2l.2 .8l.2 2.8l.3-1.5l.3-.5l.2 1.1l.2-1.4l.3 .1l.3 2.5l.2-.9l.2 .3l.3-.2l.3 .6l.2-.3l.2-2.3l.3 .9l.3 2.7l.2-1.9l.2 2.4l.3-2.8l.3-1.4l.2 2.3l.2-.8l.3-.3l.3-.1l.2-1.9l.2 3.6l.3-1l.3-1.1l.2-1l.2 3.2l.3-.9l.3 .9l.2-.5l.2 .5l.3-1.3l.3-2.2l.2 2.2l.2 .9l.3-3.4l.3 1.4l.2 2.8l.2-3.8l.3 3.8l.3-3.2l.2-.9l.2 1.8l.3 0l.3 2.3l.2-4.3l.2 1.8l.3 0l.3-.2l.2 1.7l.2-1l.3 .7l.3-.5l.2 1.9l.2-2.5l.3 1.1l.3 1.3l.2-.4l.2-.6l.3 1.3l.3-.5l.2 0l.2-.5l.3 1.2l.3 .1l.2-2.9l.2 1.9l.3-.2l.3 .3l.2-2l.2-.7l.3 1.5l.3 1.8l.2-3l.2 2.8l.3-1.4l.3 .2l.2 0l.2-.8l.3 .2l.3 1.3l.2 1.3l.2-1.7l.3 .4l.3-1.7l.2 1.1l.2 1.7l.3 0l.3-2l.2 .3l.2-.5l.3-.7l.3 1.9l.2-1.4l.2 2.8l.3-5.3l.3 .5l.2 .8l.2 1.9l.3-.2l.3-.8l.2-3.2l.2 4.9l.3-2.5l.3 4.5l.2-1.7l.2-1.2l.3 .7l.3 2.6l.2-2.9l.2-1.2l.3-2.2l.3 3.2l.2-1l.2 2.5l.3-1.6l.3 1.2l.2-2.2l.2-.6l.3 2.6l.3-1.5l.2-.7l.2 1l.3 1.6l.3-2.3l.2 3.6l.2-2.1l.3-3.4l.3 .9l.2 1.4l.2-.5l.3-.1l.3 .3l.2 .7l.2-.7l.3-.3l.3-1.8l.2 5.2l.2-2.1l.3 .9l.3-.4l.2 1.9l.2-1.6l.3 1.9l.3-2.6l.2 .5l.2 1.1l.3-.1l.3 .7l.2-2.7l.2 1.4l.3-1.5l.3-1.2l.2 3.5l.2-1.4l.3-1.3l.3 .3l.2 1.8l.2-.9l.3-.3l.3 1l.2-1.1l.2-2.6l.3 3.8l.3-1.9l.2 .2l.2-2.9l.3-1.2l.3 4.8l.2-.7l.2 .7l.3 .5l.3 .9l.2 .7l.2-.1l.3-3.2l.3 .3l.2 1.2l.2 1.8l.3-.4l.3-2.3l.2-.9l.2 2.2l.3-.6l.3 1.3l.2 .2l.2-.7l.3-1.7l.3-.5l.2 1.3l.2 1.1l.3-.8l.3 1.2l.2-1.6l.2 2.2l.3-1.2l.3-1l.2-.8l.2 .6l.3 .1l.3 2l.2-2.3l.2 .8l.3-3.9l.3 4.5l.2-1.4l.2-1.1l.3-1.9l.3 2.1l.2 3.5l.2-1.2l.3-.1l.3-1.9l.2 1.5l.2 0l.3-.4l.3-1.7l.2 .6l.2 .6l.3 4.9l.3-7l.2 5.2l.2-.4l.3-1.5l.3 .6l.2-.7l.2 .3l.3-1.7l.3-1.9l.2 6.8l.2-1.2l.3-4.5l.3 3.7l.2-2.2l.2 1.3l.3-2.2l.3 0l.2 4.2l.2-3.4l.3 .5l.3 1.1l.2 1.1l.2-2.9l.3 1.4l.3 .1l.2-2l.2-.1l.3 1.6l.3-1l.2 2.4l.2-4.8l.3 3.4l.3-.9l.2-1.6l.2 2l.3-1.9l.3 1.7l.2 2l.2-2.6l.3 1.8l.3-.4l.2-1.2l.2 .3l.3 .8l.3 .3l.2-1.1l.2 .6l.3 1.5l.3-2.5l.2-.2l.2 2.1l.3 .1l.3-4.1l.2 3.3l.2 1.6l.3-.9l.3-1.9l.2 1l.2-3l.3 3.3l.3-.4l.2 .9l.2-1.3l.3 1.3l.3-1.4l.2 2.3l.2-.8l.3-3.1l.3 .3l.2 3.3l.2 .7l.3 .5l.3-2.6l.2 1l.2-.9l.3-.6l.3 .4l.2 1.9l.2-2.5l.3 3.1l.3-4.4l.2 1.4l.2 1.3l.3 .1l.3-.5l.2-2.6l.2 2.1l.3 2.3l.3-1.2l.2-.3l.2-.3l.3-.9l.3 .1l.2-.8l.2 2.8l.3-1.2l.3 0l.2-.2l.2-.4l.3-1.5l.3 2.2l.2-.9l.2 .2l.3 1.1l.3 1.5l.2-3.5l.2 1.3l.3 2.1l.3-4.2l.2 2.3l.2-1.5l.3 1.7l.3 1.2l.2-2.4l.2 1.6l.3-1l.3 2.3l.2-7.6l.2 3.6l.3 1.2l.3 .3l.2 2.4l.2-.7l.3-2.1l.3-1.5l.2 3.9l.2-1.2l.3-.8l.3 1.6l.2 1.2l.2-2.2l.3 1.5l.3-4.7l.2 3.8l.2 2.3l.3-1.5l.3-2.4l.2-.6l.2 2.7l.3-2l.3 .5l.2-1.8l.2 1.1l.3 2.2l.3-2l.2-.2l.2-.7l.3 1.7l.3 .7l.2-.4l.2-4.3l.3 4.1l.3-1.5l.2 1l.1-1.6"/><path class="fz" d="M72.8,368.3l.2-4l.3 3.3l.3-.8l.2 1.1l.2-.7l.3 1.2l.3-1.4l.2-.4l.2 .8l.3-.1l.3-.7l.2 0l.2 .8l.3-.1l.3-.9l.2 .1l.2-1.1l.3 2.9l.3-1.5l.2 1.3l.2-.8l.3 1.1l.3-.5l.2-1.1l.2 .7l.3-2.1l.3 1.6l.2-2.3l.2 1.4l.3 .5l.3-.7l.2-.4l.2-.3l.3 .4l.3 1.3l.2-.1l.2-.9l.3-.8l.3 1.5l.2-1.7l.2 .6l.3-.2l.3 1.2l.2-.5l.2 .2l.3-.1l.3-.8l.2 1l.2 .7l.3-1.2l.3 .5l.2-.7l.2 .9l.3-.4l.3 .1l.2-.4l.2 1l.3-1.6l.3 0l.2-.3l.2 1l.3-1l.3-.1l.2 1.1l.2 .4l.3-.5l.3-2.6l.2 1.4l.2 0l.3-.1l.3 .7l.2 1.8l.2-1.7l.3-.3l.3 1.1l.2-.5l.2 .1l.3-.7l.3 .6l.2 .4l.2-1.9l.3 .3l.3 2.2l.2-.2l.2-1.1l.3-.4l.3 .8l.2-.8l.2 .7l.3 1.7l.3-1.1l.2 .9l.2-1.1l.3 .5l.3 .9l.2-2.3l.2 .7l.3 .1l.3 .3l.2 1l.2-.7l.3-1.8l.3 1.1l.2-.4l.2 .1l.3 2.5l.3-2.4l.2 1.1l.2-.7l.3 1.3l.3-.5l.2-.1l.2-.2l.3 1l.3-1.6l.2 .2l.2-.3l.3 2l.3-1.4l.2-.6l.2 .4l.3 2.3l.3-2.2l.2 .8l.2-.3l.3-.3l.3-.5l.2 .4l.2 .1l.3-1.5l.3 3.9l.2-1.4l.2-.7l.3-.4l.3-.6l.2 1.4l.2-1l.3 .6l.3-1.5l.2 1.5l.2 1.3l.3-1.7l.3 .9l.2-.5l.2 .9l.3 0l.3-.8l.2-.4l.2 .6l.3-.2l.3-.6l.2 .8l.2 0l.3-1.2l.3 .7l.2 2.4l.2-1.7l.3-.6l.3 2l.2-2.4l.2-1.6l.3 .5l.3 .3l.2 1.5l.2 .6l.3-2.5l.3 2.8l.2-1.8l.2 1.3l.3 .2l.3 .1l.2-.4l.2 .2l.3-1.1l.3 1.1l.2 .6l.2-.1l.3 1.3l.3-1.2l.2-.3l.2 .8l.3-1.1l.3-1.2l.2-1.6l.2 3.8l.3-.5l.3 .2l.2-.9l.2 .5l.3 1.3l.3-1.2l.2-1.2l.2 .6l.3 1.5l.3-2l.2-1.2l.2 .2l.3 .7l.3 1.7l.2-.6l.2-.8l.3-.4l.3 1l.2 .1l.2-.2l.3 .4l.3-.3l.2 2.3l.2-3.3l.3 2.2l.3-.9l.2 1.4l.2-.8l.3 .5l.3 .1l.2-.4l.2 .6l.3-2.6l.3 2.3l.2-1.1l.2 .4l.3 .8l.3-.4l.2 .6l.2-3.5l.3 1.1l.3 1.7l.2-1.6l.2 .8l.3 1.7l.3-.6l.2-1.5l.2 1.1l.3 .1l.3-.5l.2-.2l.2 .2l.3-1.4l.3 1.4l.2-.9l.2 1.2l.3 .1l.3-1l.2 1.3l.2-.2l.3-.3l.3 .6l.2-.9l.2 0l.3 .2l.3-.2l.2 .9l.2-2.9l.3 1.7l.3-1.4l.2 1.2l.2 .7l.3-.1l.3 .9l.2-.4l.2-2.4l.3 1.3l.3 2.3l.2-.1l.2-1.2l.3-1.4l.3 2.9l.2-3.5l.2 1.9l.3-.4l.3 .2l.2-1.1l.2 .7l.3 1.2l.3-1.3l.2-.7l.2 1.1l.3 0l.3-.2l.2-.5l.2 1l.3-.5l.3-.9l.2 1.2l.2-.3l.3 .2l.3-1.6l.2 .7l.2 1l.3 .4l.3-.5l.2-.2l.2 .5l.3 .2l.3 .6l.2-1l.2-.8l.3 1l.3-1.9l.2 1.6l.2-.3l.3 .4l.3 .5l.2-.3l.2-1.2l.3 1l.3-.3l.2 .6l.2 .4l.3-1.6l.3 1.7l.2 .4l.2-1.5l.3 .7l.3-1.9l.2 .7l.2 1.2l.3-2.2l.3 1.2l.2-.2l.2 1.9l.3 .2l.3-1.3l.2 .7l.2-2.1l.3 2.9l.3-.3l.2 .8l.2-3l.3 2.3l.3-.6l.2-1.8l.2 1.5l.3 .5l.3 .7l.2-.5l.2-.6l.3 .8l.3-.5l.2-.4l.2-.3l.3 1l.3 0l.2 1.4l.2-1.8l.3 1.6l.3-1l.2 .7l.2-1.7l.3 0l.3 .5l.2 1l.2-.5l.3 .5l.3-.4l.2 .6l.2-.7l.3-.6l.3 .8l.2-.3l.2 2.1l.3-2.3l.3 .3l.2-.4l.2 1.2l.3-.2l.3-.2l.2-1.5l.2-.3l.3 1.5l.3 .4l.2 .6l.2-2.6l.3 1.4l.3-1.2l.2 .6l.2 .5l.3 1l.3-1.3l.2-.2l.2 .3l.3 1.8l.3 .5l.2-3.2l.2 1.1l.3-.1l.3 1.4l.2-.5l.2 .9l.3-2l.3 .8l.2-.4l.2-.6l.3 .7l.3-.9l.2 2.6l.2-1.5l.3-1.3l.3 .1l.2 1.8l.2-1.9l.3 .9l.3-.2l.2 .5l.2-.4l.3-.7l.3-.3l.2-1l.2 1.3l.3 .1l.3-.5l.2 .1l.2-1l.3 2.7l.3-2.3l.2-.5l.2 .2l.3 .3l.3 .6l.2-2.6l.2 2.3l.3-.9l.3 .4l.2 1.1l.2-.2l.3-1.1l.3 .6l.2 1.6l.2-.4l.3-.4l.3-.7l.2 .8l.2-.5l.3-.8l.3-.3l.2 1.3l.2-.1l.3 .8l.3-1.4l.2 1.6l.2-1.4l.3 1.3l.3-.4l.2-1.2l.2-.4l.3 .6l.3-.2l.2 1l.2-1.4l.3-.6l.3 1.2l.2 1.6l.2-.3l.3-1.8l.3 .2l.2 .5l.2-.8l.3 .3l.3 0l.2-.6l.2 .4l.3 .1l.3 .7l.2-1.2l.2 1.1l.3-1l.3 .2l.2-.3l.2 4.1l.3-2.2l.3 .1l.2-.3l.2-.8l.3 .3l.3 .2l.2 .2l.2 .1l.3 .6l.3-3.7l.2 1.9l.2 .9l.3-.9l.3 .1l.2 1.3l.2-1.1l.3 1.3l.3-1.4l.2 .2l.2-1.1l.3-.7l.3 1.2l.2 .4l.2-.3l.3-.8l.3 1.7l.2-.5l.2 0l.3-.7l.3 2l.2-.3l.2-1l.3-.5l.3 .2l.2 1.1l.2 .8l.3-2.4l.3-.5l.2-1.2l.2 3.5l.3-3.3l.3 1.5l.2-.5l.2 .6l.3-2l.3-.7l.2 1.4l.2 .1l.3 .6l.3-2.4l.2 .9l.2 .1l.3-1l.3 .9l.2 .7l.2-.8l.3-1.3l.3 1.4l.2 .4l.2-.1l.3 0l.3-2l.2 1.8l.2 .2l.3-.7l.3 .3l.2-.5l.2 1.7l.3-1.3l.3-.6l.2 .9l.2-.2l.3 .4l.3-1.3l.2 0l.2 .8l.3 1.5l.3-1.4l.2-1.4l.2 1.3l.3-.7l.3-.9l.2 1l.2 0l.3 .8l.3 .7l.2-.1l.2-.3l.3-1l.3 .5l.2-.1l.2 1.2l.3-1.6l.3 .1l.2 1.6l.2-.7l.3-.9l.3 .5l.2-.1l.2 0l.3 .5l.3-.5l.2-.5l.2-.4l.3-1.1l.3 .9l.2 1.1l.2-.9l.3-.9l.3 .2l.2-.7l.2 .7l.3 1.2l.3-.3l.2-.7l.2-.6l.3-1l.3-1l.2 .8l.2-.6l.3 .8l.3-.7l.2-.8l.2 .7l.3 1.9l.3-3.2l.2 1.7l.2-.5l.3-.6l.3-.7l.2 .5l.2-.1l.3 .2l.3-.4l.2-.6l.2-1.1l.3 .6l.3-.8l.2-.7l.2 1.5l.3-1.4l.3-.6l.2 .8l.2-1.8l.3 1.3l.3 .4l.2-1.1l.2 .4l.3 1.4l.3-.7l.2-.6l.2-.4l.3-1.2l.3 .1l.2-.4l.2-.1l.3-.2l.3-1.1l.2 1.8l.2-2.4l.3 1l.3 .4l.2-1.1l.2-.8l.3 .4l.3 1.4l.2-1.3l.2-.9l.3 .6l.3-.8l.2-1.5l.2 1.8l.3 .6l.3-.1l.2-1.1l.2-1.4l.3 1.9l.3-1.6l.2 .4l.2-.1l.3-1l.3-.7l.2-.8l.2-.1l.3 .2l.3-.7l.2 .6l.2-2.2l.3 .5l.3 .6l.2-.8l.2-.2l.3-.8l.3 1.2l.2 .6l.2-2.6l.3 1.6l.3-2.5l.2 1.1l.2-2.2l.3 1.9l.3-.8l.2-.2l.2 .5l.3-.9l.3-.9l.2-1l.2 .4l.3-.9l.3-.1l.2 1.4l.2-.8l.3-.8l.3 0l.2-2.2l.2 1.1l.3-2l.3 .7l.2 .6l.2-.3l.3 0l.3-.9l.2-.5l.2-.4l.3 1l.3-.5l.2-2.9l.2 1.2l.3 .8l.3-1.8l.2 .1l.2-1.1l.3-.9l.3 .9l.2-.9l.2-.2l.3-1.7l.3-.2l.2 .4l.2-.8l.3 .4l.3-2.6l.2 1.8l.2-.7l.3-1l.3 .1l.2-1.3l.2-.7l.3-.5l.3-1.9l.2 .5l.2 .2l.3-3.1l.3 1.7l.2-1.9l.2-.3l.3-.1l.3-.4l.2 1.2l.2-2.8l.3 1.3l.3-2.5l.2-.2l.2-.5l.3-2.1l.3-1.1l.2 .7l.2 .1l.3-.4l.3-1.9l.2 1.7l.2-2.8l.3-1.4l.3 1.3l.2-.7l.2-3.2l.3 1.3l.3-3.1l.2 .8l.2 1.9l.3-1.7l.3-1.4l.2-.8l.2-2.4l.3 .6l.3-.7l.2-2.6l.2 .6l.3-.4l.3-1.3l.2-.7l.2-1.7l.3-2.1l.3 .5l.2-3.3l.2 .6l.3 1.5l.3 .1l.2-2.5l.2-4.4l.3 4l.3-1.8l.2-1.7l.2 .4l.3-1.2l.3-3.1l.2-1.1l.2 2.2l.3-5.3l.3 3l.2-1.3l.2-.1l.3 .1l.3-1.5l.2-.6l.2-2l.3-1.5l.3-.1l.2-2.6l.2-2.3l.3 .1l.3-4.3l.2 1.5l.2 2.8l.3-3.4l.3-2.1l.2-1.7l.2-2.8l.3 .7l.3-1.5l.2 0l.2-1l.3-1.4l.3-4l.2 4l.2-2.7l.3-1.8l.3-1.6l.2 .1l.2 .2l.3-2l.3-3.9l.2-1.2l.2-2.8l.3 2.9l.3-.1l.2-.2l.2-2.8l.3 .1l.3-3.8l.2 1.4l.2-2l.3-1.8l.3-2.7l.2 3.8l.2-6.7l.3 3.9l.3-3.5l.2 1.4l.2-3l.3 1.2l.3-2.7l.2-2.4l.2 0l.3-3l.3 2.4l.2 .3l.2-2.2l.3-1.7l.3 1l.2-5.5l.2 2l.3-2l.3-1.9l.2 .8l.2-4.1l.3 .9l.3-.1l.2-3.8l.2 .6l.3 .4l.3-.4l.2-4.6l.2 2.3l.3-3.5l.3-.4l.2-2.3l.2 1.4l.3-4l.3 .8l.2-.9l.2-.4l.3-4.6l.3 2.3l.2-2.7l.2 1.5l.3-4.8l.3-1.8l.2-.4l.2-1.8l.3-1l.3-3.4l.2-2.8l.2 .1l.3 .7l.3 1l.2-2.5l.2-2.4l.3 .7l.3-.2l.2 4.9l.2-3.2l.3-2.4l.3-3.5l.2 2.4l.2-.3l.3 1.6l.3 3.1l.2-4.4l.2-3.8l.3 3.8l.3-3l.2 5.3l.2 .8l.3-1.3l.3-3.2l.2 3.3l.2 3.6l.3-3.8l.3 1.4l.2 2.3l.2 1.1l.3-.3l.3 1.1l.2 .4l.2-.9l.3 1.7l.3 1.5l.2-2l.2 3.4l.3 .6l.3 1.6l.2 .7l.2-1.9l.3 .5l.3 3.9l.2 .2l.2 1.4l.3-.9l.3 .1l.2 4l.2 .2l.3 2.5l.3 2.1l.2 1.1l.2 .9l.3-2.7l.3-1.2l.2 4.1l.2-.1l.3 .8l.3 4.9l.2-3.4l.2 5.9l.3 2.3l.3 3l.2-2.3l.2 2.9l.3-4.4l.3 .8l.2 4.1l.2-3.5l.3 5.6l.3-1.9l.2-2.4l.2 8.1l.3-4.9l.3 7.6l.2-6.8l.2 1.9l.3 2.7l.3 .4l.2-2.2l.2 3.9l.3 .8l.3 1.2l.2-3.2l.2 2.4l.3 1.5l.3 2.2l.2-.5l.2-.4l.3 .5l.3 4l.2-3.5l.2 2.5l.3-3.9l.3 7.3l.2-1.7l.2-3.5l.3 4.6l.3 1.8l.2-.6l.2-.8l.3 1.7l.3-2.4l.2 1.1l.2 .1l.3 1l.3-1.7l.2 4.3l.2-2.3l.3-1.4l.3 1.5l.2 1.1l.2-.5l.3 1.8l.3-2.5l.2-.8l.2 1.8l.3 1l.3-3.9l.2-1.3l.2 1.2l.3 .6l.3-1.8l.2 1.5l.2-2l.3 2.3l.3-3.7l.2 0l.2 1l.3 .4l.3-.4l.2-3.3l.2-.1l.3-.4l.3-.1l.2-4.8l.2-2l.3 1.1l.3-2.5l.2 .9l.2-3.3l.3-.9l.3-2.9l.2 0l.2-.3l.3-3.8l.3-3.1l.2 .9l.2-3.7l.3-1.7l.3-3.3l.2-.2l.2-4.8l.3-2.2l.3-1.8l.2-2.7l.2-5.1l.3 1.5l.3-4.2l.2-.3l.2-3.3l.3-2.6l.3-4.7l.2-5.4l.2-4.2l.3-5.8l.3-4.8l.2-5.7l.2-5.7l.3-1.4l.3-2.1l.2-5.2l.2-4.3l.3-4.4l.3-2.2l.2-5.5l.2-.7l.3-4.9l.3-3.4l.2-1.9l.2-4.6l.3-3.3l.3-1.2l.2-.6l.2-5.3l.3-1.7l.3-9.1l.2-3.7l.2-2l.3 .5l.3-5l.2 1.5l.2-1.4l.3 1.2l.3-1.3l.2 .5l.2-1.2l.3 0l.3 1.5l.2 3.4l.2 1.2l.3 2.4l.3 2l.2 5.3l.2-.8l.3 3.6l.3 5.6l.2 6.3l.2 5.8l.3 5l.3 6l.2 5.5l.2 5.5l.3 5.5l.3 8.3l.2 6.3l.2 11.9l.3 11l.3 6.3l.2 6.5l.2 5l.3 6.2l.3 4.4l.2 3.8l.2 5.8l.3 6.1l.3 3.4l.2 4.8l.2 4.4l.3 4.1l.3 5.3l.2 4.2l.2 3.4l.3 5.3l.3 2l.2 3.5l.2 3.8l.3 3.6l.3 .6l.2 5.5l.2 4.4l.3 .7l.3 5.3l.2 3l.2 3.4l.3 5.2l.3 2.9l.2 .5l.2 4.1l.3 3.8l.3 .4l.2 1.7l.2 2.3l.3 1.8l.3 3.3l.2 .1l.2 1.6l.3 3.6l.3 2.4l.2 1.2l.2 1.6l.3-.4l.3 .2l.2 2l.2 1.8l.3-.9l.3 2.6l.2 1.9l.2-.5l.3 4l.3-.5l.2-2.1l.2 1.7l.3 1.3l.3 2.5l.2 .5l.2-.3l.3 1.6l.3 1.5l.2 .4l.2-1.7l.3 1.3l.3 .9l.2-.3l.2 3.7l.3-1l.3 .7l.2 .5l.2 2l.3 1l.3 .8l.2 1.3l.2-2l.3 3.6l.3 1.6l.2-2.9l.2 .7l.3 1.8l.3 1.3l.2-1.3l.2-.2l.3 3.9l.3-2.8l.2-2.4l.2 4.1l.3 .8l.3 1.1l.2 .4l.2 1.9l.3-4.2l.3-.2l.2-.3l.2 4.1l.3-2.5l.3-1.4l.2-.3l.2 2.9l.3-.6l.3 1.2l.2-1.3l.2 .4l.3 1.8l.3-.6l.2 1.2l.2-.7l.3-.1l.3 .9l.2-.8l.2 .8l.3 .4l.3-1l.2 .6l.2 .5l.3 .9l.3-.4l.2 .2l.2 .5l.3-.9l.3 1l.2-1.2l.2-1.2l.3 3.1l.3-2.9l.2 2.6l.2 2.4l.3-.8l.3-2.1l.2 2.5l.2-.4l.3-1.2l.3 1.2l.2-.3l.2 .5l.3 1.1l.3-2.2l.2 3.4l.2 1.7l.3-2.7l.3-.9l.2 1l.2 2.4l.3-2l.3 1.6l.2 2.8l.2-3.7l.3 1.3l.3-.7l.2 .4l.2 .7l.3-1.1l.3 1.7l.2-.3l.2 1.4l.3-.4l.3-.2l.2 1.7l.2-2.1l.3 1.4l.3-1.6l.2 3.1l.2-2.9l.3 2.4l.3-2.3l.2 1.3l.2-1.8l.3 .4l.3-.3l.2 2l.2 .2l.3 1l.3-.9l.2-.6l.2 1.4l.3 1.5l.3-2.6l.2-.4l.2 2l.3 2.2l.3-2.9l.2-.3l.2-.8l.3 .6l.3-.2l.2 0l.2 3l.3 .4l.3-1.7l.2 0l.2 1.1l.3-1.2l.3 .2l.2 .7l.2-.9l.3 2l.3 3l.2-4.8l.2 .4l.3-1.7l.3 .5l.2 .8l.2 .4l.3-.9l.3-1.4l.2 2.4l.2-1.3l.3 1.5l.3-.8l.2 .3l.2 .2l.3-2.9l.3 5.2l.2-3.7l.2 2.6l.3 .4l.3-1.6l.2-1.2l.2 3.1l.3-2.3l.3 1.4l.2 1l.2-1.2l.3-1.8l.3 1.8l.2 1.9l.2-2l.3 2.7l.3-3.8l.2 .8l.2-1.4l.3 1.1l.3 3.7l.2-1.5l.2-1.4l.3-.6l.3 2.7l.2-2.1l.2-1.4l.3 4l.3-4.6l.2 2.5l.2 .7l.3 .6l.3 1.7l.2-1.7l.2-2.9l.3 4.6l.3-2.3l.2-2.3l.2 .3l.3 .5l.3-2.2l.2 4.3l.2 .2l.3-.1l.3-2.1l.2 1.3l.2 2l.3-1.4l.3-.9l.2-1l.2 1.1l.3 2.2l.3-2.1l.2 3.9l.2 .3l.3-2.7l.3-3.8l.2 2.3l.2 2.6l.3-3.1l.3-.3l.2 1.1l.2 4.5l.3-5.3l.3-2.5l.2 3.8l.2 .3l.3 .7l.3-1l.2 .5l.2-1.4l.3 2.5l.3-1.8l.2 .9l.2-2.3l.3 3.6l.3-2.1l.2-1.3l.2 .7l.3-2l.3 .8l.2 2.5l.2-.4l.3 .5l.3-.2l.2-1.7l.2 .7l.3 4.9l.3-5.2l.2-2.4l.2 2.7l.3-.6l.3 .6l.2 .2l.2-1.8l.3 2.5l.3-1.1l.2 1.2l.2-2.4l.3-.6l.3 1l.2 3.7l.2-6.2l.3 5.2l.3-2l.2 2.2l.2-2.7l.3 1.4l.3 0l.2 3.1l.2-4l.3 .7l.3-1.8l.2 2l.2-1.9l.3 1.1l.3 .8l.2 .3l.2-2.7l.3 0l.3 3.7l.2-3.1l.2 1.3l.3-.9l.3-2.3l.2 2.9l.2 .1l.3 3.6l.3-6.6l.2 2.8l.2 2.4l.3-2l.3-2.8l.2 5.2l.2-.9l.3-2l.3-.4l.2 .4l.2 1.4l.3-.8l.3-1l.2 1.8l.2 1.3l.3-3.1l.3 4.1l.2-2.9l.2 1.1l.3-.3l.3 .2l.2-.5l.2-4.6l.3 2.6l.3 3.6l.2-3.5l.2 2.3l.3-3.2l.3 1.7l.2 4.1l.2-2.7l.3-2.3l.3 .2l.2-2.2l.2 4.1l.3-1.4l.3 1.9l.2 .2l.2-2.1l.3-1.2l.3-.4l.2 1.5l.2 .8l.3 2.5l.3-4.6l.2 2.6l.2-3l.3 .8l.3 2.7l.2-.5l.2-1.9l.3-.1l.3 3.5l.2-2.3l.2-.2l.3-1.3l.3 7l.2-1.2l.2-2.5l.3 3.3l.3-3.3l.2-1.7l.2 1.6l.3 1.6l.3-5.2l.2 4.4l.2-.3l.3 .4l.3-2.2l.2 1.1l.2-5.7l.3 3.2l.3 2.2l.2-.8l.2-.5l.3-2.8l.3 2.3l.2-3l.2 3l.3 1.2l.3-1.6l.2 1.9l.2-1l.3 1.6l.3-2.4l.2-2.4l.2 .8l.3 1l.3 1.6l.2 .3l.2-1.6l.3 1.6l.3-1.6l.2 2.4l.2-4.1l.3 4.7l.3-1.9l.2-1.4l.2-1.4l.3 3.3l.3-2.2l.2 2.4l.2 2.4l.3-3.1l.3 .2l.2 .6l.2-2.1l.3 4.9l.3-4.2l.2 1.7l.2-.7l.3-1.9l.3 3.7l.2-2.1l.2-2.1l.3-.2l.3-2.5l.2 1.6l.2 3.8l.3 0l.3-3.4l.2 3l.2 .7l.3-.4l.3 .8l.2-6.2l.2 4l.3-2.2l.3 3.1l.2-2.8l.2 1.6l.3 1.4l.3-4.8l.2 1.7l.2-.1l.3 1.2l.3-3l.2 4.5l.2 2.2l.3-4.3l.3 1.6l.2-6.2l.2 2.9l.3 3.7l.3-.6l.2 .8l.2 1.4l.3-2.4l.3-.8l.2-.5l.2 .9l.3-4.5l.3 6.8l.2-7.2l.2 1l.3 3.1l.3 1.6l.2-.8l.2 1.7l.3-3.8l.3-.6l.2 2.3l.2-3.4l.3 2.5l.3 .4l.2-.6l.2-4.6l.3 3.4l.3-3.5l.2 5.7l.2-2.5l.3 2.8l.3 2l.2-6.6l.2 4.3l.3-1.1l.3 1.9l.2-5.5l.2-.1l.3 .9l.3-2l.2 3.9l.2-1.5l.3 1.8l.3 .3l.2 .9l.2-4.3l.3 3.8l.3-.3l.2-3.5l.2 .5l.3-1.7l.3 5.1l.2 .2l.2-4.4l.3 1.4l.3 .9l.2 .5l.2-1.5l.3 3.3l.3-5.1l.2 3.5l.2-1.6l.3 .5l.3-2.3l.2-2.1l.2 2.2l.3 1.9l.3-2.6l.2-1.7l.2 2.9l.3 .4l.3-1.8l.2 1.9l.2 1.1l.3-.3l.3 1.4l.2 .5l.2-2.4l.3-1.7l.3-2l.2 5.1l.2-1.6l.3 1l.3-3.8l.2 1.8l.2-2l.3-.1l.3-1l.2 2.4l.2 1.4l.3 .6l.3-1l.2-1.1l.2 4.3l.3-1.1l.3-1.2l.2-1.9l.2 2l.3-4.2l.3-1.3l.2 3.3l.2-1.2l.3 1.4l.3-3.9l.2 1.9l.2-2.7l.3 1.3l.3 1.6l.2-1l.2-1.6l.3-.9l.3 2.2l.2-1l.2-1l.3 2.9l.3-2l.2 4.2l.2 1.4l.3-1.9l.3 3.1l.2-7.9l.2-1.1l.3 3l.3-3.3l.2 3.6l.2 1.2l.3-.3l.3 .2l.2-2.7l.2 .3l.3 .6l.3-.7l.2 1.9l.2-2.6l.3 .6l.3-1.3l.2 3.1l.2-1.7l.3-.1l.3-1.3l.2-2.7l.2 2.5l.3-3.5l.3 3.9l.2-2.6l.2 4.6l.3-4.1l.3 .8l.2-1.1l.2-1.4l.3-.9l.3-1.9l.2 3.6l.2-2.7l.3 6.1l.3-4.8l.2 1.1l.2 .9l.3-.5l.3 2.3l.2-2.5l.2-.9l.3 .6l.3 3.2l.2-1.5l.2-5.4l.3 3.1l.3-1.3l.2 1.6l.2 1l.3-1.5l.3 .9l.2 1.9l.2-6.9l.3 3.2l.3 0l.2 .7l.2-.8l.3 1.5l.3-2l.2 .8l.2-4l.3 3.3l.3-2.9l.2 3.3l.2 2l.3-3.8l.3 .7l.2 .3l.2 .9l.3-1.4l.3 .6l.2-3.7l.2 .7l.3-2.8l.3 7l.2-6.7l.2 4.1l.3-1.5l.3-.2l.2-2.6l.2 2.1l.3 .1l.3 .4l.2-1.7l.2 .8l.3-2.7l.3 3.9l.2-3.9l.2 8l.3-7.9l.3-1.5l.2 1.9l.2-.8l.3 2.2l.3 .1l.2-3.6l.2-.1l.3 0l.3 2.5l.2 1.1l.2-.4l.3-1.5l.3 .4l.2 1l.2 1l.3-2.8l.3 2l.2-3.2l.2 .7l.3 1.6l.3-4.1l.2-1.9l.2 1l.3 1.7l.3-2l.2 1.6l.2 2.6l.3-3.7l.3 3l.2-1.1l.2-4l.3 3.8l.3-.3l.2 .2l.2-1.5l.3 .1l.3-1.7l.2-.8l.2 1.4l.3 1.2l.3-2.8l.2 4l.2-4.3l.3 1.3l.3-3.4l.2 5.5l.2-1.6l.3 1.1l.3-4.9l.2 5.2l.2-2l.3-2.3l.3 .2l.2-2.4l.2 2.2l.3 1.7l.3-3.8l.2 2l.2-3.4l.3-3.2l.3 4.6l.2 3l.2-.6l.3-3.8l.3 3.7l.2-.5l.2-1.4l.3-1.4l.3 2.6l.2-2.2l.2-.6l.3 2.8l.3-3.5l.2 2.6l.2 1.4l.3-4.5l.3 1.4l.2 .5l.2-4.8l.3 2.3l.3-.3l.2-.1l.2-.7l.3 4.1l.3-4.3l.2 1.4l.2 1.2l.3 1.7l.3-6.4l.2 .3l.2 .2l.3 1.1l.3 2.1l.2-2.3l.2 .4l.3 2.5l.3-3.7l.2 .8l.2 3.5l.3-2.5l.3-2.8l.2-.3l.2 3.3l.3-4.7l.3 .3l.2 3.2l.2 .9l.3 .5l.3-5.3l.2 2.7l.2-7.7l.3 4.6l.3 7.3l.2-2.9l.2-1.8l.3-3.4l.3-.7l.2 4.5l.2-2.5l.3-1.3l.3 2.9l.2-.1l.2-2.8l.3 .5l.3 5.2l.2-6.2l.2 3.9l.3-3.4l.3-.4l.2-.4l.2 1.6l.3 .1l.3 1.3l.2-3.1l.2 2.1l.3-2l.3-.5l.2 2.6l.2-.5l.3-4l.3 3.2l.2-4l.2 1.5l.3 5.2l.3-.6l.2-3l.2 1.5l.3 1.2l.3 .9l.2-.1l.2-4.9l.3 1.5l.3 .3l.2-4.9l.2 3.4l.3 2.7l.3-1.6l.2-.8l.2-1.2l.3 1.1l.3 .9l.2-.7l.2 2.7l.3-.8l.3-4.2l.2 4.2l.2-1.8l.3 1.3l.3-2.9l.2 2.9l.2-3.3l.3 3.3l.3-2.2l.2-.6l.2-2.2l.3-.7l.3 4.7l.2-4l.2-.2l.3 3l.3-.8l.2 1.1l.2-3.6l.3-1.5l.3 2.5l.2 3.8l.2-2l.3 .9l.3 0l.2-.8l.2-.2l.3-1l.3 .6l.2 .1l.2-2.1l.3 2.4l.3-1.2l.2-.2l.2-.2l.3 2l.3-1.9l.2 2.6l.2-4.2l.3 3.1l.3-4.1l.2 3.1l.2-1.1l.3 .1l.3-1.2l.2 1.9l.2 1l.3-4.7l.3 3.1l.2 .5l.2 .6l.3-.7l.3-3.1l.2 3.9l.2-3.8l.3 2.5l.3-.7l.2-1.6l.2-.7l.3 1.3l.3 3.1l.2-1.6l.2-2.4l.3 2.6l.3 1.8l.2 1l.2-7.6l.3 4.8l.3 .2l.2-3.3l.2-2.1l.3 6.1l.3-3.5l.2-2.4l.2 .9l.3 3.3l.3 2.7l.2-2.6l.2-3.5l.3 4.1l.3-6.1l.2 5.6l.2-.1l.3 1.6l.3-1.6l.2 .1l.2-2.1l.3-1.1l.3 .6l.2 3.5l.2-4.9l.3 .9l.3-.9l.2 2.2l.2-.5l.3 2.9l.3 .1l.2-2.1l.2-.6l.3-2.1l.3-2.8l.2 3.3l.2-.6l.3-2.3l.3 2.6l.2 1.5l.2-3.7l.3 3.4l.3-1l.2-1.9l.2 1.3l.3 1.2l.3-1.9l.2 .1l.2 2.6l.3-1.7l.3-.2l.2-2.2l.2 2.3l.3 1.4l.3-4.9l.2-1.4l.2 1.7l.3 1.4l.3-1.5l.2-1.2l.2 6.7l.3-3.9l.3-.7l.2-4.1l.2 7.4l.3-4.9l.3 5.5l.2-1.6l.2-.8l.3-.9l.3 2.3l.2-3l.2 1.9l.3-1.7l.3 .4l.2 3.8l.2-.8l.3-4.1l.3 .2l.2 1.7l.2-.4l.3 1.2l.3-1.8l.2-1.4l.2 3.7l.3-2.1l.3 1.9l.2-3.1l.2 4.9l.3-2.2l.3 0l.2 .3l.2-3.8l.3 5.1l.3-3.2l.2-1.2l.2 3l.3 2.8l.3-4.6l.2 4.8l.2-7l.3 5.3l.3-1.3l.2 2l.2 4l.3-2.7l.3-4l.2 6l.2-4.8l.3 1.3l.3-.4l.2 2.4l.2-.1l.3 3.9l.3-2.2l.2 1.1l.2-1.3l.3 2.9l.3-3.9l.2-.5l.2 4.9l.3 0l.3-1.1l.2 4.6l.2-6l.3 4.9l.3 .5l.2-5.2l.2 3.9l.3 .7l.3-1.5l.2 .2l.2 .4l.3-1.4l.3-.8l.2 4.5l.2-.8l.3-.2l.3 1.3l.2-2.5l.2 .6l.3 3.1l.3-1.4l.2 1.1l.2 1.4l.3 1.5l.3-5.1l.2 .8l.2-1.5l.3 1.6l.3 2.6l.2-1.8l.2 5.6l.3-4.9l.3-2.4l.2 2l.2 6.2l.3-5.7l.3 1.8l.2-1.4l.2-.5l.3 4.6l.3-4.6l.2-1.2l.2 2.2l.3 .3l.3 2.4l.2-.4l.2 2.5l.3-2.5l.3 1.5l.2 .3l.2 1.2l.3-4.3l.3 1.9l.2-4.6l.2 4l.3-.6l.3 1l.2 5.1l.2-.7l.3-4.7l.3 6.8l.2-.8l.2-1.9l.3-.6l.3 .1l.2 .3l.2 1.3l.3-1.8l.3 2.6l.2-2.5l.2-.6l.3 1.2l.3 1.1l.2 .3l.2-.7l.3-3l.3 .4l.2-.8l.2 2.8l.3 2l.3-1.3l.2 0l.2-.6l.3 .4l.3-.4l.2 3.5l.2-4.4l.3 .7l.3 2.7l.2-1.8l.2 2l.3-2.2l.3 1.7l.2-.3l.2-3l.3 3.7l.3 1.4l.2-3.7l.2 1.2l.3 1.6l.3 1.9l.2-2.1l.2 4l.3-5.2l.3 4.6l.2-5.2l.2 1.4l.3-1.8l.3 4.6l.2-1.8l.2-4.7l.3-1.9l.3 9.3l.2-4.9l.2-2.7l.3 1.4l.3 .9l.2 4l.2-2.2l.3-.7l.3-1.9l.2 3.2l.2-4.7l.3 5.6l.3 .7l.2-3.9l.2-2l.3 1.7l.3 1l.2 4.2l.2-.5l.3-5l.3 .5l.2-1l.2 3.5l.3-1.7l.3 2.5l.2-1.2l.2-1.2l.3-.9l.3-1.1l.2 4.3l.2-3.6l.3 4l.3-4.5l.2-1.7l.2 5l.3-1.2l.3 3l.2-1.8l.2 0l.3 2l.3-2.8l.2 2.7l.2 6.1l.3-6.6l.3-2.2l.2 1.9l.2-1.4l.3 1.2l.3 4.2l.2-4.9l.2 0l.3 3.9l.3-1.3l.2 1l.2-.5l.3 2.2l.3 2.7l.2-1.3l.2-1.8l.3 .3l.3-.9l.2 .2l.2 3.8l.3-.6l.3 .1l.2 .3l.2-1.9l.3 1.4l.3 1.4l.2 2.4l.2-2.3l.3-.1l.3-1.3l.2 3.8l.2-2.1l.3 1.3l.3 .5l.2-2l.2 2.3l.3 1.9l.3-3.7l.2 .9l.2-.4l.3 2l.3 4l.2-3.2l.2 2l.3-1.7l.3-1.1l.2 1.1l.2 .8l.3-.5l.3 .6l.2 .6l.2-1l.3 4.5l.3-1.8l.2-.8l.2-.7l.3 2.1l.3-2l.2-.7l.2 1.9l.3 3.5l.3-2.5l.2 1l.2-1.8l.3 3.2l.3-1.8l.2 .2l.2-.1l.3 1.4l.3-1.6l.2 1.4l.2 .6l.3-1.3l.3-1.8l.2 4.8l.2-3l.3-1.2l.3 3.9l.2 .1l.2 2.4l.3 .4l.3-6.6l.2 3.3l.2 1.8l.3-3l.3 5l.2-1.3l.2-1.8l.3 .4l.3 1.7l.2 3.5l.2-.4l.3-6.6l.3 3.9l.2-4l.2 2.6l.3-1.6l.3 1.5l.2-.1l.2 1.8l.3-1.9l.3 3.1l.2-1.4l.2-1.4l.3 4.7l.3-2.1l.2-.9l.2 .7l.3 1.3l.3-1.4l.2-.8l.2 1.1l.3-.6l.3 .1l.2 4.3l.2-1.5l.3 1.1l.3-3.5l.2-2.3l.2 2.7l.3 1.7l.3-1.9l.2 1.4l.2-2.2l.3 3l.3-1.7l.2 .9l.2 1.5l.3-2.6l.3-.5l.2 .5l.2 2.8l.3-1.8l.3 2.7l.2-1l.2 1.1l.3-1.8l.3 2l.2-1l.2-5.3l.3 6.4l.3-1.2l.2-2.5l.2-1.6l.3-1.3l.3 3.9l.2-1.8l.2-.4l.3 .5l.3-1.1l.2 5.3l.2-3.3l.3 1.9l.3 .6l.2 .5l.2-.9l.3 1.8l.3-2.8l.2 5.1l.2-7.4l.3 4.2l.3 2.8l.2-6.3l.2 4.6l.3 1.2l.3-4.8l.2 3.9l.2-4l.3 1.8l.3-.9l.2-1.4l.2-.1l.3 1.2l.3-1.6l.2 3.4l.2 .1l.3 2.1l.3-1.2l.2-1l.2-.1l.3 5.5l.3-7.8l.2 .5l.2 6.9l.3-2.3l.3-1.9l.2 .6l.2 .8l.3-4.9l.3 2.3l.2 2l.2-.1l.3 .9l.3-1.7l.2-1.2l.2-.6l.3 2.3l.3-1.3l.2 .9l.2 1.8l.3-.2l.3-4.7l.2 4.9l.2-3.9l.3-1.1l.3 7.6l.2-3.4l.2-1.6l.3 .5l.3 2.6l.2 2.2l.2-1.4l.3-3l.3-2l.2 2l.2 2.2l.3-1.1l.3-3.5l.2 2.8l.2 1.1l.3-2.9l.3 3.6l.2 1.2l.2-1.1l.3-3.4l.3 1.1l.2 .4l.2-.5l.3 2.4l.3-1.4l.2-.1l.2 .8l.3-1.4l.3-1.7l.2 2.9l.2-.9l.3 1.9l.3-1l.2-1l.2 2.5l.3-2.1l.3-2.5l.2 5.5l.2-.7l.3-2.3l.3-3l.2 1.1l.2 3.8l.3-2l.3-.6l.2 1.5l.2-2l.3 .2l.3 3.4l.2-1.3l.2 .5l.3-.3l.3 .8l.2-.4l.2-3.2l.3 1.3l.3 3.6l.2-2.7l.2 3.2l.3-3.8l.3-1.9l.2 3l.2-1.1l.3-.4l.3-.1l.2-2.6l.2 4.9l.3-1.3l.3-1.6l.2-1.3l.2 4.4l.3-1.2l.3 1.2l.2-.6l.2 .6l.3-1.7l.3-2.9l.2 3l.2 1.3l.3-4.5l.3 1.8l.2 3.7l.2-5.1l.3 5.1l.3-4.3l.2-1.2l.2 2.3l.3-.1l.3 3.1l.2-5.8l.2 2.3l.3 .1l.3-.3l.2 2.2l.2-1.3l.3 1l.3-.6l.2 2.5l.2-3.3l.3 1.4l.3 1.7l.2-.5l.2-.9l.3 1.7l.3-.7l.2 .1l.2-.8l.3 1.7l.3 .1l.2-3.8l.2 2.6l.3-.3l.3 .5l.2-2.7l.2-.9l.3 1.9l.3 2.5l.2-4.1l.2 3.8l.3-1.8l.3 .2l.2 0l.2-1l.3 .2l.3 1.7l.2 1.9l.2-2.5l.3 .6l.3-2.3l.2 1.4l.2 2.3l.3 0l.3-2.6l.2 .4l.2-.8l.3-.9l.3 2.6l.2-1.8l.2 3.7l.3-7.2l.3 .8l.2 1l.2 2.5l.3-.3l.3-1l.2-4.5l.2 6.6l.3-3.4l.3 6l.2-2.4l.2-1.6l.3 .9l.3 3.6l.2-3.8l.2-1.7l.3-2.9l.3 4.4l.2-1.3l.2 3.5l.3-2.1l.3 1.6l.2-2.9l.2-.8l.3 3.5l.3-2.1l.2-1l.2 1.3l.3 2.2l.3-3.2l.2 5l.2-2.8l.3-4.6l.3 1.3l.2 1.9l.2-.7l.3-.1l.3 .5l.2 .8l.2-.9l.3-.5l.3-2.5l.2 7l.2-2.8l.3 1.1l.3-.6l.2 2.4l.2-2.2l.3 2.5l.3-3.4l.2 .6l.2 1.4l.3 0l.3 1l.2-3.6l.2 1.9l.3-1.9l.3-1.7l.2 4.7l.2-1.9l.3-1.8l.3 .5l.2 2.3l.2-1.1l.3-.3l.3 1.4l.2-1.5l.2-3.5l.3 5.1l.3-2.5l.2 .2l.2-3.9l.3-1.6l.3 6.4l.2-.9l.2 .9l.3 .6l.3 1.3l.2 .9l.2-.2l.3-4.3l.3 .4l.2 1.7l.2 2.4l.3-.5l.3-3.2l.2-1.2l.2 2.9l.3-.8l.3 1.7l.2 .3l.2-.9l.3-2.4l.3-.6l.2 1.8l.2 1.4l.3-1l.3 1.5l.2-2.1l.2 2.9l.3-1.5l.3-1.4l.2-1l.2 1l.3 .2l.3 2.7l.2-3l.2 1.1l.3-5.3l.3 6l.2-2l.2-1.5l.3-2.5l.3 2.8l.2 4.7l.2-1.6l.3-.1l.3-2.5l.2 2l.2 0l.3-.5l.3-2.3l.2 .7l.2 .8l.3 6.6l.3-9.6l.2 7l.2-.5l.3-2l.3 .8l.2-.9l.2 .3l.3-2.2l.3-2.6l.2 9.2l.2-1.8l.3-6l.3 5l.2-3l.2 1.7l.3-2.9l.3 0l.2 5.6l.2-4.5l.3 .7l.3 1.5l.2 1.4l.2-3.9l.3 2.1l.3 .1l.2-2.7l.2-.1l.3 2.3l.3-1.5l.2 3.3l.2-6.5l.3 4.6l.3-1.2l.2-2.3l.2 2.6l.3-2.5l.3 2.2l.2 2.8l.2-3.6l.3 2.6l.3-.7l.2-1.5l.2 .4l.3 1l.3 .3l.2-1.4l.2 .8l.3 1.9l.3-3.4l.2-.3l.2 2.9l.3 .2l.3-5.6l.2 4.5l.2 2.3l.3-1.2l.3-2.5l.2 1.4l.2-4l.3 4.4l.3-.5l.2 1.2l.2-1.9l.3 1.7l.3-2l.2 3.1l.2-1.1l.3-4.2l.3 .4l.2 4.3l.2 1l.3 .6l.3-3.4l.2 1.3l.2-1.1l.3-.8l.3 .6l.2 2.7l.2-3.4l.3 4.2l.3-6l.2 2l.2 1.7l.3 .1l.3-.7l.2-3.5l.2 2.7l.3 3.3l.3-1.6l.2-.4l.2-.4l.3-1.1l.3 .1l.2-1.1l.2 3.8l.3-1.7l.3 0l.2-.3l.2-.6l.3-2.1l.3 2.9l.2-1.2l.2 .3l.3 1.4l.3 2.1l.2-4.7l.2 1.8l.3 3l.3-5.8l.2 3.3l.2-2l.3 2.3l.3 1.6l.2-3.2l.2 2.1l.3-1.3l.3 3.1l.2-10.3l.2 4.9l.3 1.6l.3 .4l.2 3.1l.2-.9l.3-2.9l.3-2l.2 5.2l.2-1.6l.3-1.1l.3 2.2l.2 1.7l.2-3l.3 2l.3-6.3l.2 5.2l.2 3l.3-2l.3-3.4l.2-.8l.2 3.5l.3-2.7l.3 .7l.2-2.4l.2 1.4l.3 3l.3-2.7l.2-.2l.2-1l.3 2.3l.3 1l.2-.5l.2-5.8l.3 5.5l.3-2l.2 1.5l.1-2.1"/></g>
<path d="M73.1,0.7V588.8M72.1,587.8H800.9" fill="none" stroke="#000" stroke-width="2"/>
<path d="M61.3,1.70H73.1M67.2,32.55H73.1M61.3,63.40H73.1M67.2,94.25H73.1M61.3,125.10H73.1M67.2,155.95H73.1M61.3,186.80H73.1M67.2,217.65H73.1M61.3,248.50H73.1M67.2,279.35H73.1M61.3,310.20H73.1M67.2,341.05H73.1M61.3,371.90H73.1M67.2,402.75H73.1M61.3,433.60H73.1M67.2,464.45H73.1M61.3,495.30H73.1M67.2,526.15H73.1M61.3,557.00H73.1M67.2,587.85H73.1M82.37,587.8V593.3M130.20,587.8V599M178.04,587.8V593.3M225.87,587.8V599M273.71,587.8V593.3M321.54,587.8V599M369.38,587.8V593.3M417.21,587.8V599M465.05,587.8V593.3M512.88,587.8V599M560.72,587.8V593.3M608.55,587.8V599M656.39,587.8V593.3M704.22,587.8V599M752.06,587.8V593.3M799.89,587.8V599" fill="none" stroke="#000" stroke-width="2"/>
<text class="tk" transform="translate(130.2,626.8) scale(1,1.04)">500</text>
<text class="tk" transform="translate(225.9,626.8) scale(1,1.04)">1000</text>
<text class="tk" transform="translate(321.5,626.8) scale(1,1.04)">1500</text>
<text class="tk" transform="translate(417.2,626.8) scale(1,1.04)">2000</text>
<text class="tk" transform="translate(512.9,626.8) scale(1,1.04)">2500</text>
<text class="tk" transform="translate(608.6,626.8) scale(1,1.04)">3000</text>
<text class="tk" transform="translate(704.2,626.8) scale(1,1.04)">3500</text>
<text class="tk" transform="translate(799.9,626.8) scale(1,1.04)">4000</text>
<text class="ti" transform="translate(352.1,668.1) scale(1,1.025)">Raman Shift, cm<tspan font-size="17.8" dy="-12.2">-1</tspan></text>
<text class="ti" transform="translate(21.85,448.9) rotate(-90) scale(1,1.04)">Normalized Intensity, arb.</text>
<text class="lb" transform="translate(83.1,353.0) scale(1,1.04)">BC-CL40</text>
<text class="lb" transform="translate(83.4,414.9) scale(1,1.04)">BC-C</text>
<text class="lb" transform="translate(83.3,473.9) scale(1,1.04)">BC-BL40</text>
<text class="lb" transform="translate(82.9,537.0) scale(1,1.04)">BC-B</text>
<text class="pk" transform="translate(281.3,157.8) scale(1,1.04)">D</text>
<text class="pk" transform="translate(330.6,39.3) scale(1,1.04)">G</text>
</svg>
</body></html>
